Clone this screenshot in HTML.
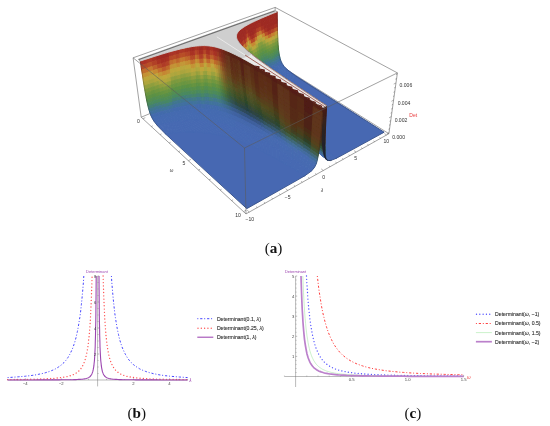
<!DOCTYPE html><html><head><meta charset="utf-8"><title>Figure</title>
<style>html,body{margin:0;padding:0;background:#fff}svg{display:block}text{font-family:"Liberation Sans",sans-serif}.cap{font-family:"Liberation Serif",serif;font-size:15.2px;fill:#111}</style></head><body>
<svg width="550" height="426" viewBox="0 0 550 426">
<rect width="550" height="426" fill="#fff"/>
<defs><linearGradient id="slv" x1="0" y1="107" x2="0" y2="160" gradientUnits="userSpaceOnUse"><stop offset="0" stop-color="#4a1c14"/><stop offset="0.45" stop-color="#2a2422"/><stop offset="1" stop-color="#1c2436"/></linearGradient><filter id="bl" x="-5%" y="-5%" width="110%" height="110%"><feGaussianBlur stdDeviation="0.6"/></filter></defs>
<g stroke="#5a5a5a" stroke-width="0.6" fill="none" stroke-opacity="0.95">
<path d="M274.6 62L141.2 117.2"/>
<path d="M274.6 62L388.9 133.7"/>
<path d="M274.6 62L275.2 7.4"/>
</g>
<g filter="url(#bl)" stroke-width="1" stroke-linejoin="round">
<path d="M296 76.1L295 77.3L294 78.5L293.1 79.7L292.3 80.9L291.6 82.1L290.9 83.3L290.3 84.5L289.7 85.7L289.2 86.9L288.8 88.1L288.5 89.3L288.2 90.5L288 91.8L287.8 93L287.7 94.3L287.7 95.6L287.8 96.9L287.9 98.2L288.1 99.5L288.4 100.9L288.7 102.2L289.1 103.6L289.6 105L290.2 106.5L290.9 108L291.6 109.5L292.4 111L293.3 112.6L294.2 114.2L295.3 115.8L296.5 117.5L297.7 119.3L299 121L300.5 122.9L302 124.8L303.6 126.7L305.4 128.7L307.2 130.7L309.2 132.8L311.2 135L313.4 137.3L315.8 139.6L318.2 142L320.8 144.5L323.5 147.1L326.4 149.7L329.5 152.5L332.6 155.4L336 158.4L384.1 132.2z" fill="#4668b2" stroke="#4668b2"/>
<path d="M277.2 11.7L273.2 13.3L273.3 17.4L277.2 15.9z" fill="#9e2a21" stroke="#9e2a21"/>
<path d="M277.2 15.9L273.3 17.4L273.5 21.5L277.3 19.9z" fill="#9e2a21" stroke="#9e2a21"/>
<path d="M277.3 19.9L273.5 21.5L273.6 25.4L277.3 23.8z" fill="#9e2a21" stroke="#9e2a21"/>
<path d="M277.3 23.8L273.6 25.4L273.7 29.1L277.4 27.6z" fill="#a93224" stroke="#a93224"/>
<path d="M277.4 27.6L273.7 29.1L273.9 32.8L277.5 31.2z" fill="#bb592a" stroke="#bb592a"/>
<path d="M277.5 31.2L273.9 32.8L274.1 36.3L277.6 34.7z" fill="#c39436" stroke="#c39436"/>
<path d="M277.6 34.7L274.1 36.3L274.3 39.6L277.8 38.1z" fill="#b3a63c" stroke="#b3a63c"/>
<path d="M277.8 38.1L274.3 39.6L274.6 42.9L277.9 41.3z" fill="#8a9d3d" stroke="#8a9d3d"/>
<path d="M277.9 41.3L274.6 42.9L274.8 46L278.1 44.4z" fill="#75983f" stroke="#75983f"/>
<path d="M278.1 44.4L274.8 46L275.2 49L278.4 47.4z" fill="#639341" stroke="#639341"/>
<path d="M278.4 47.4L275.2 49L275.6 51.8L278.6 50.3z" fill="#578f4a" stroke="#578f4a"/>
<path d="M278.6 50.3L275.6 51.8L276 54.6L279 53.1z" fill="#4d8b58" stroke="#4d8b58"/>
<path d="M279 53.1L276 54.6L276.6 57.2L279.5 55.8z" fill="#46846b" stroke="#46846b"/>
<path d="M273.2 13.3L269.6 14.8L269.7 18.9L273.3 17.4z" fill="#9e2a21" stroke="#9e2a21"/>
<path d="M273.3 17.4L269.7 18.9L269.9 23L273.5 21.5z" fill="#9e2a21" stroke="#9e2a21"/>
<path d="M273.5 21.5L269.9 23L270.1 26.9L273.6 25.4z" fill="#9e2a21" stroke="#9e2a21"/>
<path d="M279.5 55.8L276.6 57.2L277.4 59.8L280.1 58.3z" fill="#427a88" stroke="#427a88"/>
<path d="M273.6 25.4L270.1 26.9L270.3 30.6L273.7 29.1z" fill="#a22d22" stroke="#a22d22"/>
<path d="M273.7 29.1L270.3 30.6L270.5 34.3L273.9 32.8z" fill="#b34327" stroke="#b34327"/>
<path d="M273.9 32.8L270.5 34.3L270.8 37.8L274.1 36.3z" fill="#c58030" stroke="#c58030"/>
<path d="M274.1 36.3L270.8 37.8L271.1 41.1L274.3 39.6z" fill="#bca63b" stroke="#bca63b"/>
<path d="M274.3 39.6L271.1 41.1L271.4 44.4L274.6 42.9z" fill="#99a03d" stroke="#99a03d"/>
<path d="M274.6 42.9L271.4 44.4L271.8 47.5L274.8 46z" fill="#7b993e" stroke="#7b993e"/>
<path d="M280.1 58.3L277.4 59.8L278.4 62.3L280.9 60.9z" fill="#41729c" stroke="#41729c"/>
<path d="M274.8 46L271.8 47.5L272.2 50.4L275.2 49z" fill="#699440" stroke="#699440"/>
<path d="M275.2 49L272.2 50.4L272.7 53.3L275.6 51.8z" fill="#599046" stroke="#599046"/>
<path d="M275.6 51.8L272.7 53.3L273.3 56L276 54.6z" fill="#4f8c55" stroke="#4f8c55"/>
<path d="M280.9 60.9L278.4 62.3L279.8 64.8L282.1 63.4z" fill="#436cab" stroke="#436cab"/>
<path d="M276 54.6L273.3 56L274 58.6L276.6 57.2z" fill="#478666" stroke="#478666"/>
<path d="M276.6 57.2L274 58.6L274.9 61.2L277.4 59.8z" fill="#437c83" stroke="#437c83"/>
<path d="M269.6 14.8L266.1 16.2L266.4 20.4L269.7 18.9z" fill="#9e2a21" stroke="#9e2a21"/>
<path d="M269.7 18.9L266.4 20.4L266.6 24.4L269.9 23z" fill="#9e2a21" stroke="#9e2a21"/>
<path d="M269.9 23L266.6 24.4L266.8 28.3L270.1 26.9z" fill="#9e2a21" stroke="#9e2a21"/>
<path d="M270.1 26.9L266.8 28.3L267.1 32.1L270.3 30.6z" fill="#9e2a21" stroke="#9e2a21"/>
<path d="M270.3 30.6L267.1 32.1L267.4 35.7L270.5 34.3z" fill="#ac3725" stroke="#ac3725"/>
<path d="M270.5 34.3L267.4 35.7L267.7 39.2L270.8 37.8z" fill="#c06c2d" stroke="#c06c2d"/>
<path d="M270.8 37.8L267.7 39.2L268.1 42.6L271.1 41.1z" fill="#c1a43a" stroke="#c1a43a"/>
<path d="M271.1 41.1L268.1 42.6L268.4 45.8L271.4 44.4z" fill="#a5a33d" stroke="#a5a33d"/>
<path d="M277.4 59.8L274.9 61.2L276 63.6L278.4 62.3z" fill="#41749a" stroke="#41749a"/>
<path d="M271.4 44.4L268.4 45.8L268.9 48.9L271.8 47.5z" fill="#7f9a3d" stroke="#7f9a3d"/>
<path d="M282.1 63.4L279.8 64.8L281.9 67.5L283.9 66.2z" fill="#446ab0" stroke="#446ab0"/>
<path d="M271.8 47.5L268.9 48.9L269.4 51.8L272.2 50.4z" fill="#6c9540" stroke="#6c9540"/>
<path d="M272.2 50.4L269.4 51.8L270 54.7L272.7 53.3z" fill="#5b9143" stroke="#5b9143"/>
<path d="M272.7 53.3L270 54.7L270.6 57.4L273.3 56z" fill="#518c53" stroke="#518c53"/>
<path d="M278.4 62.3L276 63.6L277.6 66.1L279.8 64.8z" fill="#436da9" stroke="#436da9"/>
<path d="M273.3 56L270.6 57.4L271.5 60L274 58.6z" fill="#488861" stroke="#488861"/>
<path d="M274 58.6L271.5 60L272.5 62.5L274.9 61.2z" fill="#437e7f" stroke="#437e7f"/>
<path d="M266.1 16.2L263 17.6L263.2 21.7L266.4 20.4z" fill="#9e2a21" stroke="#9e2a21"/>
<path d="M266.4 20.4L263.2 21.7L263.5 25.8L266.6 24.4z" fill="#9e2a21" stroke="#9e2a21"/>
<path d="M266.6 24.4L263.5 25.8L263.8 29.7L266.8 28.3z" fill="#9e2a21" stroke="#9e2a21"/>
<path d="M266.8 28.3L263.8 29.7L264.1 33.4L267.1 32.1z" fill="#a63024" stroke="#a63024"/>
<path d="M267.1 32.1L264.1 33.4L264.4 37.1L267.4 35.7z" fill="#b84e28" stroke="#b84e28"/>
<path d="M267.4 35.7L264.4 37.1L264.8 40.6L267.7 39.2z" fill="#c48d33" stroke="#c48d33"/>
<path d="M267.7 39.2L264.8 40.6L265.2 43.9L268.1 42.6z" fill="#b6a63c" stroke="#b6a63c"/>
<path d="M274.9 61.2L272.5 62.5L273.8 65L276 63.6z" fill="#417599" stroke="#417599"/>
<path d="M268.1 42.6L265.2 43.9L265.7 47.1L268.4 45.8z" fill="#8f9e3d" stroke="#8f9e3d"/>
<path d="M279.8 64.8L277.6 66.1L280 68.8L281.9 67.5z" fill="#446bb0" stroke="#446bb0"/>
<path d="M268.4 45.8L265.7 47.1L266.2 50.2L268.9 48.9z" fill="#77983e" stroke="#77983e"/>
<path d="M268.9 48.9L266.2 50.2L266.8 53.2L269.4 51.8z" fill="#659441" stroke="#659441"/>
<path d="M269.4 51.8L266.8 53.2L267.4 56L270 54.7z" fill="#588f49" stroke="#588f49"/>
<path d="M283.9 66.2L281.9 67.5L285.8 71L287.4 69.7z" fill="#456ab1" stroke="#456ab1"/>
<path d="M270 54.7L267.4 56L268.2 58.7L270.6 57.4z" fill="#4e8b57" stroke="#4e8b57"/>
<path d="M276 63.6L273.8 65L275.6 67.4L277.6 66.1z" fill="#436ea8" stroke="#436ea8"/>
<path d="M270.6 57.4L268.2 58.7L269.1 61.3L271.5 60z" fill="#468569" stroke="#468569"/>
<path d="M271.5 60L269.1 61.3L270.3 63.8L272.5 62.5z" fill="#427b86" stroke="#427b86"/>
<path d="M263 17.6L260 18.8L260.3 23L263.2 21.7z" fill="#9e2a21" stroke="#9e2a21"/>
<path d="M263.2 21.7L260.3 23L260.6 27.1L263.5 25.8z" fill="#9e2a21" stroke="#9e2a21"/>
<path d="M263.5 25.8L260.6 27.1L261 31L263.8 29.7z" fill="#a63024" stroke="#a63024"/>
<path d="M263.8 29.7L261 31L261.3 34.7L264.1 33.4z" fill="#b74b28" stroke="#b74b28"/>
<path d="M264.1 33.4L261.3 34.7L261.7 38.4L264.4 37.1z" fill="#c58732" stroke="#c58732"/>
<path d="M272.5 62.5L270.3 63.8L271.7 66.3L273.8 65z" fill="#41739b" stroke="#41739b"/>
<path d="M264.4 37.1L261.7 38.4L262.1 41.9L264.8 40.6z" fill="#baa63c" stroke="#baa63c"/>
<path d="M264.8 40.6L262.1 41.9L262.6 45.2L265.2 43.9z" fill="#9aa13d" stroke="#9aa13d"/>
<path d="M277.6 66.1L275.6 67.4L278.2 70.1L280 68.8z" fill="#446bb0" stroke="#446bb0"/>
<path d="M265.2 43.9L262.6 45.2L263.1 48.5L265.7 47.1z" fill="#7c993d" stroke="#7c993d"/>
<path d="M265.7 47.1L263.1 48.5L263.7 51.5L266.2 50.2z" fill="#6b9540" stroke="#6b9540"/>
<path d="M266.2 50.2L263.7 51.5L264.3 54.5L266.8 53.2z" fill="#5c9143" stroke="#5c9143"/>
<path d="M281.9 67.5L280 68.8L284.3 72.2L285.8 71z" fill="#456ab1" stroke="#456ab1"/>
<path d="M266.8 53.2L264.3 54.5L265.1 57.3L267.4 56z" fill="#528d51" stroke="#528d51"/>
<path d="M273.8 65L271.7 66.3L273.7 68.7L275.6 67.4z" fill="#436caa" stroke="#436caa"/>
<path d="M267.4 56L265.1 57.3L265.9 60L268.2 58.7z" fill="#4a895e" stroke="#4a895e"/>
<path d="M268.2 58.7L265.9 60L266.9 62.6L269.1 61.3z" fill="#447f75" stroke="#447f75"/>
<path d="M269.1 61.3L266.9 62.6L268.2 65.1L270.3 63.8z" fill="#40768f" stroke="#40768f"/>
<path d="M260 18.8L257.3 20.1L257.6 24.3L260.3 23z" fill="#9e2a21" stroke="#9e2a21"/>
<path d="M260.3 23L257.6 24.3L258 28.3L260.6 27.1z" fill="#a42f23" stroke="#a42f23"/>
<path d="M260.6 27.1L258 28.3L258.3 32.2L261 31z" fill="#b34427" stroke="#b34427"/>
<path d="M270.3 63.8L268.2 65.1L269.8 67.5L271.7 66.3z" fill="#41709f" stroke="#41709f"/>
<path d="M261 31L258.3 32.2L258.7 36L261.3 34.7z" fill="#c4792f" stroke="#c4792f"/>
<path d="M261.3 34.7L258.7 36L259.2 39.6L261.7 38.4z" fill="#c1a63b" stroke="#c1a63b"/>
<path d="M275.6 67.4L273.7 68.7L276.6 71.3L278.2 70.1z" fill="#446ab0" stroke="#446ab0"/>
<path d="M261.7 38.4L259.2 39.6L259.6 43.1L262.1 41.9z" fill="#a9a43d" stroke="#a9a43d"/>
<path d="M262.1 41.9L259.6 43.1L260.2 46.5L262.6 45.2z" fill="#849b3d" stroke="#849b3d"/>
<path d="M262.6 45.2L260.2 46.5L260.7 49.7L263.1 48.5z" fill="#73973f" stroke="#73973f"/>
<path d="M263.1 48.5L260.7 49.7L261.3 52.8L263.7 51.5z" fill="#639341" stroke="#639341"/>
<path d="M280 68.8L278.2 70.1L282.9 73.4L284.3 72.2z" fill="#456ab1" stroke="#456ab1"/>
<path d="M263.7 51.5L261.3 52.8L262 55.8L264.3 54.5z" fill="#578f4a" stroke="#578f4a"/>
<path d="M264.3 54.5L262 55.8L262.8 58.6L265.1 57.3z" fill="#4f8b56" stroke="#4f8b56"/>
<path d="M271.7 66.3L269.8 67.5L271.9 70L273.7 68.7z" fill="#436aad" stroke="#436aad"/>
<path d="M265.1 57.3L262.8 58.6L263.8 61.3L265.9 60z" fill="#478665" stroke="#478665"/>
<path d="M265.9 60L263.8 61.3L264.9 63.9L266.9 62.6z" fill="#427c7d" stroke="#427c7d"/>
<path d="M266.9 62.6L264.9 63.9L266.2 66.4L268.2 65.1z" fill="#407394" stroke="#407394"/>
<path d="M257.3 20.1L254.7 21.2L255.1 25.4L257.6 24.3z" fill="#9e2a21" stroke="#9e2a21"/>
<path d="M268.2 65.1L266.2 66.4L267.9 68.8L269.8 67.5z" fill="#416ea2" stroke="#416ea2"/>
<path d="M257.6 24.3L255.1 25.4L255.5 29.5L258 28.3z" fill="#a12c22" stroke="#a12c22"/>
<path d="M258 28.3L255.5 29.5L255.9 33.4L258.3 32.2z" fill="#af3c26" stroke="#af3c26"/>
<path d="M273.7 68.7L271.9 70L275 72.5L276.6 71.3z" fill="#446ab0" stroke="#446ab0"/>
<path d="M258.3 32.2L255.9 33.4L256.4 37.2L258.7 36z" fill="#c06c2d" stroke="#c06c2d"/>
<path d="M258.7 36L256.4 37.2L256.8 40.8L259.2 39.6z" fill="#c29e38" stroke="#c29e38"/>
<path d="M259.2 39.6L256.8 40.8L257.3 44.3L259.6 43.1z" fill="#b0a63d" stroke="#b0a63d"/>
<path d="M259.6 43.1L257.3 44.3L257.9 47.7L260.2 46.5z" fill="#889c3d" stroke="#889c3d"/>
<path d="M287.4 69.7L285.8 71L295.8 77.7L296.7 76.6z" fill="#4669b2" stroke="#4669b2"/>
<path d="M260.2 46.5L257.9 47.7L258.5 50.9L260.7 49.7z" fill="#75983e" stroke="#75983e"/>
<path d="M260.7 49.7L258.5 50.9L259.2 54L261.3 52.8z" fill="#659441" stroke="#659441"/>
<path d="M278.2 70.1L276.6 71.3L281.5 74.6L282.9 73.4z" fill="#456ab1" stroke="#456ab1"/>
<path d="M261.3 52.8L259.2 54L259.9 57L262 55.8z" fill="#589048" stroke="#589048"/>
<path d="M262 55.8L259.9 57L260.8 59.8L262.8 58.6z" fill="#508c55" stroke="#508c55"/>
<path d="M269.8 67.5L267.9 68.8L270.2 71.2L271.9 70z" fill="#436aad" stroke="#436aad"/>
<path d="M262.8 58.6L260.8 59.8L261.8 62.5L263.8 61.3z" fill="#478862" stroke="#478862"/>
<path d="M263.8 61.3L261.8 62.5L263 65.1L264.9 63.9z" fill="#437d7b" stroke="#437d7b"/>
<path d="M264.9 63.9L263 65.1L264.4 67.6L266.2 66.4z" fill="#407493" stroke="#407493"/>
<path d="M266.2 66.4L264.4 67.6L266.2 70L267.9 68.8z" fill="#416ea1" stroke="#416ea1"/>
<path d="M254.7 21.2L252.4 22.4L252.8 26.6L255.1 25.4z" fill="#9e2a21" stroke="#9e2a21"/>
<path d="M255.1 25.4L252.8 26.6L253.2 30.6L255.5 29.5z" fill="#9e2a21" stroke="#9e2a21"/>
<path d="M271.9 70L270.2 71.2L273.5 73.8L275 72.5z" fill="#446ab0" stroke="#446ab0"/>
<path d="M255.5 29.5L253.2 30.6L253.7 34.6L255.9 33.4z" fill="#a22d22" stroke="#a22d22"/>
<path d="M255.9 33.4L253.7 34.6L254.1 38.3L256.4 37.2z" fill="#b03f26" stroke="#b03f26"/>
<path d="M256.4 37.2L254.1 38.3L254.7 42L256.8 40.8z" fill="#c2742e" stroke="#c2742e"/>
<path d="M285.8 71L284.3 72.2L294.9 78.8L295.8 77.7z" fill="#4669b2" stroke="#4669b2"/>
<path d="M256.8 40.8L254.7 42L255.2 45.5L257.3 44.3z" fill="#c1a63b" stroke="#c1a63b"/>
<path d="M257.3 44.3L255.2 45.5L255.8 48.9L257.9 47.7z" fill="#a6a43d" stroke="#a6a43d"/>
<path d="M257.9 47.7L255.8 48.9L256.5 52.1L258.5 50.9z" fill="#819b3d" stroke="#819b3d"/>
<path d="M276.6 71.3L275 72.5L280.3 75.8L281.5 74.6z" fill="#456ab1" stroke="#456ab1"/>
<path d="M258.5 50.9L256.5 52.1L257.2 55.2L259.2 54z" fill="#6f963f" stroke="#6f963f"/>
<path d="M259.2 54L257.2 55.2L258 58.2L259.9 57z" fill="#5f9242" stroke="#5f9242"/>
<path d="M259.9 57L258 58.2L258.9 61L260.8 59.8z" fill="#548e4e" stroke="#548e4e"/>
<path d="M267.9 68.8L266.2 70L268.7 72.4L270.2 71.2z" fill="#436aad" stroke="#436aad"/>
<path d="M260.8 59.8L258.9 61L260 63.7L261.8 62.5z" fill="#4b8a5b" stroke="#4b8a5b"/>
<path d="M261.8 62.5L260 63.7L261.2 66.3L263 65.1z" fill="#458171" stroke="#458171"/>
<path d="M263 65.1L261.2 66.3L262.7 68.8L264.4 67.6z" fill="#41788c" stroke="#41788c"/>
<path d="M252.4 22.4L250.2 23.4L250.7 27.7L252.8 26.6z" fill="#9e2a21" stroke="#9e2a21"/>
<path d="M252.8 26.6L250.7 27.7L251.1 31.7L253.2 30.6z" fill="#9e2a21" stroke="#9e2a21"/>
<path d="M264.4 67.6L262.7 68.8L264.7 71.2L266.2 70z" fill="#41719e" stroke="#41719e"/>
<path d="M253.2 30.6L251.1 31.7L251.6 35.7L253.7 34.6z" fill="#9e2a21" stroke="#9e2a21"/>
<path d="M253.7 34.6L251.6 35.7L252.1 39.5L254.1 38.3z" fill="#a52f23" stroke="#a52f23"/>
<path d="M270.2 71.2L268.7 72.4L272.2 75L273.5 73.8z" fill="#446ab0" stroke="#446ab0"/>
<path d="M284.3 72.2L282.9 73.4L294.1 80L294.9 78.8z" fill="#4669b2" stroke="#4669b2"/>
<path d="M254.1 38.3L252.1 39.5L252.7 43.1L254.7 42z" fill="#b64a28" stroke="#b64a28"/>
<path d="M254.7 42L252.7 43.1L253.2 46.6L255.2 45.5z" fill="#c58832" stroke="#c58832"/>
<path d="M255.2 45.5L253.2 46.6L253.9 50L255.8 48.9z" fill="#b8a63c" stroke="#b8a63c"/>
<path d="M255.8 48.9L253.9 50L254.6 53.2L256.5 52.1z" fill="#939f3d" stroke="#939f3d"/>
<path d="M275 72.5L273.5 73.8L279.1 77L280.3 75.8z" fill="#456ab1" stroke="#456ab1"/>
<path d="M256.5 52.1L254.6 53.2L255.3 56.4L257.2 55.2z" fill="#78983e" stroke="#78983e"/>
<path d="M257.2 55.2L255.3 56.4L256.2 59.3L258 58.2z" fill="#669441" stroke="#669441"/>
<path d="M258 58.2L256.2 59.3L257.1 62.2L258.9 61z" fill="#589048" stroke="#589048"/>
<path d="M266.2 70L264.7 71.2L267.2 73.6L268.7 72.4z" fill="#436bac" stroke="#436bac"/>
<path d="M258.9 61L257.1 62.2L258.3 64.9L260 63.7z" fill="#4f8b56" stroke="#4f8b56"/>
<path d="M260 63.7L258.3 64.9L259.6 67.5L261.2 66.3z" fill="#468568" stroke="#468568"/>
<path d="M261.2 66.3L259.6 67.5L261.2 69.9L262.7 68.8z" fill="#427b85" stroke="#427b85"/>
<path d="M250.2 23.4L248.3 24.5L248.7 28.7L250.7 27.7z" fill="#9e2a21" stroke="#9e2a21"/>
<path d="M250.7 27.7L248.7 28.7L249.2 32.8L251.1 31.7z" fill="#9e2a21" stroke="#9e2a21"/>
<path d="M251.1 31.7L249.2 32.8L249.7 36.7L251.6 35.7z" fill="#9e2a21" stroke="#9e2a21"/>
<path d="M251.6 35.7L249.7 36.7L250.2 40.5L252.1 39.5z" fill="#a52f23" stroke="#a52f23"/>
<path d="M262.7 68.8L261.2 69.9L263.2 72.4L264.7 71.2z" fill="#41739b" stroke="#41739b"/>
<path d="M252.1 39.5L250.2 40.5L250.8 44.2L252.7 43.1z" fill="#b64a28" stroke="#b64a28"/>
<path d="M282.9 73.4L281.5 74.6L293.4 81.1L294.1 80z" fill="#4669b2" stroke="#4669b2"/>
<path d="M268.7 72.4L267.2 73.6L270.9 76.1L272.2 75z" fill="#446ab0" stroke="#446ab0"/>
<path d="M252.7 43.1L250.8 44.2L251.4 47.7L253.2 46.6z" fill="#c58832" stroke="#c58832"/>
<path d="M253.2 46.6L251.4 47.7L252.1 51.1L253.9 50z" fill="#b8a63c" stroke="#b8a63c"/>
<path d="M253.9 50L252.1 51.1L252.8 54.4L254.6 53.2z" fill="#939f3d" stroke="#939f3d"/>
<path d="M254.6 53.2L252.8 54.4L253.6 57.5L255.3 56.4z" fill="#78983e" stroke="#78983e"/>
<path d="M273.5 73.8L272.2 75L278 78.2L279.1 77z" fill="#456ab1" stroke="#456ab1"/>
<path d="M255.3 56.4L253.6 57.5L254.5 60.4L256.2 59.3z" fill="#669441" stroke="#669441"/>
<path d="M256.2 59.3L254.5 60.4L255.5 63.3L257.1 62.2z" fill="#589048" stroke="#589048"/>
<path d="M257.1 62.2L255.5 63.3L256.7 66L258.3 64.9z" fill="#4f8b56" stroke="#4f8b56"/>
<path d="M264.7 71.2L263.2 72.4L265.9 74.8L267.2 73.6z" fill="#436caa" stroke="#436caa"/>
<path d="M258.3 64.9L256.7 66L258.1 68.6L259.6 67.5z" fill="#478568" stroke="#478568"/>
<path d="M259.6 67.5L258.1 68.6L259.8 71.1L261.2 69.9z" fill="#427b85" stroke="#427b85"/>
<path d="M248.3 24.5L246.5 25.5L247 29.7L248.7 28.7z" fill="#9e2a21" stroke="#9e2a21"/>
<path d="M248.7 28.7L247 29.7L247.5 33.8L249.2 32.8z" fill="#9e2a21" stroke="#9e2a21"/>
<path d="M249.2 32.8L247.5 33.8L248 37.8L249.7 36.7z" fill="#a63024" stroke="#a63024"/>
<path d="M249.7 36.7L248 37.8L248.5 41.6L250.2 40.5z" fill="#b64b28" stroke="#b64b28"/>
<path d="M250.2 40.5L248.5 41.6L249.1 45.2L250.8 44.2z" fill="#c58631" stroke="#c58631"/>
<path d="M250.8 44.2L249.1 45.2L249.8 48.8L251.4 47.7z" fill="#bba63c" stroke="#bba63c"/>
<path d="M281.5 74.6L280.3 75.8L292.7 82.2L293.4 81.1z" fill="#4669b2" stroke="#4669b2"/>
<path d="M261.2 69.9L259.8 71.1L261.9 73.5L263.2 72.4z" fill="#41739b" stroke="#41739b"/>
<path d="M251.4 47.7L249.8 48.8L250.5 52.2L252.1 51.1z" fill="#9ba13d" stroke="#9ba13d"/>
<path d="M267.2 73.6L265.9 74.8L269.7 77.3L270.9 76.1z" fill="#446ab0" stroke="#446ab0"/>
<path d="M252.1 51.1L250.5 52.2L251.2 55.4L252.8 54.4z" fill="#7c993d" stroke="#7c993d"/>
<path d="M252.8 54.4L251.2 55.4L252.1 58.6L253.6 57.5z" fill="#6c9540" stroke="#6c9540"/>
<path d="M253.6 57.5L252.1 58.6L253 61.5L254.5 60.4z" fill="#5c9143" stroke="#5c9143"/>
<path d="M272.2 75L270.9 76.1L277 79.4L278 78.2z" fill="#456ab1" stroke="#456ab1"/>
<path d="M254.5 60.4L253 61.5L254.1 64.4L255.5 63.3z" fill="#528d51" stroke="#528d51"/>
<path d="M255.5 63.3L254.1 64.4L255.3 67.1L256.7 66z" fill="#4a895e" stroke="#4a895e"/>
<path d="M263.2 72.4L261.9 73.5L264.7 75.9L265.9 74.8z" fill="#436caa" stroke="#436caa"/>
<path d="M256.7 66L255.3 67.1L256.7 69.7L258.1 68.6z" fill="#447f74" stroke="#447f74"/>
<path d="M258.1 68.6L256.7 69.7L258.5 72.2L259.8 71.1z" fill="#40768f" stroke="#40768f"/>
<path d="M246.5 25.5L244.8 26.4L245.3 30.7L247 29.7z" fill="#9e2a21" stroke="#9e2a21"/>
<path d="M247 29.7L245.3 30.7L245.9 34.8L247.5 33.8z" fill="#a63024" stroke="#a63024"/>
<path d="M247.5 33.8L245.9 34.8L246.4 38.7L248 37.8z" fill="#b54928" stroke="#b54928"/>
<path d="M248 37.8L246.4 38.7L247 42.6L248.5 41.6z" fill="#c68130" stroke="#c68130"/>
<path d="M248.5 41.6L247 42.6L247.6 46.3L249.1 45.2z" fill="#bea63b" stroke="#bea63b"/>
<path d="M249.1 45.2L247.6 46.3L248.3 49.8L249.8 48.8z" fill="#a4a33d" stroke="#a4a33d"/>
<path d="M249.8 48.8L248.3 49.8L249 53.2L250.5 52.2z" fill="#819b3d" stroke="#819b3d"/>
<path d="M280.3 75.8L279.1 77L292 83.3L292.7 82.2z" fill="#4669b2" stroke="#4669b2"/>
<path d="M259.8 71.1L258.5 72.2L260.7 74.7L261.9 73.5z" fill="#41709f" stroke="#41709f"/>
<path d="M250.5 52.2L249 53.2L249.8 56.5L251.2 55.4z" fill="#71973f" stroke="#71973f"/>
<path d="M265.9 74.8L264.7 75.9L268.7 78.5L269.7 77.3z" fill="#446ab0" stroke="#446ab0"/>
<path d="M251.2 55.4L249.8 56.5L250.7 59.6L252.1 58.6z" fill="#619341" stroke="#619341"/>
<path d="M252.1 58.6L250.7 59.6L251.6 62.6L253 61.5z" fill="#568f4b" stroke="#568f4b"/>
<path d="M270.9 76.1L269.7 77.3L276.1 80.5L277 79.4z" fill="#456ab1" stroke="#456ab1"/>
<path d="M253 61.5L251.6 62.6L252.7 65.5L254.1 64.4z" fill="#4e8b57" stroke="#4e8b57"/>
<path d="M254.1 64.4L252.7 65.5L254 68.2L255.3 67.1z" fill="#478566" stroke="#478566"/>
<path d="M261.9 73.5L260.7 74.7L263.6 77.1L264.7 75.9z" fill="#436aad" stroke="#436aad"/>
<path d="M255.3 67.1L254 68.2L255.5 70.8L256.7 69.7z" fill="#427b7e" stroke="#427b7e"/>
<path d="M256.7 69.7L255.5 70.8L257.3 73.4L258.5 72.2z" fill="#407394" stroke="#407394"/>
<path d="M244.8 26.4L243.4 27.4L243.9 31.6L245.3 30.7z" fill="#9e2a21" stroke="#9e2a21"/>
<path d="M245.3 30.7L243.9 31.6L244.4 35.7L245.9 34.8z" fill="#9e2a21" stroke="#9e2a21"/>
<path d="M245.9 34.8L244.4 35.7L245 39.7L246.4 38.7z" fill="#a73024" stroke="#a73024"/>
<path d="M246.4 38.7L245 39.7L245.6 43.6L247 42.6z" fill="#b84e28" stroke="#b84e28"/>
<path d="M247 42.6L245.6 43.6L246.2 47.2L247.6 46.3z" fill="#c58932" stroke="#c58932"/>
<path d="M247.6 46.3L246.2 47.2L246.9 50.8L248.3 49.8z" fill="#b9a63c" stroke="#b9a63c"/>
<path d="M248.3 49.8L246.9 50.8L247.7 54.2L249 53.2z" fill="#98a03d" stroke="#98a03d"/>
<path d="M249 53.2L247.7 54.2L248.5 57.5L249.8 56.5z" fill="#7b993e" stroke="#7b993e"/>
<path d="M258.5 72.2L257.3 73.4L259.6 75.8L260.7 74.7z" fill="#416da2" stroke="#416da2"/>
<path d="M279.1 77L278 78.2L291.5 84.4L292 83.3z" fill="#4669b2" stroke="#4669b2"/>
<path d="M249.8 56.5L248.5 57.5L249.4 60.7L250.7 59.6z" fill="#6b9540" stroke="#6b9540"/>
<path d="M264.7 75.9L263.6 77.1L267.7 79.7L268.7 78.5z" fill="#446ab0" stroke="#446ab0"/>
<path d="M250.7 59.6L249.4 60.7L250.4 63.7L251.6 62.6z" fill="#5b9143" stroke="#5b9143"/>
<path d="M251.6 62.6L250.4 63.7L251.5 66.5L252.7 65.5z" fill="#528d51" stroke="#528d51"/>
<path d="M269.7 77.3L268.7 78.5L275.3 81.7L276.1 80.5z" fill="#456ab1" stroke="#456ab1"/>
<path d="M252.7 65.5L251.5 66.5L252.8 69.3L254 68.2z" fill="#49895e" stroke="#49895e"/>
<path d="M260.7 74.7L259.6 75.8L262.5 78.2L263.6 77.1z" fill="#436aad" stroke="#436aad"/>
<path d="M254 68.2L252.8 69.3L254.4 71.9L255.5 70.8z" fill="#447f75" stroke="#447f75"/>
<path d="M243.4 27.4L242.1 28.3L242.6 32.6L243.9 31.6z" fill="#9e2a21" stroke="#9e2a21"/>
<path d="M243.9 31.6L242.6 32.6L243.1 36.7L244.4 35.7z" fill="#9e2a21" stroke="#9e2a21"/>
<path d="M244.4 35.7L243.1 36.7L243.7 40.7L245 39.7z" fill="#9e2a21" stroke="#9e2a21"/>
<path d="M245 39.7L243.7 40.7L244.4 44.5L245.6 43.6z" fill="#aa3225" stroke="#aa3225"/>
<path d="M255.5 70.8L254.4 71.9L256.2 74.5L257.3 73.4z" fill="#407690" stroke="#407690"/>
<path d="M245.6 43.6L244.4 44.5L245 48.2L246.2 47.2z" fill="#bc5c2b" stroke="#bc5c2b"/>
<path d="M246.2 47.2L245 48.2L245.7 51.8L246.9 50.8z" fill="#c39636" stroke="#c39636"/>
<path d="M246.9 50.8L245.7 51.8L246.5 55.2L247.7 54.2z" fill="#b2a63c" stroke="#b2a63c"/>
<path d="M247.7 54.2L246.5 55.2L247.3 58.5L248.5 57.5z" fill="#889c3d" stroke="#889c3d"/>
<path d="M248.5 57.5L247.3 58.5L248.3 61.7L249.4 60.7z" fill="#74973f" stroke="#74973f"/>
<path d="M257.3 73.4L256.2 74.5L258.6 76.9L259.6 75.8z" fill="#41709f" stroke="#41709f"/>
<path d="M278 78.2L277 79.4L290.9 85.5L291.5 84.4z" fill="#4669b2" stroke="#4669b2"/>
<path d="M249.4 60.7L248.3 61.7L249.3 64.7L250.4 63.7z" fill="#639341" stroke="#639341"/>
<path d="M263.6 77.1L262.5 78.2L266.8 80.8L267.7 79.7z" fill="#446ab0" stroke="#446ab0"/>
<path d="M250.4 63.7L249.3 64.7L250.4 67.6L251.5 66.5z" fill="#568f4b" stroke="#568f4b"/>
<path d="M251.5 66.5L250.4 67.6L251.8 70.4L252.8 69.3z" fill="#4d8b59" stroke="#4d8b59"/>
<path d="M268.7 78.5L267.7 79.7L274.5 82.9L275.3 81.7z" fill="#456ab1" stroke="#456ab1"/>
<path d="M259.6 75.8L258.6 76.9L261.6 79.4L262.5 78.2z" fill="#436aad" stroke="#436aad"/>
<path d="M252.8 69.3L251.8 70.4L253.4 73L254.4 71.9z" fill="#46836c" stroke="#46836c"/>
<path d="M242.1 28.3L240.9 29.2L241.4 33.5L242.6 32.6z" fill="#9e2a21" stroke="#9e2a21"/>
<path d="M242.6 32.6L241.4 33.5L242 37.6L243.1 36.7z" fill="#9e2a21" stroke="#9e2a21"/>
<path d="M243.1 36.7L242 37.6L242.6 41.6L243.7 40.7z" fill="#a42e23" stroke="#a42e23"/>
<path d="M243.7 40.7L242.6 41.6L243.2 45.5L244.4 44.5z" fill="#b34527" stroke="#b34527"/>
<path d="M244.4 44.5L243.2 45.5L243.9 49.2L245 48.2z" fill="#c57e2f" stroke="#c57e2f"/>
<path d="M245 48.2L243.9 49.2L244.7 52.8L245.7 51.8z" fill="#bea63b" stroke="#bea63b"/>
<path d="M254.4 71.9L253.4 73L255.3 75.6L256.2 74.5z" fill="#427a88" stroke="#427a88"/>
<path d="M245.7 51.8L244.7 52.8L245.4 56.2L246.5 55.2z" fill="#a1a23d" stroke="#a1a23d"/>
<path d="M246.5 55.2L245.4 56.2L246.3 59.5L247.3 58.5z" fill="#7f9a3d" stroke="#7f9a3d"/>
<path d="M247.3 58.5L246.3 59.5L247.2 62.7L248.3 61.7z" fill="#6d9640" stroke="#6d9640"/>
<path d="M248.3 61.7L247.2 62.7L248.3 65.7L249.3 64.7z" fill="#5d9242" stroke="#5d9242"/>
<path d="M256.2 74.5L255.3 75.6L257.7 78L258.6 76.9z" fill="#41729c" stroke="#41729c"/>
<path d="M277 79.4L276.1 80.5L290.5 86.7L290.9 85.5z" fill="#4669b2" stroke="#4669b2"/>
<path d="M249.3 64.7L248.3 65.7L249.5 68.6L250.4 67.6z" fill="#538d4f" stroke="#538d4f"/>
<path d="M262.5 78.2L261.6 79.4L266.1 82L266.8 80.8z" fill="#446ab0" stroke="#446ab0"/>
<path d="M250.4 67.6L249.5 68.6L250.9 71.4L251.8 70.4z" fill="#4a895d" stroke="#4a895d"/>
<path d="M267.7 79.7L266.8 80.8L273.9 84.1L274.5 82.9z" fill="#4569b1" stroke="#4569b1"/>
<path d="M240.9 29.2L239.9 30.1L240.4 34.4L241.4 33.5z" fill="#9e2a21" stroke="#9e2a21"/>
<path d="M241.4 33.5L240.4 34.4L241 38.5L242 37.6z" fill="#9e2a21" stroke="#9e2a21"/>
<path d="M242 37.6L241 38.5L241.6 42.5L242.6 41.6z" fill="#a02c22" stroke="#a02c22"/>
<path d="M251.8 70.4L250.9 71.4L252.5 74.1L253.4 73z" fill="#448073" stroke="#448073"/>
<path d="M258.6 76.9L257.7 78L260.9 80.5L261.6 79.4z" fill="#436cab" stroke="#436cab"/>
<path d="M242.6 41.6L241.6 42.5L242.3 46.4L243.2 45.5z" fill="#ae3b26" stroke="#ae3b26"/>
<path d="M243.2 45.5L242.3 46.4L243 50.1L243.9 49.2z" fill="#c16d2d" stroke="#c16d2d"/>
<path d="M243.9 49.2L243 50.1L243.7 53.7L244.7 52.8z" fill="#c2a23a" stroke="#c2a23a"/>
<path d="M244.7 52.8L243.7 53.7L244.5 57.2L245.4 56.2z" fill="#aaa53d" stroke="#aaa53d"/>
<path d="M253.4 73L252.5 74.1L254.5 76.7L255.3 75.6z" fill="#41778e" stroke="#41778e"/>
<path d="M245.4 56.2L244.5 57.2L245.4 60.5L246.3 59.5z" fill="#839b3d" stroke="#839b3d"/>
<path d="M246.3 59.5L245.4 60.5L246.4 63.7L247.2 62.7z" fill="#71973f" stroke="#71973f"/>
<path d="M247.2 62.7L246.4 63.7L247.4 66.8L248.3 65.7z" fill="#609242" stroke="#609242"/>
<path d="M255.3 75.6L254.5 76.7L256.9 79.2L257.7 78z" fill="#41709e" stroke="#41709e"/>
<path d="M248.3 65.7L247.4 66.8L248.7 69.7L249.5 68.6z" fill="#558e4d" stroke="#558e4d"/>
<path d="M276.1 80.5L275.3 81.7L290.1 87.8L290.5 86.7z" fill="#4669b2" stroke="#4669b2"/>
<path d="M261.6 79.4L260.9 80.5L265.4 83.2L266.1 82z" fill="#446ab0" stroke="#446ab0"/>
<path d="M249.5 68.6L248.7 69.7L250.1 72.5L250.9 71.4z" fill="#4c8a5b" stroke="#4c8a5b"/>
<path d="M239.9 30.1L239 30.9L239.6 35.2L240.4 34.4z" fill="#9e2a21" stroke="#9e2a21"/>
<path d="M240.4 34.4L239.6 35.2L240.1 39.4L241 38.5z" fill="#9e2a21" stroke="#9e2a21"/>
<path d="M241 38.5L240.1 39.4L240.8 43.4L241.6 42.5z" fill="#9e2a21" stroke="#9e2a21"/>
<path d="M241.6 42.5L240.8 43.4L241.4 47.3L242.3 46.4z" fill="#a93225" stroke="#a93225"/>
<path d="M266.8 80.8L266.1 82L273.3 85.2L273.9 84.1z" fill="#456ab1" stroke="#456ab1"/>
<path d="M250.9 71.4L250.1 72.5L251.7 75.2L252.5 74.1z" fill="#45826f" stroke="#45826f"/>
<path d="M242.3 46.4L241.4 47.3L242.2 51.1L243 50.1z" fill="#bc5b2a" stroke="#bc5b2a"/>
<path d="M243 50.1L242.2 51.1L242.9 54.7L243.7 53.7z" fill="#c39636" stroke="#c39636"/>
<path d="M257.7 78L256.9 79.2L260.2 81.7L260.9 80.5z" fill="#436aac" stroke="#436aac"/>
<path d="M243.7 53.7L242.9 54.7L243.7 58.1L244.5 57.2z" fill="#b2a63c" stroke="#b2a63c"/>
<path d="M244.5 57.2L243.7 58.1L244.6 61.5L245.4 60.5z" fill="#899c3d" stroke="#899c3d"/>
<path d="M252.5 74.1L251.7 75.2L253.7 77.8L254.5 76.7z" fill="#41788b" stroke="#41788b"/>
<path d="M245.4 60.5L244.6 61.5L245.6 64.7L246.4 63.7z" fill="#74973f" stroke="#74973f"/>
<path d="M246.4 63.7L245.6 64.7L246.7 67.8L247.4 66.8z" fill="#639341" stroke="#639341"/>
<path d="M247.4 66.8L246.7 67.8L248 70.7L248.7 69.7z" fill="#568f4b" stroke="#568f4b"/>
<path d="M254.5 76.7L253.7 77.8L256.2 80.3L256.9 79.2z" fill="#41719d" stroke="#41719d"/>
<path d="M239 30.9L238.2 31.8L238.8 36.1L239.6 35.2z" fill="#9e2a21" stroke="#9e2a21"/>
<path d="M239.6 35.2L238.8 36.1L239.4 40.3L240.1 39.4z" fill="#9e2a21" stroke="#9e2a21"/>
<path d="M275.3 81.7L274.5 82.9L289.7 88.9L290.1 87.8z" fill="#4669b2" stroke="#4669b2"/>
<path d="M248.7 69.7L248 70.7L249.4 73.5L250.1 72.5z" fill="#4d8b59" stroke="#4d8b59"/>
<path d="M240.1 39.4L239.4 40.3L240.1 44.3L240.8 43.4z" fill="#a73024" stroke="#a73024"/>
<path d="M240.8 43.4L240.1 44.3L240.7 48.2L241.4 47.3z" fill="#b74c28" stroke="#b74c28"/>
<path d="M260.9 80.5L260.2 81.7L264.8 84.3L265.4 83.2z" fill="#446ab0" stroke="#446ab0"/>
<path d="M241.4 47.3L240.7 48.2L241.5 52L242.2 51.1z" fill="#c58832" stroke="#c58832"/>
<path d="M242.2 51.1L241.5 52L242.2 55.6L242.9 54.7z" fill="#baa63c" stroke="#baa63c"/>
<path d="M250.1 72.5L249.4 73.5L251.1 76.2L251.7 75.2z" fill="#46836c" stroke="#46836c"/>
<path d="M242.9 54.7L242.2 55.6L243.1 59.1L243.7 58.1z" fill="#99a03d" stroke="#99a03d"/>
<path d="M266.1 82L265.4 83.2L272.8 86.4L273.3 85.2z" fill="#456ab1" stroke="#456ab1"/>
<path d="M256.9 79.2L256.2 80.3L259.6 82.8L260.2 81.7z" fill="#436bac" stroke="#436bac"/>
<path d="M243.7 58.1L243.1 59.1L244 62.5L244.6 61.5z" fill="#7c993d" stroke="#7c993d"/>
<path d="M244.6 61.5L244 62.5L245 65.7L245.6 64.7z" fill="#6b9540" stroke="#6b9540"/>
<path d="M251.7 75.2L251.1 76.2L253.1 78.9L253.7 77.8z" fill="#427a88" stroke="#427a88"/>
<path d="M245.6 64.7L245 65.7L246.1 68.8L246.7 67.8z" fill="#5b9143" stroke="#5b9143"/>
<path d="M238.2 31.8L237.6 32.6L238.2 37L238.8 36.1z" fill="#9e2a21" stroke="#9e2a21"/>
<path d="M246.7 67.8L246.1 68.8L247.4 71.7L248 70.7z" fill="#528d51" stroke="#528d51"/>
<path d="M238.8 36.1L238.2 37L238.8 41.2L239.4 40.3z" fill="#9e2a21" stroke="#9e2a21"/>
<path d="M253.7 77.8L253.1 78.9L255.7 81.4L256.2 80.3z" fill="#41729c" stroke="#41729c"/>
<path d="M239.4 40.3L238.8 41.2L239.5 45.2L240.1 44.3z" fill="#9e2a21" stroke="#9e2a21"/>
<path d="M240.1 44.3L239.5 45.2L240.2 49.1L240.7 48.2z" fill="#ac3625" stroke="#ac3625"/>
<path d="M248 70.7L247.4 71.7L248.8 74.6L249.4 73.5z" fill="#4a895e" stroke="#4a895e"/>
<path d="M240.7 48.2L240.2 49.1L240.9 52.9L241.5 52z" fill="#be652c" stroke="#be652c"/>
<path d="M274.5 82.9L273.9 84.1L289.4 90.1L289.7 88.9z" fill="#4669b2" stroke="#4669b2"/>
<path d="M241.5 52L240.9 52.9L241.7 56.6L242.2 55.6z" fill="#c29c38" stroke="#c29c38"/>
<path d="M260.2 81.7L259.6 82.8L264.3 85.5L264.8 84.3z" fill="#446ab0" stroke="#446ab0"/>
<path d="M242.2 55.6L241.7 56.6L242.5 60.1L243.1 59.1z" fill="#afa63d" stroke="#afa63d"/>
<path d="M249.4 73.5L248.8 74.6L250.6 77.3L251.1 76.2z" fill="#447f75" stroke="#447f75"/>
<path d="M243.1 59.1L242.5 60.1L243.5 63.4L244 62.5z" fill="#859c3d" stroke="#859c3d"/>
<path d="M265.4 83.2L264.8 84.3L272.4 87.6L272.8 86.4z" fill="#456ab1" stroke="#456ab1"/>
<path d="M256.2 80.3L255.7 81.4L259.1 84L259.6 82.8z" fill="#436cab" stroke="#436cab"/>
<path d="M244 62.5L243.5 63.4L244.5 66.7L245 65.7z" fill="#72973f" stroke="#72973f"/>
<path d="M251.1 76.2L250.6 77.3L252.6 80L253.1 78.9z" fill="#407690" stroke="#407690"/>
<path d="M245 65.7L244.5 66.7L245.6 69.8L246.1 68.8z" fill="#619341" stroke="#619341"/>
<path d="M237.6 32.6L237.1 33.5L237.7 37.9L238.2 37z" fill="#9e2a21" stroke="#9e2a21"/>
<path d="M238.2 37L237.7 37.9L238.4 42.1L238.8 41.2z" fill="#9e2a21" stroke="#9e2a21"/>
<path d="M246.1 68.8L245.6 69.8L246.9 72.8L247.4 71.7z" fill="#558e4c" stroke="#558e4c"/>
<path d="M238.8 41.2L238.4 42.1L239 46.1L239.5 45.2z" fill="#9e2a21" stroke="#9e2a21"/>
<path d="M239.5 45.2L239 46.1L239.7 50.1L240.2 49.1z" fill="#a42e23" stroke="#a42e23"/>
<path d="M253.1 78.9L252.6 80L255.2 82.5L255.7 81.4z" fill="#41709f" stroke="#41709f"/>
<path d="M240.2 49.1L239.7 50.1L240.5 53.9L240.9 52.9z" fill="#b54828" stroke="#b54828"/>
<path d="M247.4 71.7L246.9 72.8L248.4 75.7L248.8 74.6z" fill="#4c8a5a" stroke="#4c8a5a"/>
<path d="M240.9 52.9L240.5 53.9L241.3 57.5L241.7 56.6z" fill="#c58531" stroke="#c58531"/>
<path d="M241.7 56.6L241.3 57.5L242.1 61L242.5 60.1z" fill="#b9a63c" stroke="#b9a63c"/>
<path d="M273.9 84.1L273.3 85.2L289.2 91.3L289.4 90.1z" fill="#4669b2" stroke="#4669b2"/>
<path d="M259.6 82.8L259.1 84L263.9 86.7L264.3 85.5z" fill="#446ab0" stroke="#446ab0"/>
<path d="M248.8 74.6L248.4 75.7L250.1 78.4L250.6 77.3z" fill="#45826e" stroke="#45826e"/>
<path d="M242.5 60.1L242.1 61L243.1 64.4L243.5 63.4z" fill="#959f3d" stroke="#959f3d"/>
<path d="M243.5 63.4L243.1 64.4L244.1 67.7L244.5 66.7z" fill="#79993e" stroke="#79993e"/>
<path d="M264.8 84.3L264.3 85.5L272 88.8L272.4 87.6z" fill="#456ab1" stroke="#456ab1"/>
<path d="M255.7 81.4L255.2 82.5L258.7 85.1L259.1 84z" fill="#436aad" stroke="#436aad"/>
<path d="M237.1 33.5L236.8 34.4L237.4 38.7L237.7 37.9z" fill="#9e2a21" stroke="#9e2a21"/>
<path d="M250.6 77.3L250.1 78.4L252.3 81.1L252.6 80z" fill="#41798a" stroke="#41798a"/>
<path d="M244.5 66.7L244.1 67.7L245.2 70.8L245.6 69.8z" fill="#679441" stroke="#679441"/>
<path d="M237.7 37.9L237.4 38.7L238 43L238.4 42.1z" fill="#9e2a21" stroke="#9e2a21"/>
<path d="M238.4 42.1L238 43L238.7 47L239 46.1z" fill="#a12c22" stroke="#a12c22"/>
<path d="M245.6 69.8L245.2 70.8L246.6 73.8L246.9 72.8z" fill="#589047" stroke="#589047"/>
<path d="M239 46.1L238.7 47L239.4 51L239.7 50.1z" fill="#b03e26" stroke="#b03e26"/>
<path d="M239.7 50.1L239.4 51L240.1 54.8L240.5 53.9z" fill="#c2732e" stroke="#c2732e"/>
<path d="M240.5 53.9L240.1 54.8L241 58.5L241.3 57.5z" fill="#c1a53b" stroke="#c1a53b"/>
<path d="M246.9 72.8L246.6 73.8L248.1 76.7L248.4 75.7z" fill="#4f8b56" stroke="#4f8b56"/>
<path d="M252.6 80L252.3 81.1L254.9 83.7L255.2 82.5z" fill="#41729d" stroke="#41729d"/>
<path d="M241.3 57.5L241 58.5L241.8 62L242.1 61z" fill="#a7a43d" stroke="#a7a43d"/>
<path d="M242.1 61L241.8 62L242.8 65.4L243.1 64.4z" fill="#819b3d" stroke="#819b3d"/>
<path d="M248.4 75.7L248.1 76.7L249.8 79.5L250.1 78.4z" fill="#478667" stroke="#478667"/>
<path d="M273.3 85.2L272.8 86.4L289 92.4L289.2 91.3z" fill="#4669b2" stroke="#4669b2"/>
<path d="M259.1 84L258.7 85.1L263.6 87.9L263.9 86.7z" fill="#446ab0" stroke="#446ab0"/>
<path d="M243.1 64.4L242.8 65.4L243.8 68.7L244.1 67.7z" fill="#70963f" stroke="#70963f"/>
<path d="M236.8 34.4L236.6 35.2L237.2 39.6L237.4 38.7z" fill="#9e2a21" stroke="#9e2a21"/>
<path d="M237.4 38.7L237.2 39.6L237.8 43.9L238 43z" fill="#9e2a21" stroke="#9e2a21"/>
<path d="M244.1 67.7L243.8 68.7L245 71.9L245.2 70.8z" fill="#5f9242" stroke="#5f9242"/>
<path d="M255.2 82.5L254.9 83.7L258.4 86.3L258.7 85.1z" fill="#436bab" stroke="#436bab"/>
<path d="M238 43L237.8 43.9L238.5 48L238.7 47z" fill="#9e2a21" stroke="#9e2a21"/>
<path d="M250.1 78.4L249.8 79.5L252 82.2L252.3 81.1z" fill="#427b84" stroke="#427b84"/>
<path d="M264.3 85.5L263.9 86.7L271.8 90L272 88.8z" fill="#456ab1" stroke="#456ab1"/>
<path d="M238.7 47L238.5 48L239.2 51.9L239.4 51z" fill="#ab3425" stroke="#ab3425"/>
<path d="M245.2 70.8L245 71.9L246.3 74.9L246.6 73.8z" fill="#548e4e" stroke="#548e4e"/>
<path d="M239.4 51L239.2 51.9L240 55.8L240.1 54.8z" fill="#bd622b" stroke="#bd622b"/>
<path d="M240.1 54.8L240 55.8L240.8 59.5L241 58.5z" fill="#c39a37" stroke="#c39a37"/>
<path d="M246.6 73.8L246.3 74.9L247.8 77.8L248.1 76.7z" fill="#4b8a5b" stroke="#4b8a5b"/>
<path d="M241 58.5L240.8 59.5L241.7 63L241.8 62z" fill="#b0a63d" stroke="#b0a63d"/>
<path d="M252.3 81.1L252 82.2L254.7 84.8L254.9 83.7z" fill="#41739b" stroke="#41739b"/>
<path d="M241.8 62L241.7 63L242.6 66.4L242.8 65.4z" fill="#879c3d" stroke="#879c3d"/>
<path d="M248.1 76.7L247.8 77.8L249.6 80.6L249.8 79.5z" fill="#458171" stroke="#458171"/>
<path d="M236.6 35.2L236.5 36.1L237.1 40.5L237.2 39.6z" fill="#9e2a21" stroke="#9e2a21"/>
<path d="M242.8 65.4L242.6 66.4L243.7 69.7L243.8 68.7z" fill="#73973f" stroke="#73973f"/>
<path d="M272.8 86.4L272.4 87.6L288.9 93.6L289 92.4z" fill="#4669b2" stroke="#4669b2"/>
<path d="M237.2 39.6L237.1 40.5L237.7 44.8L237.8 43.9z" fill="#9e2a21" stroke="#9e2a21"/>
<path d="M258.7 85.1L258.4 86.3L263.4 89.1L263.6 87.9z" fill="#446ab0" stroke="#446ab0"/>
<path d="M237.8 43.9L237.7 44.8L238.4 48.9L238.5 48z" fill="#9e2a21" stroke="#9e2a21"/>
<path d="M243.8 68.7L243.7 69.7L244.9 72.9L245 71.9z" fill="#629341" stroke="#629341"/>
<path d="M238.5 48L238.4 48.9L239.1 52.9L239.2 51.9z" fill="#a73124" stroke="#a73124"/>
<path d="M249.8 79.5L249.6 80.6L251.8 83.3L252 82.2z" fill="#41788c" stroke="#41788c"/>
<path d="M254.9 83.7L254.7 84.8L258.2 87.5L258.4 86.3z" fill="#436caa" stroke="#436caa"/>
<path d="M239.2 51.9L239.1 52.9L239.9 56.7L240 55.8z" fill="#b95129" stroke="#b95129"/>
<path d="M263.9 86.7L263.6 87.9L271.6 91.2L271.8 90z" fill="#456ab1" stroke="#456ab1"/>
<path d="M245 71.9L244.9 72.9L246.2 76L246.3 74.9z" fill="#568f4c" stroke="#568f4c"/>
<path d="M240 55.8L239.9 56.7L240.7 60.4L240.8 59.5z" fill="#c48f34" stroke="#c48f34"/>
<path d="M240.8 59.5L240.7 60.4L241.6 64L241.7 63z" fill="#b5a63c" stroke="#b5a63c"/>
<path d="M246.3 74.9L246.2 76L247.8 78.9L247.8 77.8z" fill="#4d8a59" stroke="#4d8a59"/>
<path d="M252 82.2L251.8 83.3L254.6 86L254.7 84.8z" fill="#41719e" stroke="#41719e"/>
<path d="M241.7 63L241.6 64L242.6 67.5L242.6 66.4z" fill="#8d9e3d" stroke="#8d9e3d"/>
<path d="M236.5 36.1L236.5 37L237.1 41.5L237.1 40.5z" fill="#9e2a21" stroke="#9e2a21"/>
<path d="M247.8 77.8L247.8 78.9L249.6 81.7L249.6 80.6z" fill="#45836d" stroke="#45836d"/>
<path d="M242.6 66.4L242.6 67.5L243.7 70.8L243.7 69.7z" fill="#76983e" stroke="#76983e"/>
<path d="M237.1 40.5L237.1 41.5L237.8 45.7L237.7 44.8z" fill="#9e2a21" stroke="#9e2a21"/>
<path d="M237.7 44.8L237.8 45.7L238.5 49.9L238.4 48.9z" fill="#a52f23" stroke="#a52f23"/>
<path d="M272.4 87.6L272 88.8L288.9 94.8L288.9 93.6z" fill="#4669b2" stroke="#4669b2"/>
<path d="M243.7 69.7L243.7 70.8L244.9 74L244.9 72.9z" fill="#659441" stroke="#659441"/>
<path d="M258.4 86.3L258.2 87.5L263.3 90.3L263.4 89.1z" fill="#446ab0" stroke="#446ab0"/>
<path d="M238.4 48.9L238.5 49.9L239.2 53.9L239.1 52.9z" fill="#b54828" stroke="#b54828"/>
<path d="M239.1 52.9L239.2 53.9L240 57.7L239.9 56.7z" fill="#c68330" stroke="#c68330"/>
<path d="M249.6 80.6L249.6 81.7L251.8 84.5L251.8 83.3z" fill="#417989" stroke="#417989"/>
<path d="M254.7 84.8L254.6 86L258.2 88.7L258.2 87.5z" fill="#436bac" stroke="#436bac"/>
<path d="M244.9 72.9L244.9 74L246.2 77.1L246.2 76z" fill="#578f49" stroke="#578f49"/>
<path d="M239.9 56.7L240 57.7L240.8 61.5L240.7 60.4z" fill="#bca63b" stroke="#bca63b"/>
<path d="M263.6 87.9L263.4 89.1L271.5 92.5L271.6 91.2z" fill="#456ab1" stroke="#456ab1"/>
<path d="M240.7 60.4L240.8 61.5L241.7 65.1L241.6 64z" fill="#9da13d" stroke="#9da13d"/>
<path d="M246.2 76L246.2 77.1L247.8 80L247.8 78.9z" fill="#4e8b58" stroke="#4e8b58"/>
<path d="M241.6 64L241.7 65.1L242.7 68.5L242.6 67.5z" fill="#7d9a3d" stroke="#7d9a3d"/>
<path d="M236.5 37L236.7 38L237.3 42.4L237.1 41.5z" fill="#9e2a21" stroke="#9e2a21"/>
<path d="M251.8 83.3L251.8 84.5L254.5 87.2L254.6 86z" fill="#41729d" stroke="#41729d"/>
<path d="M237.1 41.5L237.3 42.4L238 46.7L237.8 45.7z" fill="#9e2a21" stroke="#9e2a21"/>
<path d="M242.6 67.5L242.7 68.5L243.8 71.9L243.7 70.8z" fill="#6c9540" stroke="#6c9540"/>
<path d="M247.8 78.9L247.8 80L249.6 82.9L249.6 81.7z" fill="#46846a" stroke="#46846a"/>
<path d="M237.8 45.7L238 46.7L238.6 50.9L238.5 49.9z" fill="#a22d22" stroke="#a22d22"/>
<path d="M238.5 49.9L238.6 50.9L239.4 54.9L239.2 53.9z" fill="#b13f26" stroke="#b13f26"/>
<path d="M243.7 70.8L243.8 71.9L245 75.1L244.9 74z" fill="#5c9142" stroke="#5c9142"/>
<path d="M272 88.8L271.8 90L288.9 96L288.9 94.8z" fill="#4669b2" stroke="#4669b2"/>
<path d="M239.2 53.9L239.4 54.9L240.2 58.7L240 57.7z" fill="#c3752e" stroke="#c3752e"/>
<path d="M258.2 87.5L258.2 88.7L263.3 91.5L263.3 90.3z" fill="#446ab0" stroke="#446ab0"/>
<path d="M249.6 81.7L249.6 82.9L251.8 85.7L251.8 84.5z" fill="#427a87" stroke="#427a87"/>
<path d="M240 57.7L240.2 58.7L241 62.5L240.8 61.5z" fill="#c1a63b" stroke="#c1a63b"/>
<path d="M244.9 74L245 75.1L246.3 78.2L246.2 77.1z" fill="#538d50" stroke="#538d50"/>
<path d="M254.6 86L254.5 87.2L258.2 89.9L258.2 88.7z" fill="#436bab" stroke="#436bab"/>
<path d="M240.8 61.5L241 62.5L241.9 66.1L241.7 65.1z" fill="#a6a33d" stroke="#a6a33d"/>
<path d="M263.4 89.1L263.3 90.3L271.5 93.7L271.5 92.5z" fill="#456ab1" stroke="#456ab1"/>
<path d="M246.2 77.1L246.3 78.2L247.9 81.2L247.8 80z" fill="#4a895d" stroke="#4a895d"/>
<path d="M236.7 38L237 39L237.6 43.4L237.3 42.4z" fill="#9e2a21" stroke="#9e2a21"/>
<path d="M241.7 65.1L241.9 66.1L242.9 69.6L242.7 68.5z" fill="#819a3d" stroke="#819a3d"/>
<path d="M237.3 42.4L237.6 43.4L238.3 47.7L238 46.7z" fill="#9e2a21" stroke="#9e2a21"/>
<path d="M251.8 84.5L251.8 85.7L254.6 88.4L254.5 87.2z" fill="#41739c" stroke="#41739c"/>
<path d="M242.7 68.5L242.9 69.6L244 73L243.8 71.9z" fill="#6f963f" stroke="#6f963f"/>
<path d="M238 46.7L238.3 47.7L239 51.9L238.6 50.9z" fill="#9e2a21" stroke="#9e2a21"/>
<path d="M247.8 80L247.9 81.2L249.8 84L249.6 82.9z" fill="#448074" stroke="#448074"/>
<path d="M238.6 50.9L239 51.9L239.7 55.9L239.4 54.9z" fill="#a42f23" stroke="#a42f23"/>
<path d="M243.8 71.9L244 73L245.2 76.2L245 75.1z" fill="#5f9242" stroke="#5f9242"/>
<path d="M239.4 54.9L239.7 55.9L240.5 59.8L240.2 58.7z" fill="#b54928" stroke="#b54928"/>
<path d="M271.8 90L271.6 91.2L289 97.2L288.9 96z" fill="#4669b2" stroke="#4669b2"/>
<path d="M258.2 88.7L258.2 89.9L263.4 92.8L263.3 91.5z" fill="#446ab0" stroke="#446ab0"/>
<path d="M240.2 58.7L240.5 59.8L241.3 63.6L241 62.5z" fill="#c48631" stroke="#c48631"/>
<path d="M245 75.1L245.2 76.2L246.6 79.3L246.3 78.2z" fill="#548e4e" stroke="#548e4e"/>
<path d="M249.6 82.9L249.8 84L252 86.9L251.8 85.7z" fill="#40778e" stroke="#40778e"/>
<path d="M254.5 87.2L254.6 88.4L258.3 91.1L258.2 89.9z" fill="#436caa" stroke="#436caa"/>
<path d="M241 62.5L241.3 63.6L242.2 67.2L241.9 66.1z" fill="#b8a43b" stroke="#b8a43b"/>
<path d="M237 39L237.4 40L238 44.4L237.6 43.4z" fill="#982a20" stroke="#982a20"/>
<path d="M263.3 90.3L263.3 91.5L271.6 95L271.5 93.7z" fill="#456ab1" stroke="#456ab1"/>
<path d="M246.3 78.2L246.6 79.3L248.2 82.3L247.9 81.2z" fill="#4b8a5c" stroke="#4b8a5c"/>
<path d="M241.9 66.1L242.2 67.2L243.2 70.7L242.9 69.6z" fill="#939e3c" stroke="#939e3c"/>
<path d="M237.6 43.4L238 44.4L238.7 48.7L238.3 47.7z" fill="#982a20" stroke="#982a20"/>
<path d="M238.3 47.7L238.7 48.7L239.4 52.9L239 51.9z" fill="#982a20" stroke="#982a20"/>
<path d="M242.9 69.6L243.2 70.7L244.3 74.1L244 73z" fill="#78983e" stroke="#78983e"/>
<path d="M251.8 85.7L252 86.9L254.8 89.6L254.6 88.4z" fill="#41709f" stroke="#41709f"/>
<path d="M239 51.9L239.4 52.9L240.1 57L239.7 55.9z" fill="#a02f23" stroke="#a02f23"/>
<path d="M247.9 81.2L248.2 82.3L250 85.2L249.8 84z" fill="#458171" stroke="#458171"/>
<path d="M244 73L244.3 74.1L245.6 77.4L245.2 76.2z" fill="#679340" stroke="#679340"/>
<path d="M239.7 55.9L240.1 57L240.9 60.9L240.5 59.8z" fill="#af4a27" stroke="#af4a27"/>
<path d="M240.5 59.8L240.9 60.9L241.8 64.7L241.3 63.6z" fill="#ba8231" stroke="#ba8231"/>
<path d="M271.6 91.2L271.5 92.5L289.1 98.4L289 97.2z" fill="#4669b2" stroke="#4669b2"/>
<path d="M245.2 76.2L245.6 77.4L246.9 80.5L246.6 79.3z" fill="#588f47" stroke="#588f47"/>
<path d="M258.2 89.9L258.3 91.1L263.5 94.1L263.4 92.8z" fill="#446ab0" stroke="#446ab0"/>
<path d="M249.8 84L250 85.2L252.3 88.1L252 86.9z" fill="#41788c" stroke="#41788c"/>
<path d="M241.3 63.6L241.8 64.7L242.7 68.3L242.2 67.2z" fill="#ae9938" stroke="#ae9938"/>
<path d="M254.6 88.4L254.8 89.6L258.5 92.4L258.3 91.1z" fill="#436aad" stroke="#436aad"/>
<path d="M237.4 40L238 41L238.6 45.5L238 44.4z" fill="#8f281f" stroke="#8f281f"/>
<path d="M242.2 67.2L242.7 68.3L243.7 71.9L243.2 70.7z" fill="#8b9439" stroke="#8b9439"/>
<path d="M246.6 79.3L246.9 80.5L248.5 83.5L248.2 82.3z" fill="#4e8b56" stroke="#4e8b56"/>
<path d="M238 44.4L238.6 45.5L239.3 49.8L238.7 48.7z" fill="#8f281f" stroke="#8f281f"/>
<path d="M263.3 91.5L263.4 92.8L271.8 96.3L271.6 95z" fill="#456ab1" stroke="#456ab1"/>
<path d="M238.7 48.7L239.3 49.8L240 54L239.4 52.9z" fill="#932b20" stroke="#932b20"/>
<path d="M243.2 70.7L243.7 71.9L244.8 75.3L244.3 74.1z" fill="#74913b" stroke="#74913b"/>
<path d="M252 86.9L252.3 88.1L255.1 90.9L254.8 89.6z" fill="#41719e" stroke="#41719e"/>
<path d="M239.4 52.9L240 54L240.7 58.1L240.1 57z" fill="#9e3c23" stroke="#9e3c23"/>
<path d="M248.2 82.3L248.5 83.5L250.4 86.5L250 85.2z" fill="#468567" stroke="#468567"/>
<path d="M240.1 57L240.7 58.1L241.5 62L240.9 60.9z" fill="#ab6529" stroke="#ab6529"/>
<path d="M244.3 74.1L244.8 75.3L246 78.6L245.6 77.4z" fill="#638e3e" stroke="#638e3e"/>
<path d="M240.9 60.9L241.5 62L242.4 65.8L241.8 64.7z" fill="#a78432" stroke="#a78432"/>
<path d="M271.5 92.5L271.5 93.7L289.3 99.7L289.1 98.4z" fill="#4669b2" stroke="#4669b2"/>
<path d="M245.6 77.4L246 78.6L247.4 81.7L246.9 80.5z" fill="#558a46" stroke="#558a46"/>
<path d="M258.3 91.1L258.5 92.4L263.8 95.4L263.5 94.1z" fill="#446ab0" stroke="#446ab0"/>
<path d="M250 85.2L250.4 86.5L252.7 89.3L252.3 88.1z" fill="#427b84" stroke="#427b84"/>
<path d="M241.8 64.7L242.4 65.8L243.3 69.5L242.7 68.3z" fill="#928633" stroke="#928633"/>
<path d="M238 41L238.7 42.1L239.3 46.6L238.6 45.5z" fill="#83261d" stroke="#83261d"/>
<path d="M254.8 89.6L255.1 90.9L258.9 93.7L258.5 92.4z" fill="#436bac" stroke="#436bac"/>
<path d="M238.6 45.5L239.3 46.6L240 50.9L239.3 49.8z" fill="#83271d" stroke="#83271d"/>
<path d="M242.7 68.3L243.3 69.5L244.3 73.1L243.7 71.9z" fill="#778535" stroke="#778535"/>
<path d="M246.9 80.5L247.4 81.7L249 84.8L248.5 83.5z" fill="#4b8654" stroke="#4b8654"/>
<path d="M263.4 92.8L263.5 94.1L272 97.6L271.8 96.3z" fill="#456ab1" stroke="#456ab1"/>
<path d="M239.3 49.8L240 50.9L240.7 55.2L240 54z" fill="#892c1f" stroke="#892c1f"/>
<path d="M243.7 71.9L244.3 73.1L245.4 76.5L244.8 75.3z" fill="#688638" stroke="#688638"/>
<path d="M240 54L240.7 55.2L241.4 59.3L240.7 58.1z" fill="#934122" stroke="#934122"/>
<path d="M252.3 88.1L252.7 89.3L255.6 92.2L255.1 90.9z" fill="#41739b" stroke="#41739b"/>
<path d="M248.5 83.5L249 84.8L250.9 87.8L250.4 86.5z" fill="#448066" stroke="#448066"/>
<path d="M240.7 58.1L241.4 59.3L242.2 63.2L241.5 62z" fill="#986028" stroke="#986028"/>
<path d="M244.8 75.3L245.4 76.5L246.6 79.8L246 78.6z" fill="#58833c" stroke="#58833c"/>
<path d="M241.5 62L242.2 63.2L243.1 67L242.4 65.8z" fill="#91702c" stroke="#91702c"/>
<path d="M271.5 93.7L271.6 95L289.5 101L289.3 99.7z" fill="#4669b2" stroke="#4669b2"/>
<path d="M246 78.6L246.6 79.8L248.1 83L247.4 81.7z" fill="#4d8047" stroke="#4d8047"/>
<path d="M242.4 65.8L243.1 67L244 70.7L243.3 69.5z" fill="#7c742e" stroke="#7c742e"/>
<path d="M250.4 86.5L250.9 87.8L253.2 90.6L252.7 89.3z" fill="#407783" stroke="#407783"/>
<path d="M258.5 92.4L258.9 93.7L264.2 96.7L263.8 95.4z" fill="#446ab0" stroke="#446ab0"/>
<path d="M238.7 42.1L239.5 43.2L240.2 47.7L239.3 46.6z" fill="#77241b" stroke="#77241b"/>
<path d="M239.3 46.6L240.2 47.7L240.9 52.1L240 50.9z" fill="#77241b" stroke="#77241b"/>
<path d="M255.1 90.9L255.6 92.2L259.3 95L258.9 93.7z" fill="#436caa" stroke="#436caa"/>
<path d="M243.3 69.5L244 70.7L245 74.3L244.3 73.1z" fill="#6c7831" stroke="#6c7831"/>
<path d="M247.4 81.7L248.1 83L249.7 86.1L249 84.8z" fill="#447c54" stroke="#447c54"/>
<path d="M240 50.9L240.9 52.1L241.6 56.4L240.7 55.2z" fill="#7b281c" stroke="#7b281c"/>
<path d="M263.5 94.1L263.8 95.4L272.4 98.9L272 97.6z" fill="#456ab1" stroke="#456ab1"/>
<path d="M244.3 73.1L245 74.3L246.2 77.7L245.4 76.5z" fill="#5e7934" stroke="#5e7934"/>
<path d="M240.7 55.2L241.6 56.4L242.3 60.5L241.4 59.3z" fill="#81331e" stroke="#81331e"/>
<path d="M252.7 89.3L253.2 90.6L256.1 93.5L255.6 92.2z" fill="#417199" stroke="#417199"/>
<path d="M249 84.8L249.7 86.1L251.6 89.1L250.9 87.8z" fill="#3f756a" stroke="#3f756a"/>
<path d="M241.4 59.3L242.3 60.5L243.1 64.4L242.2 63.2z" fill="#864b22" stroke="#864b22"/>
<path d="M245.4 76.5L246.2 77.7L247.4 81.1L246.6 79.8z" fill="#507839" stroke="#507839"/>
<path d="M242.2 63.2L243.1 64.4L244 68.3L243.1 67z" fill="#835b26" stroke="#835b26"/>
<path d="M271.6 95L271.8 96.3L289.8 102.2L289.5 101z" fill="#4669b2" stroke="#4669b2"/>
<path d="M246.6 79.8L247.4 81.1L248.8 84.3L248.1 83z" fill="#457643" stroke="#457643"/>
<path d="M243.1 67L244 68.3L244.9 72L244 70.7z" fill="#766227" stroke="#766227"/>
<path d="M239.5 43.2L240.6 44.4L241.2 49L240.2 47.7z" fill="#6b2218" stroke="#6b2218"/>
<path d="M250.9 87.8L251.6 89.1L253.9 92L253.2 90.6z" fill="#3d6f85" stroke="#3d6f85"/>
<path d="M258.9 93.7L259.3 95L264.7 98.1L264.2 96.7z" fill="#446ab0" stroke="#446ab0"/>
<path d="M240.2 47.7L241.2 49L241.9 53.4L240.9 52.1z" fill="#6c2219" stroke="#6c2219"/>
<path d="M244 70.7L244.9 72L245.9 75.6L245 74.3z" fill="#67692b" stroke="#67692b"/>
<path d="M255.6 92.2L256.1 93.5L259.9 96.4L259.3 95z" fill="#426ba9" stroke="#426ba9"/>
<path d="M248.1 83L248.8 84.3L250.4 87.4L249.7 86.1z" fill="#3e7252" stroke="#3e7252"/>
<path d="M240.9 52.1L241.9 53.4L242.6 57.6L241.6 56.4z" fill="#6e2419" stroke="#6e2419"/>
<path d="M263.8 95.4L264.2 96.7L272.8 100.3L272.4 98.9z" fill="#456ab1" stroke="#456ab1"/>
<path d="M245 74.3L245.9 75.6L247 79.1L246.2 77.7z" fill="#5b6e2e" stroke="#5b6e2e"/>
<path d="M241.6 56.4L242.6 57.6L243.3 61.7L242.3 60.5z" fill="#722b1b" stroke="#722b1b"/>
<path d="M253.2 90.6L253.9 92L256.8 94.9L256.1 93.5z" fill="#3f6c99" stroke="#3f6c99"/>
<path d="M242.3 60.5L243.3 61.7L244.1 65.7L243.1 64.4z" fill="#773b1d" stroke="#773b1d"/>
<path d="M249.7 86.1L250.4 87.4L252.3 90.4L251.6 89.1z" fill="#3a6b68" stroke="#3a6b68"/>
<path d="M246.2 77.7L247 79.1L248.3 82.4L247.4 81.1z" fill="#4c6d33" stroke="#4c6d33"/>
<path d="M243.1 64.4L244.1 65.7L245 69.6L244 68.3z" fill="#764820" stroke="#764820"/>
<path d="M271.8 96.3L272 97.6L290.2 103.5L289.8 102.2z" fill="#4669b2" stroke="#4669b2"/>
<path d="M247.4 81.1L248.3 82.4L249.7 85.7L248.8 84.3z" fill="#416c3c" stroke="#416c3c"/>
<path d="M244 68.3L245 69.6L245.9 73.3L244.9 72z" fill="#6f5121" stroke="#6f5121"/>
<path d="M240.6 44.4L241.7 45.7L242.4 50.3L241.2 49z" fill="#622017" stroke="#622017"/>
<path d="M251.6 89.1L252.3 90.4L254.7 93.4L253.9 92z" fill="#3a6882" stroke="#3a6882"/>
<path d="M259.3 95L259.9 96.4L265.3 99.5L264.7 98.1z" fill="#446aaf" stroke="#446aaf"/>
<path d="M241.2 49L242.4 50.3L243.1 54.7L241.9 53.4z" fill="#632017" stroke="#632017"/>
<path d="M244.9 72L245.9 73.3L246.9 77L245.9 75.6z" fill="#615c25" stroke="#615c25"/>
<path d="M256.1 93.5L256.8 94.9L260.6 97.8L259.9 96.4z" fill="#4268aa" stroke="#4268aa"/>
<path d="M248.8 84.3L249.7 85.7L251.3 88.8L250.4 87.4z" fill="#3a694a" stroke="#3a694a"/>
<path d="M241.9 53.4L243.1 54.7L243.8 58.9L242.6 57.6z" fill="#642217" stroke="#642217"/>
<path d="M264.2 96.7L264.7 98.1L273.3 101.7L272.8 100.3z" fill="#456ab1" stroke="#456ab1"/>
<path d="M245.9 75.6L246.9 77L248.1 80.4L247 79.1z" fill="#576329" stroke="#576329"/>
<path d="M242.6 57.6L243.8 58.9L244.5 63.1L243.3 61.7z" fill="#672718" stroke="#672718"/>
<path d="M253.9 92L254.7 93.4L257.6 96.3L256.8 94.9z" fill="#3e6797" stroke="#3e6797"/>
<path d="M243.3 61.7L244.5 63.1L245.3 67.1L244.1 65.7z" fill="#6a311a" stroke="#6a311a"/>
<path d="M250.4 87.4L251.3 88.8L253.2 91.8L252.3 90.4z" fill="#36645f" stroke="#36645f"/>
<path d="M247 79.1L248.1 80.4L249.3 83.8L248.3 82.4z" fill="#49632e" stroke="#49632e"/>
<path d="M244.1 65.7L245.3 67.1L246.2 71L245 69.6z" fill="#693b1c" stroke="#693b1c"/>
<path d="M272 97.6L272.4 98.9L290.7 104.9L290.2 103.5z" fill="#4669b2" stroke="#4669b2"/>
<path d="M248.3 82.4L249.3 83.8L250.7 87.1L249.7 85.7z" fill="#3d6335" stroke="#3d6335"/>
<path d="M245 69.6L246.2 71L247.1 74.7L245.9 73.3z" fill="#65451d" stroke="#65451d"/>
<path d="M241.7 45.7L243.1 47.1L243.7 51.6L242.4 50.3z" fill="#5b1e15" stroke="#5b1e15"/>
<path d="M252.3 90.4L253.2 91.8L255.6 94.8L254.7 93.4z" fill="#37637a" stroke="#37637a"/>
<path d="M259.9 96.4L260.6 97.8L266 100.9L265.3 99.5z" fill="#446aaf" stroke="#446aaf"/>
<path d="M242.4 50.3L243.7 51.6L244.4 56.1L243.1 54.7z" fill="#5b1e15" stroke="#5b1e15"/>
<path d="M245.9 73.3L247.1 74.7L248.1 78.4L246.9 77z" fill="#5a5121" stroke="#5a5121"/>
<path d="M256.8 94.9L257.6 96.3L261.4 99.3L260.6 97.8z" fill="#4167a8" stroke="#4167a8"/>
<path d="M249.7 85.7L250.7 87.1L252.4 90.2L251.3 88.8z" fill="#366043" stroke="#366043"/>
<path d="M243.1 54.7L244.4 56.1L245.1 60.4L243.8 58.9z" fill="#5c1f16" stroke="#5c1f16"/>
<path d="M264.7 98.1L265.3 99.5L273.9 103.1L273.3 101.7z" fill="#456ab1" stroke="#456ab1"/>
<path d="M246.9 77L248.1 78.4L249.2 81.9L248.1 80.4z" fill="#525a25" stroke="#525a25"/>
<path d="M243.8 58.9L245.1 60.4L245.9 64.5L244.5 63.1z" fill="#5d2216" stroke="#5d2216"/>
<path d="M254.7 93.4L255.6 94.8L258.5 97.8L257.6 96.3z" fill="#3c6492" stroke="#3c6492"/>
<path d="M251.3 88.8L252.4 90.2L254.3 93.3L253.2 91.8z" fill="#335c56" stroke="#335c56"/>
<path d="M244.5 63.1L245.9 64.5L246.6 68.5L245.3 67.1z" fill="#5f2717" stroke="#5f2717"/>
<path d="M248.1 80.4L249.2 81.9L250.5 85.3L249.3 83.8z" fill="#445a2a" stroke="#445a2a"/>
<path d="M272.4 98.9L272.8 100.3L291.2 106.2L290.7 104.9z" fill="#4669b2" stroke="#4669b2"/>
<path d="M245.3 67.1L246.6 68.5L247.5 72.4L246.2 71z" fill="#602e19" stroke="#602e19"/>
<path d="M249.3 83.8L250.5 85.3L251.9 88.6L250.7 87.1z" fill="#385a30" stroke="#385a30"/>
<path d="M246.2 71L247.5 72.4L248.4 76.2L247.1 74.7z" fill="#603919" stroke="#603919"/>
<path d="M253.2 91.8L254.3 93.3L256.6 96.3L255.6 94.8z" fill="#355e72" stroke="#355e72"/>
<path d="M260.6 97.8L261.4 99.3L266.8 102.4L266 100.9z" fill="#4469af" stroke="#4469af"/>
<path d="M243.1 47.1L244.6 48.5L245.3 53.1L243.7 51.6z" fill="#561d14" stroke="#561d14"/>
<path d="M243.7 51.6L245.3 53.1L245.9 57.5L244.4 56.1z" fill="#571d14" stroke="#571d14"/>
<path d="M257.6 96.3L258.5 97.8L262.3 100.8L261.4 99.3z" fill="#4166a6" stroke="#4166a6"/>
<path d="M247.1 74.7L248.4 76.2L249.4 79.9L248.1 78.4z" fill="#57461d" stroke="#57461d"/>
<path d="M250.7 87.1L251.9 88.6L253.5 91.8L252.4 90.2z" fill="#32573e" stroke="#32573e"/>
<path d="M265.3 99.5L266 100.9L274.6 104.6L273.9 103.1z" fill="#456ab1" stroke="#456ab1"/>
<path d="M244.4 56.1L245.9 57.5L246.6 61.8L245.1 60.4z" fill="#571d14" stroke="#571d14"/>
<path d="M248.1 78.4L249.4 79.9L250.6 83.4L249.2 81.9z" fill="#505121" stroke="#505121"/>
<path d="M245.1 60.4L246.6 61.8L247.4 66L245.9 64.5z" fill="#581e15" stroke="#581e15"/>
<path d="M255.6 94.8L256.6 96.3L259.5 99.3L258.5 97.8z" fill="#3b618e" stroke="#3b618e"/>
<path d="M252.4 90.2L253.5 91.8L255.5 94.8L254.3 93.3z" fill="#2f5450" stroke="#2f5450"/>
<path d="M245.9 64.5L247.4 66L248.2 70.1L246.6 68.5z" fill="#582115" stroke="#582115"/>
<path d="M272.8 100.3L273.3 101.7L291.7 107.6L291.2 106.2z" fill="#4669b2" stroke="#4669b2"/>
<path d="M249.2 81.9L250.6 83.4L251.8 86.8L250.5 85.3z" fill="#435325" stroke="#435325"/>
<path d="M246.6 68.5L248.2 70.1L249 74L247.5 72.4z" fill="#592516" stroke="#592516"/>
<path d="M250.5 85.3L251.8 86.8L253.2 90.1L251.9 88.6z" fill="#37532b" stroke="#37532b"/>
<path d="M247.5 72.4L249 74L249.9 77.8L248.4 76.2z" fill="#5a2c17" stroke="#5a2c17"/>
<path d="M261.4 99.3L262.3 100.8L267.7 103.9L266.8 102.4z" fill="#4469ae" stroke="#4469ae"/>
<path d="M254.3 93.3L255.5 94.8L257.8 97.9L256.6 96.3z" fill="#32586c" stroke="#32586c"/>
<path d="M244.6 48.5L246.3 50L247 54.6L245.3 53.1z" fill="#541c14" stroke="#541c14"/>
<path d="M258.5 97.8L259.5 99.3L263.3 102.3L262.3 100.8z" fill="#4064a4" stroke="#4064a4"/>
<path d="M248.4 76.2L249.9 77.8L251 81.5L249.4 79.9z" fill="#583918" stroke="#583918"/>
<path d="M245.3 53.1L247 54.6L247.6 59.1L245.9 57.5z" fill="#541c14" stroke="#541c14"/>
<path d="M266 100.9L266.8 102.4L275.4 106.1L274.6 104.6z" fill="#456ab1" stroke="#456ab1"/>
<path d="M251.9 88.6L253.2 90.1L254.9 93.3L253.5 91.8z" fill="#2f5137" stroke="#2f5137"/>
<path d="M245.9 57.5L247.6 59.1L248.3 63.4L246.6 61.8z" fill="#541c14" stroke="#541c14"/>
<path d="M249.4 79.9L251 81.5L252.1 85L250.6 83.4z" fill="#4f461d" stroke="#4f461d"/>
<path d="M246.6 61.8L248.3 63.4L249.1 67.6L247.4 66z" fill="#551d14" stroke="#551d14"/>
<path d="M256.6 96.3L257.8 97.9L260.7 100.9L259.5 99.3z" fill="#395e8a" stroke="#395e8a"/>
<path d="M273.3 101.7L273.9 103.1L292.4 109L291.7 107.6z" fill="#4669b2" stroke="#4669b2"/>
<path d="M253.5 91.8L254.9 93.3L256.8 96.5L255.5 94.8z" fill="#2c4f48" stroke="#2c4f48"/>
<path d="M247.4 66L249.1 67.6L249.9 71.7L248.2 70.1z" fill="#552015" stroke="#552015"/>
<path d="M250.6 83.4L252.1 85L253.3 88.4L251.8 86.8z" fill="#464d21" stroke="#464d21"/>
<path d="M248.2 70.1L249.9 71.7L250.7 75.6L249 74z" fill="#552215" stroke="#552215"/>
<path d="M251.8 86.8L253.3 88.4L254.7 91.8L253.2 90.1z" fill="#394e26" stroke="#394e26"/>
<path d="M262.3 100.8L263.3 102.3L268.7 105.5L267.7 103.9z" fill="#4469ae" stroke="#4469ae"/>
<path d="M255.5 94.8L256.8 96.5L259.1 99.5L257.8 97.9z" fill="#305564" stroke="#305564"/>
<path d="M249 74L250.7 75.6L251.6 79.4L249.9 77.8z" fill="#562a16" stroke="#562a16"/>
<path d="M259.5 99.3L260.7 100.9L264.5 103.9L263.3 102.3z" fill="#4063a2" stroke="#4063a2"/>
<path d="M246.3 50L248.3 51.6L248.9 56.3L247 54.6z" fill="#541c14" stroke="#541c14"/>
<path d="M266.8 102.4L267.7 103.9L276.4 107.7L275.4 106.1z" fill="#456ab1" stroke="#456ab1"/>
<path d="M249.9 77.8L251.6 79.4L252.6 83.1L251 81.5z" fill="#533618" stroke="#533618"/>
<path d="M253.2 90.1L254.7 91.8L256.3 95L254.9 93.3z" fill="#2e4e2d" stroke="#2e4e2d"/>
<path d="M247 54.6L248.9 56.3L249.5 60.7L247.6 59.1z" fill="#541c14" stroke="#541c14"/>
<path d="M247.6 59.1L249.5 60.7L250.2 65.1L248.3 63.4z" fill="#541d14" stroke="#541d14"/>
<path d="M273.9 103.1L274.6 104.6L293.1 110.4L292.4 109z" fill="#4669b2" stroke="#4669b2"/>
<path d="M251 81.5L252.6 83.1L253.7 86.7L252.1 85z" fill="#4c431b" stroke="#4c431b"/>
<path d="M257.8 97.9L259.1 99.5L262 102.5L260.7 100.9z" fill="#385c85" stroke="#385c85"/>
<path d="M248.3 63.4L250.2 65.1L251 69.3L249.1 67.6z" fill="#541f14" stroke="#541f14"/>
<path d="M254.9 93.3L256.3 95L258.3 98.1L256.8 96.5z" fill="#2b4c3f" stroke="#2b4c3f"/>
<path d="M252.1 85L253.7 86.7L255 90.2L253.3 88.4z" fill="#43491f" stroke="#43491f"/>
<path d="M249.1 67.6L251 69.3L251.7 73.4L249.9 71.7z" fill="#542014" stroke="#542014"/>
<path d="M249.9 71.7L251.7 73.4L252.6 77.4L250.7 75.6z" fill="#542415" stroke="#542415"/>
<path d="M263.3 102.3L264.5 103.9L269.9 107.1L268.7 105.5z" fill="#4468ad" stroke="#4468ad"/>
<path d="M253.3 88.4L255 90.2L256.4 93.5L254.7 91.8z" fill="#364a24" stroke="#364a24"/>
<path d="M256.8 96.5L258.3 98.1L260.6 101.2L259.1 99.5z" fill="#2e535c" stroke="#2e535c"/>
<path d="M250.7 75.6L252.6 77.4L253.5 81.2L251.6 79.4z" fill="#552e15" stroke="#552e15"/>
<path d="M267.7 103.9L268.7 105.5L277.4 109.2L276.4 107.7z" fill="#456ab1" stroke="#456ab1"/>
<path d="M260.7 100.9L262 102.5L265.8 105.6L264.5 103.9z" fill="#3f62a0" stroke="#3f62a0"/>
<path d="M248.3 51.6L250.4 53.4L251 58L248.9 56.3z" fill="#541c14" stroke="#541c14"/>
<path d="M254.7 91.8L256.4 93.5L258 96.7L256.3 95z" fill="#2b492c" stroke="#2b492c"/>
<path d="M251.6 79.4L253.5 81.2L254.5 84.9L252.6 83.1z" fill="#4d3c19" stroke="#4d3c19"/>
<path d="M274.6 104.6L275.4 106.1L293.9 111.9L293.1 110.4z" fill="#4669b2" stroke="#4669b2"/>
<path d="M248.9 56.3L251 58L251.7 62.5L249.5 60.7z" fill="#541c14" stroke="#541c14"/>
<path d="M249.5 60.7L251.7 62.5L252.3 66.9L250.2 65.1z" fill="#541d14" stroke="#541d14"/>
<path d="M259.1 99.5L260.6 101.2L263.4 104.3L262 102.5z" fill="#375b7f" stroke="#375b7f"/>
<path d="M252.6 83.1L254.5 84.9L255.6 88.5L253.7 86.7z" fill="#47461c" stroke="#47461c"/>
<path d="M256.3 95L258 96.7L259.9 99.9L258.3 98.1z" fill="#29473c" stroke="#29473c"/>
<path d="M250.2 65.1L252.3 66.9L253.1 71.1L251 69.3z" fill="#541f14" stroke="#541f14"/>
<path d="M253.7 86.7L255.6 88.5L256.8 92L255 90.2z" fill="#3b4720" stroke="#3b4720"/>
<path d="M251 69.3L253.1 71.1L253.8 75.2L251.7 73.4z" fill="#542115" stroke="#542115"/>
<path d="M264.5 103.9L265.8 105.6L271.1 108.8L269.9 107.1z" fill="#4468ad" stroke="#4468ad"/>
<path d="M251.7 73.4L253.8 75.2L254.7 79.2L252.6 77.4z" fill="#542615" stroke="#542615"/>
<path d="M255 90.2L256.8 92L258.2 95.3L256.4 93.5z" fill="#2f4725" stroke="#2f4725"/>
<path d="M258.3 98.1L259.9 99.9L262.2 103L260.6 101.2z" fill="#2d5059" stroke="#2d5059"/>
<path d="M268.7 105.5L269.9 107.1L278.5 110.9L277.4 109.2z" fill="#4669b1" stroke="#4669b1"/>
<path d="M262 102.5L263.4 104.3L267.2 107.3L265.8 105.6z" fill="#3f619e" stroke="#3f619e"/>
<path d="M252.6 77.4L254.7 79.2L255.6 83.1L253.5 81.2z" fill="#543015" stroke="#543015"/>
<path d="M275.4 106.1L276.4 107.7L294.7 113.4L293.9 111.9z" fill="#4669b2" stroke="#4669b2"/>
<path d="M256.4 93.5L258.2 95.3L259.8 98.6L258 96.7z" fill="#28452f" stroke="#28452f"/>
<path d="M250.4 53.4L252.8 55.2L253.4 59.9L251 58z" fill="#541c14" stroke="#541c14"/>
<path d="M253.5 81.2L255.6 83.1L256.6 86.8L254.5 84.9z" fill="#4c3d19" stroke="#4c3d19"/>
<path d="M251 58L253.4 59.9L254 64.4L251.7 62.5z" fill="#541c14" stroke="#541c14"/>
<path d="M260.6 101.2L262.2 103L265 106.1L263.4 104.3z" fill="#36597d" stroke="#36597d"/>
<path d="M254.5 84.9L256.6 86.8L257.6 90.4L255.6 88.5z" fill="#45461d" stroke="#45461d"/>
<path d="M251.7 62.5L254 64.4L254.7 68.8L252.3 66.9z" fill="#541d14" stroke="#541d14"/>
<path d="M258 96.7L259.8 98.6L261.7 101.8L259.9 99.9z" fill="#26433f" stroke="#26433f"/>
<path d="M252.3 66.9L254.7 68.8L255.4 73.1L253.1 71.1z" fill="#541f14" stroke="#541f14"/>
<path d="M255.6 88.5L257.6 90.4L258.9 93.9L256.8 92z" fill="#394621" stroke="#394621"/>
<path d="M265.8 105.6L267.2 107.3L272.5 110.6L271.1 108.8z" fill="#4468ac" stroke="#4468ac"/>
<path d="M253.1 71.1L255.4 73.1L256.2 77.2L253.8 75.2z" fill="#542115" stroke="#542115"/>
<path d="M269.9 107.1L271.1 108.8L279.7 112.6L278.5 110.9z" fill="#4669b1" stroke="#4669b1"/>
<path d="M276.4 107.7L277.4 109.2L295.7 114.9L294.7 113.4z" fill="#4669b2" stroke="#4669b2"/>
<path d="M259.9 99.9L261.7 101.8L264 104.9L262.2 103z" fill="#2b4c5b" stroke="#2b4c5b"/>
<path d="M263.4 104.3L265 106.1L268.8 109.1L267.2 107.3z" fill="#3e609d" stroke="#3e609d"/>
<path d="M256.8 92L258.9 93.9L260.2 97.3L258.2 95.3z" fill="#2d4725" stroke="#2d4725"/>
<path d="M253.8 75.2L256.2 77.2L257 81.2L254.7 79.2z" fill="#542715" stroke="#542715"/>
<path d="M254.7 79.2L257 81.2L257.9 85.1L255.6 83.1z" fill="#533216" stroke="#533216"/>
<path d="M258.2 95.3L260.2 97.3L261.8 100.5L259.8 98.6z" fill="#274330" stroke="#274330"/>
<path d="M255.6 83.1L257.9 85.1L258.8 88.8L256.6 86.8z" fill="#4b3f1a" stroke="#4b3f1a"/>
<path d="M252.8 55.2L255.4 57.3L256 61.9L253.4 59.9z" fill="#541c14" stroke="#541c14"/>
<path d="M262.2 103L264 104.9L266.8 107.9L265 106.1z" fill="#35567e" stroke="#35567e"/>
<path d="M253.4 59.9L256 61.9L256.6 66.5L254 64.4z" fill="#541c14" stroke="#541c14"/>
<path d="M256.6 86.8L258.8 88.8L259.9 92.4L257.6 90.4z" fill="#44461d" stroke="#44461d"/>
<path d="M259.8 98.6L261.8 100.5L263.7 103.7L261.7 101.8z" fill="#25413f" stroke="#25413f"/>
<path d="M254 64.4L256.6 66.5L257.3 70.9L254.7 68.8z" fill="#541e14" stroke="#541e14"/>
<path d="M267.2 107.3L268.8 109.1L274.1 112.4L272.5 110.6z" fill="#4468ac" stroke="#4468ac"/>
<path d="M277.4 109.2L278.5 110.9L296.7 116.4L295.7 114.9z" fill="#4669b2" stroke="#4669b2"/>
<path d="M271.1 108.8L272.5 110.6L281 114.3L279.7 112.6z" fill="#466ab1" stroke="#466ab1"/>
<path d="M254.7 68.8L257.3 70.9L258 75.2L255.4 73.1z" fill="#541f14" stroke="#541f14"/>
<path d="M257.6 90.4L259.9 92.4L261.1 95.9L258.9 93.9z" fill="#384621" stroke="#384621"/>
<path d="M255.4 73.1L258 75.2L258.7 79.3L256.2 77.2z" fill="#542115" stroke="#542115"/>
<path d="M265 106.1L266.8 107.9L270.5 111L268.8 109.1z" fill="#3e5f9c" stroke="#3e5f9c"/>
<path d="M261.7 101.8L263.7 103.7L265.9 106.8L264 104.9z" fill="#2b4a5a" stroke="#2b4a5a"/>
<path d="M258.9 93.9L261.1 95.9L262.5 99.3L260.2 97.3z" fill="#2c4625" stroke="#2c4625"/>
<path d="M256.2 77.2L258.7 79.3L259.5 83.3L257 81.2z" fill="#542815" stroke="#542815"/>
<path d="M257 81.2L259.5 83.3L260.4 87.2L257.9 85.1z" fill="#523316" stroke="#523316"/>
<path d="M260.2 97.3L262.5 99.3L264 102.6L261.8 100.5z" fill="#274331" stroke="#274331"/>
<path d="M264 104.9L265.9 106.8L268.7 109.9L266.8 107.9z" fill="#35547e" stroke="#35547e"/>
<path d="M257.9 85.1L260.4 87.2L261.3 90.9L258.8 88.8z" fill="#4b3f1a" stroke="#4b3f1a"/>
<path d="M255.4 57.3L258.3 59.4L258.9 64.1L256 61.9z" fill="#541c14" stroke="#541c14"/>
<path d="M278.5 110.9L279.7 112.6L297.8 118L296.7 116.4z" fill="#4669b2" stroke="#4669b2"/>
<path d="M261.8 100.5L264 102.6L265.9 105.8L263.7 103.7z" fill="#244040" stroke="#244040"/>
<path d="M268.8 109.1L270.5 111L275.7 114.3L274.1 112.4z" fill="#4467ac" stroke="#4467ac"/>
<path d="M258.8 88.8L261.3 90.9L262.4 94.6L259.9 92.4z" fill="#43461d" stroke="#43461d"/>
<path d="M256 61.9L258.9 64.1L259.5 68.7L256.6 66.5z" fill="#541c14" stroke="#541c14"/>
<path d="M272.5 110.6L274.1 112.4L282.5 116.1L281 114.3z" fill="#466ab1" stroke="#466ab1"/>
<path d="M256.6 66.5L259.5 68.7L260.1 73.1L257.3 70.9z" fill="#541d14" stroke="#541d14"/>
<path d="M259.9 92.4L262.4 94.6L263.6 98.1L261.1 95.9z" fill="#374621" stroke="#374621"/>
<path d="M257.3 70.9L260.1 73.1L260.8 77.4L258 75.2z" fill="#541f14" stroke="#541f14"/>
<path d="M266.8 107.9L268.7 109.9L272.4 113L270.5 111z" fill="#3e5f9b" stroke="#3e5f9b"/>
<path d="M263.7 103.7L265.9 105.8L268.1 108.9L265.9 106.8z" fill="#2a495a" stroke="#2a495a"/>
<path d="M258 75.2L260.8 77.4L261.5 81.5L258.7 79.3z" fill="#542114" stroke="#542114"/>
<path d="M261.1 95.9L263.6 98.1L264.9 101.5L262.5 99.3z" fill="#2c4625" stroke="#2c4625"/>
<path d="M258.7 79.3L261.5 81.5L262.3 85.6L259.5 83.3z" fill="#542515" stroke="#542515"/>
<path d="M262.5 99.3L264.9 101.5L266.4 104.8L264 102.6z" fill="#274331" stroke="#274331"/>
<path d="M259.5 83.3L262.3 85.6L263.1 89.4L260.4 87.2z" fill="#552f15" stroke="#552f15"/>
<path d="M265.9 106.8L268.1 108.9L270.8 112L268.7 109.9z" fill="#34537e" stroke="#34537e"/>
<path d="M279.7 112.6L281 114.3L298.9 119.6L297.8 118z" fill="#4669b2" stroke="#4669b2"/>
<path d="M260.4 87.2L263.1 89.4L264.1 93.2L261.3 90.9z" fill="#4c3d19" stroke="#4c3d19"/>
<path d="M274.1 112.4L275.7 114.3L284.1 118L282.5 116.1z" fill="#4669b1" stroke="#4669b1"/>
<path d="M270.5 111L272.4 113L277.5 116.3L275.7 114.3z" fill="#4467ac" stroke="#4467ac"/>
<path d="M264 102.6L266.4 104.8L268.2 108L265.9 105.8z" fill="#244040" stroke="#244040"/>
<path d="M258.3 59.4L261.5 61.7L262 66.5L258.9 64.1z" fill="#541c14" stroke="#541c14"/>
<path d="M261.3 90.9L264.1 93.2L265.1 96.9L262.4 94.6z" fill="#46461c" stroke="#46461c"/>
<path d="M258.9 64.1L262 66.5L262.6 71L259.5 68.7z" fill="#541c14" stroke="#541c14"/>
<path d="M268.7 109.9L270.8 112L274.4 115.1L272.4 113z" fill="#3e5f9c" stroke="#3e5f9c"/>
<path d="M259.5 68.7L262.6 71L263.2 75.5L260.1 73.1z" fill="#541c14" stroke="#541c14"/>
<path d="M262.4 94.6L265.1 96.9L266.3 100.4L263.6 98.1z" fill="#3a4621" stroke="#3a4621"/>
<path d="M265.9 105.8L268.2 108L270.4 111.1L268.1 108.9z" fill="#2a495b" stroke="#2a495b"/>
<path d="M260.1 73.1L263.2 75.5L263.9 79.8L260.8 77.4z" fill="#541e14" stroke="#541e14"/>
<path d="M263.6 98.1L266.3 100.4L267.6 103.8L264.9 101.5z" fill="#2e4625" stroke="#2e4625"/>
<path d="M281 114.3L282.5 116.1L300.2 121.3L298.9 119.6z" fill="#4669b2" stroke="#4669b2"/>
<path d="M260.8 77.4L263.9 79.8L264.6 83.9L261.5 81.5z" fill="#542014" stroke="#542014"/>
<path d="M261.5 81.5L264.6 83.9L265.3 88L262.3 85.6z" fill="#542315" stroke="#542315"/>
<path d="M268.1 108.9L270.4 111.1L273.1 114.2L270.8 112z" fill="#35547f" stroke="#35547f"/>
<path d="M264.9 101.5L267.6 103.8L269.1 107.1L266.4 104.8z" fill="#27432f" stroke="#27432f"/>
<path d="M275.7 114.3L277.5 116.3L285.7 119.9L284.1 118z" fill="#4669b1" stroke="#4669b1"/>
<path d="M262.3 85.6L265.3 88L266.2 91.9L263.1 89.4z" fill="#542d15" stroke="#542d15"/>
<path d="M272.4 113L274.4 115.1L279.5 118.3L277.5 116.3z" fill="#4467ac" stroke="#4467ac"/>
<path d="M263.1 89.4L266.2 91.9L267.1 95.7L264.1 93.2z" fill="#4d3b19" stroke="#4d3b19"/>
<path d="M266.4 104.8L269.1 107.1L270.8 110.3L268.2 108z" fill="#25413f" stroke="#25413f"/>
<path d="M264.1 93.2L267.1 95.7L268.1 99.3L265.1 96.9z" fill="#47451c" stroke="#47451c"/>
<path d="M270.8 112L273.1 114.2L276.7 117.3L274.4 115.1z" fill="#3e5f9d" stroke="#3e5f9d"/>
<path d="M261.5 61.7L265 64.3L265.5 69L262 66.5z" fill="#541c14" stroke="#541c14"/>
<path d="M282.5 116.1L284.1 118L301.5 123L300.2 121.3z" fill="#4669b2" stroke="#4669b2"/>
<path d="M262 66.5L265.5 69L266.1 73.6L262.6 71z" fill="#541c14" stroke="#541c14"/>
<path d="M268.2 108L270.8 110.3L272.9 113.4L270.4 111.1z" fill="#2b4b5b" stroke="#2b4b5b"/>
<path d="M265.1 96.9L268.1 99.3L269.2 102.8L266.3 100.4z" fill="#3b4620" stroke="#3b4620"/>
<path d="M262.6 71L266.1 73.6L266.7 78L263.2 75.5z" fill="#541d14" stroke="#541d14"/>
<path d="M263.2 75.5L266.7 78L267.3 82.4L263.9 79.8z" fill="#541f14" stroke="#541f14"/>
<path d="M266.3 100.4L269.2 102.8L270.5 106.2L267.6 103.8z" fill="#2f4624" stroke="#2f4624"/>
<path d="M277.5 116.3L279.5 118.3L287.6 121.9L285.7 119.9z" fill="#4669b1" stroke="#4669b1"/>
<path d="M263.9 79.8L267.3 82.4L268 86.5L264.6 83.9z" fill="#542114" stroke="#542114"/>
<path d="M270.4 111.1L272.9 113.4L275.6 116.5L273.1 114.2z" fill="#355680" stroke="#355680"/>
<path d="M274.4 115.1L276.7 117.3L281.6 120.5L279.5 118.3z" fill="#4468ad" stroke="#4468ad"/>
<path d="M267.6 103.8L270.5 106.2L271.9 109.5L269.1 107.1z" fill="#28442e" stroke="#28442e"/>
<path d="M264.6 83.9L268 86.5L268.7 90.6L265.3 88z" fill="#542515" stroke="#542515"/>
<path d="M265.3 88L268.7 90.6L269.5 94.5L266.2 91.9z" fill="#542e15" stroke="#542e15"/>
<path d="M269.1 107.1L271.9 109.5L273.6 112.7L270.8 110.3z" fill="#26423e" stroke="#26423e"/>
<path d="M284.1 118L285.7 119.9L302.9 124.8L301.5 123z" fill="#4669b2" stroke="#4669b2"/>
<path d="M266.2 91.9L269.5 94.5L270.3 98.3L267.1 95.7z" fill="#4c3b19" stroke="#4c3b19"/>
<path d="M273.1 114.2L275.6 116.5L279.1 119.6L276.7 117.3z" fill="#3f609e" stroke="#3f609e"/>
<path d="M267.1 95.7L270.3 98.3L271.3 101.9L268.1 99.3z" fill="#46451c" stroke="#46451c"/>
<path d="M270.8 110.3L273.6 112.7L275.7 115.9L272.9 113.4z" fill="#2c4d5c" stroke="#2c4d5c"/>
<path d="M265 64.3L268.9 67L269.3 71.7L265.5 69z" fill="#531c14" stroke="#531c14"/>
<path d="M268.1 99.3L271.3 101.9L272.4 105.5L269.2 102.8z" fill="#3a4520" stroke="#3a4520"/>
<path d="M279.5 118.3L281.6 120.5L289.5 124L287.6 121.9z" fill="#4669b1" stroke="#4669b1"/>
<path d="M265.5 69L269.3 71.7L269.9 76.4L266.1 73.6z" fill="#531c14" stroke="#531c14"/>
<path d="M266.1 73.6L269.9 76.4L270.4 80.8L266.7 78z" fill="#531c14" stroke="#531c14"/>
<path d="M269.2 102.8L272.4 105.5L273.6 108.9L270.5 106.2z" fill="#2e4624" stroke="#2e4624"/>
<path d="M276.7 117.3L279.1 119.6L283.9 122.7L281.6 120.5z" fill="#4568ae" stroke="#4568ae"/>
<path d="M272.9 113.4L275.7 115.9L278.3 118.9L275.6 116.5z" fill="#375881" stroke="#375881"/>
<path d="M266.7 78L270.4 80.8L271 85.1L267.3 82.4z" fill="#531e14" stroke="#531e14"/>
<path d="M267.3 82.4L271 85.1L271.6 89.3L268 86.5z" fill="#532014" stroke="#532014"/>
<path d="M285.7 119.9L287.6 121.9L304.4 126.5L302.9 124.8z" fill="#4669b2" stroke="#4669b2"/>
<path d="M270.5 106.2L273.6 108.9L275 112.2L271.9 109.5z" fill="#27432f" stroke="#27432f"/>
<path d="M268 86.5L271.6 89.3L272.3 93.4L268.7 90.6z" fill="#532315" stroke="#532315"/>
<path d="M275.6 116.5L278.3 118.9L281.6 122L279.1 119.6z" fill="#4062a0" stroke="#4062a0"/>
<path d="M268.7 90.6L272.3 93.4L273.1 97.3L269.5 94.5z" fill="#542c15" stroke="#542c15"/>
<path d="M271.9 109.5L275 112.2L276.7 115.4L273.6 112.7z" fill="#264341" stroke="#264341"/>
<path d="M269.5 94.5L273.1 97.3L273.9 101.1L270.3 98.3z" fill="#4d3918" stroke="#4d3918"/>
<path d="M281.6 120.5L283.9 122.7L291.6 126.1L289.5 124z" fill="#4669b1" stroke="#4669b1"/>
<path d="M273.6 112.7L276.7 115.4L278.7 118.5L275.7 115.9z" fill="#2d4e60" stroke="#2d4e60"/>
<path d="M270.3 98.3L273.9 101.1L274.8 104.7L271.3 101.9z" fill="#47421b" stroke="#47421b"/>
<path d="M271.3 101.9L274.8 104.7L275.9 108.3L272.4 105.5z" fill="#3c441f" stroke="#3c441f"/>
<path d="M279.1 119.6L281.6 122L286.4 125L283.9 122.7z" fill="#4569ae" stroke="#4569ae"/>
<path d="M287.6 121.9L289.5 124L306 128.4L304.4 126.5z" fill="#4669b2" stroke="#4669b2"/>
<path d="M268.9 67L273.1 70L273.6 74.7L269.3 71.7z" fill="#531c14" stroke="#531c14"/>
<path d="M275.7 115.9L278.7 118.5L281.2 121.5L278.3 118.9z" fill="#385a85" stroke="#385a85"/>
<path d="M269.3 71.7L273.6 74.7L274 79.3L269.9 76.4z" fill="#531c14" stroke="#531c14"/>
<path d="M272.4 105.5L275.9 108.3L277.1 111.7L273.6 108.9z" fill="#2f4524" stroke="#2f4524"/>
<path d="M269.9 76.4L274 79.3L274.5 83.8L270.4 80.8z" fill="#531c14" stroke="#531c14"/>
<path d="M270.4 80.8L274.5 83.8L275.1 88.1L271 85.1z" fill="#531e14" stroke="#531e14"/>
<path d="M273.6 108.9L277.1 111.7L278.4 114.9L275 112.2z" fill="#27432e" stroke="#27432e"/>
<path d="M271 85.1L275.1 88.1L275.7 92.3L271.6 89.3z" fill="#531f14" stroke="#531f14"/>
<path d="M278.3 118.9L281.2 121.5L284.4 124.5L281.6 122z" fill="#4163a2" stroke="#4163a2"/>
<path d="M271.6 89.3L275.7 92.3L276.3 96.4L272.3 93.4z" fill="#532114" stroke="#532114"/>
<path d="M275 112.2L278.4 114.9L280 118.1L276.7 115.4z" fill="#284642" stroke="#284642"/>
<path d="M283.9 122.7L286.4 125L293.8 128.4L291.6 126.1z" fill="#4669b1" stroke="#4669b1"/>
<path d="M272.3 93.4L276.3 96.4L277 100.3L273.1 97.3z" fill="#532915" stroke="#532915"/>
<path d="M289.5 124L291.6 126.1L307.7 130.3L306 128.4z" fill="#4669b2" stroke="#4669b2"/>
<path d="M273.1 97.3L277 100.3L277.8 104.1L273.9 101.1z" fill="#4e3417" stroke="#4e3417"/>
<path d="M276.7 115.4L280 118.1L281.9 121.2L278.7 118.5z" fill="#2f5264" stroke="#2f5264"/>
<path d="M281.6 122L284.4 124.5L289 127.5L286.4 125z" fill="#456aaf" stroke="#456aaf"/>
<path d="M273.9 101.1L277.8 104.1L278.7 107.7L274.8 104.7z" fill="#483e1a" stroke="#483e1a"/>
<path d="M274.8 104.7L278.7 107.7L279.7 111.3L275.9 108.3z" fill="#3f421d" stroke="#3f421d"/>
<path d="M278.7 118.5L281.9 121.2L284.3 124.2L281.2 121.5z" fill="#3a5d88" stroke="#3a5d88"/>
<path d="M275.9 108.3L279.7 111.3L280.8 114.7L277.1 111.7z" fill="#324423" stroke="#324423"/>
<path d="M273.1 70L277.8 73.2L278.2 78L273.6 74.7z" fill="#531c14" stroke="#531c14"/>
<path d="M273.6 74.7L278.2 78L278.6 82.6L274 79.3z" fill="#531c14" stroke="#531c14"/>
<path d="M277.1 111.7L280.8 114.7L282.1 117.9L278.4 114.9z" fill="#28442c" stroke="#28442c"/>
<path d="M281.2 121.5L284.3 124.2L287.4 127.1L284.4 124.5z" fill="#4265a5" stroke="#4265a5"/>
<path d="M274 79.3L278.6 82.6L279.1 87.1L274.5 83.8z" fill="#531c14" stroke="#531c14"/>
<path d="M286.4 125L289 127.5L296.2 130.7L293.8 128.4z" fill="#4669b1" stroke="#4669b1"/>
<path d="M274.5 83.8L279.1 87.1L279.6 91.4L275.1 88.1z" fill="#531d14" stroke="#531d14"/>
<path d="M291.6 126.1L293.8 128.4L309.5 132.2L307.7 130.3z" fill="#4669b2" stroke="#4669b2"/>
<path d="M278.4 114.9L282.1 117.9L283.6 121.1L280 118.1z" fill="#2a4942" stroke="#2a4942"/>
<path d="M275.1 88.1L279.6 91.4L280.1 95.6L275.7 92.3z" fill="#521f14" stroke="#521f14"/>
<path d="M275.7 92.3L280.1 95.6L280.7 99.7L276.3 96.4z" fill="#522114" stroke="#522114"/>
<path d="M284.4 124.5L287.4 127.1L291.8 130.1L289 127.5z" fill="#466ab0" stroke="#466ab0"/>
<path d="M276.3 96.4L280.7 99.7L281.4 103.6L277 100.3z" fill="#522715" stroke="#522715"/>
<path d="M280 118.1L283.6 121.1L285.4 124.1L281.9 121.2z" fill="#315667" stroke="#315667"/>
<path d="M277 100.3L281.4 103.6L282.1 107.3L277.8 104.1z" fill="#4f3116" stroke="#4f3116"/>
<path d="M277.8 104.1L282.1 107.3L282.9 111L278.7 107.7z" fill="#493a19" stroke="#493a19"/>
<path d="M281.9 121.2L285.4 124.1L287.7 127.1L284.3 124.2z" fill="#3b608b" stroke="#3b608b"/>
<path d="M278.7 107.7L282.9 111L283.8 114.5L279.7 111.3z" fill="#40401c" stroke="#40401c"/>
<path d="M293.8 128.4L296.2 130.7L311.3 134.2L309.5 132.2z" fill="#4669b2" stroke="#4669b2"/>
<path d="M289 127.5L291.8 130.1L298.8 133.1L296.2 130.7z" fill="#466ab1" stroke="#466ab1"/>
<path d="M279.7 111.3L283.8 114.5L284.8 117.9L280.8 114.7z" fill="#334222" stroke="#334222"/>
<path d="M284.3 124.2L287.7 127.1L290.7 129.9L287.4 127.1z" fill="#4367a7" stroke="#4367a7"/>
<path d="M280.8 114.7L284.8 117.9L286.1 121.1L282.1 117.9z" fill="#28442b" stroke="#28442b"/>
<path d="M277.8 73.2L282.9 76.7L283.2 81.5L278.2 78z" fill="#521c13" stroke="#521c13"/>
<path d="M278.2 78L283.2 81.5L283.6 86.1L278.6 82.6z" fill="#521c13" stroke="#521c13"/>
<path d="M278.6 82.6L283.6 86.1L284 90.6L279.1 87.1z" fill="#521c13" stroke="#521c13"/>
<path d="M282.1 117.9L286.1 121.1L287.5 124.2L283.6 121.1z" fill="#2c4c45" stroke="#2c4c45"/>
<path d="M287.4 127.1L290.7 129.9L294.8 132.8L291.8 130.1z" fill="#466bb0" stroke="#466bb0"/>
<path d="M279.1 87.1L284 90.6L284.5 94.9L279.6 91.4z" fill="#521d14" stroke="#521d14"/>
<path d="M279.6 91.4L284.5 94.9L285 99.1L280.1 95.6z" fill="#521f14" stroke="#521f14"/>
<path d="M283.6 121.1L287.5 124.2L289.2 127.2L285.4 124.1z" fill="#345a6b" stroke="#345a6b"/>
<path d="M280.1 95.6L285 99.1L285.5 103.2L280.7 99.7z" fill="#522114" stroke="#522114"/>
<path d="M280.7 99.7L285.5 103.2L286.1 107.1L281.4 103.6z" fill="#522614" stroke="#522614"/>
<path d="M296.2 130.7L298.8 133.1L313.3 136.3L311.3 134.2z" fill="#4669b2" stroke="#4669b2"/>
<path d="M285.4 124.1L289.2 127.2L291.3 130.1L287.7 127.1z" fill="#3d648f" stroke="#3d648f"/>
<path d="M281.4 103.6L286.1 107.1L286.7 110.8L282.1 107.3z" fill="#4f2e16" stroke="#4f2e16"/>
<path d="M291.8 130.1L294.8 132.8L301.5 135.6L298.8 133.1z" fill="#466ab1" stroke="#466ab1"/>
<path d="M282.1 107.3L286.7 110.8L287.5 114.5L282.9 111z" fill="#483819" stroke="#483819"/>
<path d="M282.9 111L287.5 114.5L288.3 118L283.8 114.5z" fill="#403d1b" stroke="#403d1b"/>
<path d="M287.7 127.1L291.3 130.1L294.1 132.9L290.7 129.9z" fill="#4469a9" stroke="#4469a9"/>
<path d="M283.8 114.5L288.3 118L289.3 121.3L284.8 117.9z" fill="#334122" stroke="#334122"/>
<path d="M284.8 117.9L289.3 121.3L290.4 124.5L286.1 121.1z" fill="#29462c" stroke="#29462c"/>
<path d="M290.7 129.9L294.1 132.9L298.1 135.6L294.8 132.8z" fill="#466bb1" stroke="#466bb1"/>
<path d="M286.1 121.1L290.4 124.5L291.7 127.6L287.5 124.2z" fill="#2e5049" stroke="#2e5049"/>
<path d="M298.8 133.1L301.5 135.6L315.4 138.4L313.3 136.3z" fill="#4669b2" stroke="#4669b2"/>
<path d="M282.9 76.7L288.5 80.5L288.8 85.3L283.2 81.5z" fill="#521c13" stroke="#521c13"/>
<path d="M283.2 81.5L288.8 85.3L289.1 89.9L283.6 86.1z" fill="#521c13" stroke="#521c13"/>
<path d="M287.5 124.2L291.7 127.6L293.3 130.5L289.2 127.2z" fill="#365d71" stroke="#365d71"/>
<path d="M283.6 86.1L289.1 89.9L289.5 94.4L284 90.6z" fill="#521c13" stroke="#521c13"/>
<path d="M284 90.6L289.5 94.4L289.8 98.8L284.5 94.9z" fill="#511e14" stroke="#511e14"/>
<path d="M294.8 132.8L298.1 135.6L304.4 138.3L301.5 135.6z" fill="#466ab1" stroke="#466ab1"/>
<path d="M284.5 94.9L289.8 98.8L290.3 102.9L285 99.1z" fill="#511f14" stroke="#511f14"/>
<path d="M289.2 127.2L293.3 130.5L295.3 133.3L291.3 130.1z" fill="#3f6693" stroke="#3f6693"/>
<path d="M285 99.1L290.3 102.9L290.7 107L285.5 103.2z" fill="#512114" stroke="#512114"/>
<path d="M285.5 103.2L290.7 107L291.2 110.9L286.1 107.1z" fill="#512614" stroke="#512614"/>
<path d="M286.1 107.1L291.2 110.9L291.8 114.6L286.7 110.8z" fill="#4c2e16" stroke="#4c2e16"/>
<path d="M291.3 130.1L295.3 133.3L297.9 136L294.1 132.9z" fill="#446aab" stroke="#446aab"/>
<path d="M286.7 110.8L291.8 114.6L292.5 118.2L287.5 114.5z" fill="#473718" stroke="#473718"/>
<path d="M287.5 114.5L292.5 118.2L293.2 121.7L288.3 118z" fill="#3e3c1c" stroke="#3e3c1c"/>
<path d="M301.5 135.6L304.4 138.3L317.6 140.6L315.4 138.4z" fill="#4669b2" stroke="#4669b2"/>
<path d="M294.1 132.9L297.9 136L301.6 138.6L298.1 135.6z" fill="#466bb1" stroke="#466bb1"/>
<path d="M288.3 118L293.2 121.7L294.1 125L289.3 121.3z" fill="#304023" stroke="#304023"/>
<path d="M289.3 121.3L294.1 125L295 128.2L290.4 124.5z" fill="#2a4731" stroke="#2a4731"/>
<path d="M290.4 124.5L295 128.2L296.2 131.2L291.7 127.6z" fill="#305351" stroke="#305351"/>
<path d="M298.1 135.6L301.6 138.6L307.4 141L304.4 138.3z" fill="#466ab1" stroke="#466ab1"/>
<path d="M291.7 127.6L296.2 131.2L297.7 134.1L293.3 130.5z" fill="#38607a" stroke="#38607a"/>
<path d="M288.5 80.5L294.7 84.7L294.9 89.5L288.8 85.3z" fill="#511c13" stroke="#511c13"/>
<path d="M293.3 130.5L297.7 134.1L299.5 136.8L295.3 133.3z" fill="#406898" stroke="#406898"/>
<path d="M288.8 85.3L294.9 89.5L295.2 94.1L289.1 89.9z" fill="#511c13" stroke="#511c13"/>
<path d="M289.1 89.9L295.2 94.1L295.4 98.6L289.5 94.4z" fill="#511c13" stroke="#511c13"/>
<path d="M304.4 138.3L307.4 141L319.9 142.9L317.6 140.6z" fill="#4669b2" stroke="#4669b2"/>
<path d="M289.5 94.4L295.4 98.6L295.7 102.9L289.8 98.8z" fill="#511d13" stroke="#511d13"/>
<path d="M295.3 133.3L299.5 136.8L301.9 139.4L297.9 136z" fill="#456aac" stroke="#456aac"/>
<path d="M289.8 98.8L295.7 102.9L296.1 107.1L290.3 102.9z" fill="#501f14" stroke="#501f14"/>
<path d="M290.3 102.9L296.1 107.1L296.4 111.1L290.7 107z" fill="#502014" stroke="#502014"/>
<path d="M290.7 107L296.4 111.1L296.9 115L291.2 110.9z" fill="#502414" stroke="#502414"/>
<path d="M291.2 110.9L296.9 115L297.3 118.7L291.8 114.6z" fill="#4d2a15" stroke="#4d2a15"/>
<path d="M297.9 136L301.9 139.4L305.3 141.8L301.6 138.6z" fill="#466bb1" stroke="#466bb1"/>
<path d="M291.8 114.6L297.3 118.7L297.9 122.3L292.5 118.2z" fill="#473317" stroke="#473317"/>
<path d="M292.5 118.2L297.9 122.3L298.5 125.7L293.2 121.7z" fill="#3f391a" stroke="#3f391a"/>
<path d="M301.6 138.6L305.3 141.8L310.7 143.9L307.4 141z" fill="#466ab1" stroke="#466ab1"/>
<path d="M293.2 121.7L298.5 125.7L299.3 129L294.1 125z" fill="#313e23" stroke="#313e23"/>
<path d="M294.1 125L299.3 129L300.1 132.1L295 128.2z" fill="#2c4a33" stroke="#2c4a33"/>
<path d="M295 128.2L300.1 132.1L301.2 135L296.2 131.2z" fill="#335754" stroke="#335754"/>
<path d="M307.4 141L310.7 143.9L322.4 145.2L319.9 142.9z" fill="#4669b2" stroke="#4669b2"/>
<path d="M296.2 131.2L301.2 135L302.4 137.8L297.7 134.1z" fill="#3a637e" stroke="#3a637e"/>
<path d="M297.7 134.1L302.4 137.8L304 140.4L299.5 136.8z" fill="#416a9b" stroke="#416a9b"/>
<path d="M299.5 136.8L304 140.4L306.2 142.9L301.9 139.4z" fill="#456bad" stroke="#456bad"/>
<path d="M294.7 84.7L301.5 89.2L301.7 94L294.9 89.5z" fill="#511b13" stroke="#511b13"/>
<path d="M301.9 139.4L306.2 142.9L309.2 145.1L305.3 141.8z" fill="#466bb1" stroke="#466bb1"/>
<path d="M294.9 89.5L301.7 94L301.8 98.7L295.2 94.1z" fill="#511b13" stroke="#511b13"/>
<path d="M295.2 94.1L301.8 98.7L302 103.1L295.4 98.6z" fill="#501c13" stroke="#501c13"/>
<path d="M295.4 98.6L302 103.1L302.2 107.5L295.7 102.9z" fill="#501d13" stroke="#501d13"/>
<path d="M295.7 102.9L302.2 107.5L302.4 111.6L296.1 107.1z" fill="#501f13" stroke="#501f13"/>
<path d="M305.3 141.8L309.2 145.1L314.2 146.9L310.7 143.9z" fill="#466ab1" stroke="#466ab1"/>
<path d="M296.1 107.1L302.4 111.6L302.7 115.6L296.4 111.1z" fill="#4f2014" stroke="#4f2014"/>
<path d="M296.4 111.1L302.7 115.6L303 119.5L296.9 115z" fill="#4f2314" stroke="#4f2314"/>
<path d="M310.7 143.9L314.2 146.9L324.9 147.7L322.4 145.2z" fill="#4669b2" stroke="#4669b2"/>
<path d="M296.9 115L303 119.5L303.4 123.2L297.3 118.7z" fill="#4c2715" stroke="#4c2715"/>
<path d="M297.3 118.7L303.4 123.2L303.8 126.7L297.9 122.3z" fill="#463017" stroke="#463017"/>
<path d="M297.9 122.3L303.8 126.7L304.3 130.1L298.5 125.7z" fill="#3f371a" stroke="#3f371a"/>
<path d="M298.5 125.7L304.3 130.1L304.9 133.3L299.3 129z" fill="#313e23" stroke="#313e23"/>
<path d="M299.3 129L304.9 133.3L305.6 136.3L300.1 132.1z" fill="#2d4d36" stroke="#2d4d36"/>
<path d="M300.1 132.1L305.6 136.3L306.5 139.2L301.2 135z" fill="#355a59" stroke="#355a59"/>
<path d="M301.2 135L306.5 139.2L307.6 141.9L302.4 137.8z" fill="#3b6583" stroke="#3b6583"/>
<path d="M302.4 137.8L307.6 141.9L308.9 144.3L304 140.4z" fill="#426b9d" stroke="#426b9d"/>
<path d="M304 140.4L308.9 144.3L310.8 146.6L306.2 142.9z" fill="#466cae" stroke="#466cae"/>
<path d="M306.2 142.9L310.8 146.6L313.5 148.6L309.2 145.1z" fill="#466bb1" stroke="#466bb1"/>
<path d="M314.2 146.9L317.8 150.1L327.6 150.1L324.9 147.7z" fill="#4669b2" stroke="#4669b2"/>
<path d="M309.2 145.1L313.5 148.6L317.8 150.1L314.2 146.9z" fill="#466ab1" stroke="#466ab1"/>
<path d="M301.5 89.2L309.1 94.3L309.1 99L301.7 94z" fill="#501b13" stroke="#501b13"/>
<path d="M301.7 94L309.1 99L309.1 103.7L301.8 98.7z" fill="#501b13" stroke="#501b13"/>
<path d="M301.8 98.7L309.1 103.7L309.2 108.1L302 103.1z" fill="#501c13" stroke="#501c13"/>
<path d="M302 103.1L309.2 108.1L309.3 112.4L302.2 107.5z" fill="#4f1d13" stroke="#4f1d13"/>
<path d="M302.2 107.5L309.3 112.4L309.4 116.6L302.4 111.6z" fill="#4f1f13" stroke="#4f1f13"/>
<path d="M302.4 111.6L309.4 116.6L309.6 120.5L302.7 115.6z" fill="#4e2013" stroke="#4e2013"/>
<path d="M302.7 115.6L309.6 120.5L309.7 124.3L303 119.5z" fill="#4e2214" stroke="#4e2214"/>
<path d="M303 119.5L309.7 124.3L310 128L303.4 123.2z" fill="#4b2615" stroke="#4b2615"/>
<path d="M303.4 123.2L310 128L310.3 131.5L303.8 126.7z" fill="#462e16" stroke="#462e16"/>
<path d="M303.8 126.7L310.3 131.5L310.6 134.8L304.3 130.1z" fill="#3e361a" stroke="#3e361a"/>
<path d="M304.3 130.1L310.6 134.8L311.1 137.9L304.9 133.3z" fill="#313e24" stroke="#313e24"/>
<path d="M304.9 133.3L311.1 137.9L311.6 140.8L305.6 136.3z" fill="#2e4f38" stroke="#2e4f38"/>
<path d="M317.8 150.1L321.8 153.4L330.4 152.7L327.6 150.1z" fill="#4669b2" stroke="#4669b2"/>
<path d="M305.6 136.3L311.6 140.8L312.3 143.6L306.5 139.2z" fill="#365b5c" stroke="#365b5c"/>
<path d="M306.5 139.2L312.3 143.6L313.1 146.2L307.6 141.9z" fill="#3c6686" stroke="#3c6686"/>
<path d="M307.6 141.9L313.1 146.2L314.2 148.5L308.9 144.3z" fill="#436c9e" stroke="#436c9e"/>
<path d="M308.9 144.3L314.2 148.5L315.7 150.6L310.8 146.6z" fill="#466caf" stroke="#466caf"/>
<path d="M313.5 148.6L318 152.3L321.8 153.4L317.8 150.1z" fill="#466ab1" stroke="#466ab1"/>
<path d="M310.8 146.6L315.7 150.6L318 152.3L313.5 148.6z" fill="#466bb1" stroke="#466bb1"/>
<path d="M321.8 153.4L325.9 156.8L333.4 155.4L330.4 152.7z" fill="#4669b2" stroke="#4669b2"/>
<path d="M309.1 94.3L317.4 99.8L317.3 104.5L309.1 99z" fill="#501b13" stroke="#501b13"/>
<path d="M309.1 99L317.3 104.5L317.2 109.1L309.1 103.7z" fill="#501b13" stroke="#501b13"/>
<path d="M309.1 103.7L317.2 109.1L317.1 113.6L309.2 108.1z" fill="#501b13" stroke="#501b13"/>
<path d="M309.2 108.1L317.1 113.6L317.1 117.8L309.3 112.4z" fill="#4f1d13" stroke="#4f1d13"/>
<path d="M318 152.3L322.8 156.2L325.9 156.8L321.8 153.4z" fill="#466ab1" stroke="#466ab1"/>
<path d="M309.3 112.4L317.1 117.8L317.1 121.9L309.4 116.6z" fill="#4f1e13" stroke="#4f1e13"/>
<path d="M309.4 116.6L317.1 121.9L317.1 125.9L309.6 120.5z" fill="#4e1f13" stroke="#4e1f13"/>
<path d="M309.6 120.5L317.1 125.9L317.1 129.6L309.7 124.3z" fill="#4e2114" stroke="#4e2114"/>
<path d="M309.7 124.3L317.1 129.6L317.2 133.2L310 128z" fill="#4d2314" stroke="#4d2314"/>
<path d="M310 128L317.2 133.2L317.3 136.6L310.3 131.5z" fill="#472c16" stroke="#472c16"/>
<path d="M310.3 131.5L317.3 136.6L317.5 139.9L310.6 134.8z" fill="#413418" stroke="#413418"/>
<path d="M315.7 150.6L321.1 154.8L322.8 156.2L318 152.3z" fill="#466bb1" stroke="#466bb1"/>
<path d="M310.6 134.8L317.5 139.9L317.8 142.9L311.1 137.9z" fill="#343d23" stroke="#343d23"/>
<path d="M311.1 137.9L317.8 142.9L318.1 145.7L311.6 140.8z" fill="#2f5035" stroke="#2f5035"/>
<path d="M311.6 140.8L318.1 145.7L318.5 148.4L312.3 143.6z" fill="#365d59" stroke="#365d59"/>
<path d="M314.2 148.5L319.9 152.9L321.1 154.8L315.7 150.6z" fill="#466cae" stroke="#466cae"/>
<path d="M312.3 143.6L318.5 148.4L319.1 150.8L313.1 146.2z" fill="#3d6784" stroke="#3d6784"/>
<path d="M313.1 146.2L319.1 150.8L319.9 152.9L314.2 148.5z" fill="#436d9e" stroke="#436d9e"/>
<path d="M325.9 156.8L330.3 160.5L336.5 158.2L333.4 155.4z" fill="#4669b2" stroke="#4669b2"/>
<path d="M322.8 156.2L328 160.3L330.3 160.5L325.9 156.8z" fill="#466ab1" stroke="#466ab1"/>
<path d="M321.1 154.8L326.8 159.3L328 160.3L322.8 156.2z" fill="#466bb1" stroke="#466bb1"/>
<path d="M319.9 152.9L326 157.7L326.8 159.3L321.1 154.8z" fill="#466cae" stroke="#466cae"/>
<path d="M319.1 150.8L325.6 155.8L326 157.7L319.9 152.9z" fill="#436d9e" stroke="#436d9e"/>
<path d="M318.5 148.4L325.3 153.5L325.6 155.8L319.1 150.8z" fill="#3d6785" stroke="#3d6785"/>
<path d="M318.1 145.7L325.2 151L325.3 153.5L318.5 148.4z" fill="#365c5b" stroke="#365c5b"/>
<path d="M317.8 142.9L325.1 148.3L325.2 151L318.1 145.7z" fill="#2f5037" stroke="#2f5037"/>
<path d="M317.5 139.9L325 145.4L325.1 148.3L317.8 142.9z" fill="#333d23" stroke="#333d23"/>
<path d="M317.3 136.6L325.1 142.3L325 145.4L317.5 139.9z" fill="#403419" stroke="#403419"/>
<path d="M317.2 133.2L325.1 138.9L325.1 142.3L317.3 136.6z" fill="#472c16" stroke="#472c16"/>
<path d="M317.1 129.6L325.2 135.4L325.1 138.9L317.2 133.2z" fill="#4c2414" stroke="#4c2414"/>
<path d="M317.1 125.9L325.3 131.7L325.2 135.4L317.1 129.6z" fill="#4e2114" stroke="#4e2114"/>
<path d="M317.1 121.9L325.5 127.9L325.3 131.7L317.1 125.9z" fill="#4e2013" stroke="#4e2013"/>
<path d="M317.1 117.8L325.7 123.8L325.5 127.9L317.1 121.9z" fill="#4f1e13" stroke="#4f1e13"/>
<path d="M317.1 113.6L325.9 119.6L325.7 123.8L317.1 117.8z" fill="#4f1d13" stroke="#4f1d13"/>
<path d="M317.2 109.1L326.1 115.2L325.9 119.6L317.1 113.6z" fill="#501b13" stroke="#501b13"/>
<path d="M317.3 104.5L326.3 110.6L326.1 115.2L317.2 109.1z" fill="#501b13" stroke="#501b13"/>
<path d="M317.4 99.8L326.6 105.8L326.3 110.6L317.3 104.5z" fill="#501b13" stroke="#501b13"/>
<path d="M326.6 105.8L326.1 115.4L325.7 123.4L325.4 130L325.2 135.6L325.1 140.2L325 144.1L325 147.3L325.1 150L325.2 152.2L325.4 154.1L325.6 155.6L325.8 156.9L326.1 157.9L326.5 158.7L326.8 159.4L327.3 159.8L327.7 160.2L328.3 160.4L328.8 160.5L329.5 160.6L330.1 160.5L330.9 160.3L331.7 160.1L331.7 160.4L330.9 160.6L330 160.8L329.3 160.9L328.5 160.8L327.8 160.7L327.1 160.5L326.5 160.1L325.9 159.7L325.3 159L324.8 158.2L324.3 157.2L323.8 155.9L323.4 154.4L323 152.5L322.6 150.3L322.2 147.6L322 144.4L321.7 140.5L321.7 135.9L321.9 130.3L322.2 123.7L322.6 115.7L323.1 106.1z" fill="url(#slv)" stroke="none"/>
<path d="M165.2 133.6L168.1 133.2L170.9 132.8L173.6 132.5L176.4 132.3L179 132L181.7 131.9L184.3 131.7L186.9 131.6L189.4 131.6L191.9 131.6L194.4 131.6L196.9 131.7L199.4 131.9L201.8 132.1L204.3 132.3L206.7 132.6L209.1 132.9L211.6 133.3L214 133.7L216.4 134.2L218.9 134.7L221.3 135.3L223.8 135.9L226.3 136.5L228.8 137.3L231.3 138.1L233.9 138.9L236.4 139.8L239.1 140.7L241.7 141.7L244.4 142.8L247.2 143.9L250 145.1L252.8 146.4L255.7 147.7L258.7 149.2L261.7 150.6L264.8 152.2L268 153.8L271.2 155.6L274.6 157.4L278 159.3L281.5 161.3L285.2 163.4L288.9 165.6L292.8 167.9L296.8 170.3L300.9 172.8L305.2 175.5L246.8 208.6z" fill="#4668b2" stroke="#4668b2"/>
<path d="M202.2 45.6L204.2 45.6L204.4 50.3L202.5 50.3z" fill="#a73124" stroke="#a73124"/>
<path d="M200.2 45.7L202.2 45.6L202.5 50.3L200.5 50.3z" fill="#9e2a21" stroke="#9e2a21"/>
<path d="M204.2 45.6L206.1 45.7L206.3 50.3L204.4 50.3z" fill="#a93224" stroke="#a93224"/>
<path d="M198.2 45.8L200.2 45.7L200.5 50.3L198.4 50.5z" fill="#9e2a21" stroke="#9e2a21"/>
<path d="M206.1 45.7L207.9 45.8L208.2 50.5L206.3 50.3z" fill="#9e2a21" stroke="#9e2a21"/>
<path d="M202.5 50.3L204.4 50.3L204.7 54.8L202.7 54.8z" fill="#b24227" stroke="#b24227"/>
<path d="M200.5 50.3L202.5 50.3L202.7 54.8L200.7 54.8z" fill="#a62f23" stroke="#a62f23"/>
<path d="M196.1 46L198.2 45.8L198.4 50.5L196.3 50.7z" fill="#a62f23" stroke="#a62f23"/>
<path d="M204.4 50.3L206.3 50.3L206.6 54.8L204.7 54.8z" fill="#b44727" stroke="#b44727"/>
<path d="M207.9 45.8L209.8 46L210.1 50.7L208.2 50.5z" fill="#9e2a21" stroke="#9e2a21"/>
<path d="M198.4 50.5L200.5 50.3L200.7 54.8L198.7 55z" fill="#a52f23" stroke="#a52f23"/>
<path d="M206.3 50.3L208.2 50.5L208.5 55L206.6 54.8z" fill="#a73024" stroke="#a73024"/>
<path d="M193.9 46.3L196.1 46L196.3 50.7L194.1 50.9z" fill="#a93224" stroke="#a93224"/>
<path d="M209.8 46L211.6 46.3L211.9 50.9L210.1 50.7z" fill="#a73024" stroke="#a73024"/>
<path d="M196.3 50.7L198.4 50.5L198.7 55L196.6 55.2z" fill="#b03e26" stroke="#b03e26"/>
<path d="M202.7 54.8L204.7 54.8L204.9 59.2L202.9 59.1z" fill="#be632c" stroke="#be632c"/>
<path d="M200.7 54.8L202.7 54.8L202.9 59.1L200.9 59.2z" fill="#b03f26" stroke="#b03f26"/>
<path d="M208.2 50.5L210.1 50.7L210.3 55.2L208.5 55z" fill="#a63024" stroke="#a63024"/>
<path d="M204.7 54.8L206.6 54.8L206.8 59.2L204.9 59.2z" fill="#c06b2d" stroke="#c06b2d"/>
<path d="M198.7 55L200.7 54.8L200.9 59.2L198.9 59.3z" fill="#b03d26" stroke="#b03d26"/>
<path d="M206.6 54.8L208.5 55L208.7 59.4L206.8 59.2z" fill="#b24327" stroke="#b24327"/>
<path d="M194.1 50.9L196.3 50.7L196.6 55.2L194.4 55.4z" fill="#b54728" stroke="#b54728"/>
<path d="M196.6 55.2L198.7 55L198.9 59.3L196.8 59.5z" fill="#bc5c2a" stroke="#bc5c2a"/>
<path d="M210.1 50.7L211.9 50.9L212.2 55.5L210.3 55.2z" fill="#b14127" stroke="#b14127"/>
<path d="M191.6 46.7L193.9 46.3L194.1 50.9L191.9 51.3z" fill="#a02c22" stroke="#a02c22"/>
<path d="M211.6 46.3L213.5 46.6L213.8 51.3L211.9 50.9z" fill="#a63024" stroke="#a63024"/>
<path d="M202.9 59.1L204.9 59.2L205.1 63.4L203.2 63.4z" fill="#c58a33" stroke="#c58a33"/>
<path d="M200.9 59.2L202.9 59.1L203.2 63.4L201.2 63.5z" fill="#bd612b" stroke="#bd612b"/>
<path d="M208.5 55L210.3 55.2L210.6 59.6L208.7 59.4z" fill="#b24227" stroke="#b24227"/>
<path d="M204.9 59.2L206.8 59.2L207.1 63.5L205.1 63.4z" fill="#c48f34" stroke="#c48f34"/>
<path d="M198.9 59.3L200.9 59.2L201.2 63.5L199.1 63.6z" fill="#bc5e2b" stroke="#bc5e2b"/>
<path d="M206.8 59.2L208.7 59.4L209 63.7L207.1 63.5z" fill="#bf672c" stroke="#bf672c"/>
<path d="M194.4 55.4L196.6 55.2L196.8 59.5L194.6 59.8z" fill="#c06c2d" stroke="#c06c2d"/>
<path d="M191.9 51.3L194.1 50.9L194.4 55.4L192.1 55.8z" fill="#a93225" stroke="#a93225"/>
<path d="M196.8 59.5L198.9 59.3L199.1 63.6L197 63.8z" fill="#c58531" stroke="#c58531"/>
<path d="M210.3 55.2L212.2 55.5L212.5 59.9L210.6 59.6z" fill="#bd612b" stroke="#bd612b"/>
<path d="M211.9 50.9L213.8 51.3L214.1 55.8L212.2 55.5z" fill="#b14027" stroke="#b14027"/>
<path d="M203.2 63.4L205.1 63.4L205.4 67.6L203.4 67.5z" fill="#c0a63b" stroke="#c0a63b"/>
<path d="M208.7 59.4L210.6 59.6L210.9 63.9L209 63.7z" fill="#be652c" stroke="#be652c"/>
<path d="M201.2 63.5L203.2 63.4L203.4 67.5L201.4 67.6z" fill="#c58a33" stroke="#c58a33"/>
<path d="M189.2 47.1L191.6 46.7L191.9 51.3L189.5 51.7z" fill="#a02b22" stroke="#a02b22"/>
<path d="M213.5 46.6L215.4 47L215.7 51.7L213.8 51.3z" fill="#9e2b21" stroke="#9e2b21"/>
<path d="M205.1 63.4L207.1 63.5L207.3 67.7L205.4 67.6z" fill="#bea63b" stroke="#bea63b"/>
<path d="M199.1 63.6L201.2 63.5L201.4 67.6L199.3 67.7z" fill="#c58832" stroke="#c58832"/>
<path d="M194.6 59.8L196.8 59.5L197 63.8L194.8 64z" fill="#c49034" stroke="#c49034"/>
<path d="M192.1 55.8L194.4 55.4L194.6 59.8L192.3 60.1z" fill="#b54928" stroke="#b54928"/>
<path d="M207.1 63.5L209 63.7L209.2 67.8L207.3 67.7z" fill="#c48e34" stroke="#c48e34"/>
<path d="M197 63.8L199.1 63.6L199.3 67.7L197.2 67.9z" fill="#c2a33a" stroke="#c2a33a"/>
<path d="M212.2 55.5L214.1 55.8L214.4 60.2L212.5 59.9z" fill="#bd5f2b" stroke="#bd5f2b"/>
<path d="M189.5 51.7L191.9 51.3L192.1 55.8L189.7 56.2z" fill="#a93224" stroke="#a93224"/>
<path d="M210.6 59.6L212.5 59.9L212.8 64.2L210.9 63.9z" fill="#c58932" stroke="#c58932"/>
<path d="M213.8 51.3L215.7 51.7L216 56.2L214.1 55.8z" fill="#a73124" stroke="#a73124"/>
<path d="M209 63.7L210.9 63.9L211.2 68L209.2 67.8z" fill="#c48d33" stroke="#c48d33"/>
<path d="M203.4 67.5L205.4 67.6L205.6 71.6L203.6 71.6z" fill="#b2a63c" stroke="#b2a63c"/>
<path d="M201.4 67.6L203.4 67.5L203.6 71.6L201.6 71.6z" fill="#bfa63b" stroke="#bfa63b"/>
<path d="M192.3 60.1L194.6 59.8L194.8 64L192.5 64.3z" fill="#c2712e" stroke="#c2712e"/>
<path d="M205.4 67.6L207.3 67.7L207.5 71.7L205.6 71.6z" fill="#b0a63d" stroke="#b0a63d"/>
<path d="M194.8 64L197 63.8L197.2 67.9L195 68.1z" fill="#bea63b" stroke="#bea63b"/>
<path d="M199.3 67.7L201.4 67.6L201.6 71.6L199.5 71.7z" fill="#c0a63b" stroke="#c0a63b"/>
<path d="M186.7 47.6L189.2 47.1L189.5 51.7L187 52.2z" fill="#a73124" stroke="#a73124"/>
<path d="M215.4 47L217.3 47.5L217.6 52.2L215.7 51.7z" fill="#9a2b21" stroke="#9a2b21"/>
<path d="M189.7 56.2L192.1 55.8L192.3 60.1L189.9 60.5z" fill="#b54828" stroke="#b54828"/>
<path d="M207.3 67.7L209.2 67.8L209.5 71.9L207.5 71.7z" fill="#bda63b" stroke="#bda63b"/>
<path d="M197.2 67.9L199.3 67.7L199.5 71.7L197.3 71.9z" fill="#b4a63c" stroke="#b4a63c"/>
<path d="M212.5 59.9L214.4 60.2L214.7 64.5L212.8 64.2z" fill="#c58732" stroke="#c58732"/>
<path d="M210.9 63.9L212.8 64.2L213.1 68.3L211.2 68z" fill="#c1a63b" stroke="#c1a63b"/>
<path d="M214.1 55.8L216 56.2L216.3 60.7L214.4 60.2z" fill="#b34527" stroke="#b34527"/>
<path d="M187 52.2L189.5 51.7L189.7 56.2L187.2 56.7z" fill="#b24227" stroke="#b24227"/>
<path d="M192.5 64.3L194.8 64L195 68.1L192.7 68.5z" fill="#c39536" stroke="#c39536"/>
<path d="M209.2 67.8L211.2 68L211.4 72.1L209.5 71.9z" fill="#bea63b" stroke="#bea63b"/>
<path d="M215.7 51.7L217.6 52.2L217.9 56.7L216 56.2z" fill="#a23123" stroke="#a23123"/>
<path d="M189.9 60.5L192.3 60.1L192.5 64.3L190.1 64.7z" fill="#c16f2d" stroke="#c16f2d"/>
<path d="M201.6 71.6L203.6 71.6L203.8 75.5L201.7 75.5z" fill="#b0a63d" stroke="#b0a63d"/>
<path d="M203.6 71.6L205.6 71.6L205.8 75.5L203.8 75.5z" fill="#99a03d" stroke="#99a03d"/>
<path d="M195 68.1L197.2 67.9L197.3 71.9L195.1 72.1z" fill="#afa63d" stroke="#afa63d"/>
<path d="M199.5 71.7L201.6 71.6L201.7 75.5L199.7 75.6z" fill="#b1a63d" stroke="#b1a63d"/>
<path d="M205.6 71.6L207.5 71.7L207.8 75.6L205.8 75.5z" fill="#959f3d" stroke="#959f3d"/>
<path d="M187.2 56.7L189.7 56.2L189.9 60.5L187.4 61z" fill="#be632c" stroke="#be632c"/>
<path d="M212.8 64.2L214.7 64.5L215 68.7L213.1 68.3z" fill="#c1a53b" stroke="#c1a53b"/>
<path d="M197.3 71.9L199.5 71.7L199.7 75.6L197.5 75.8z" fill="#9da13d" stroke="#9da13d"/>
<path d="M214.4 60.2L216.3 60.7L216.6 65L214.7 64.5z" fill="#bf6a2c" stroke="#bf6a2c"/>
<path d="M207.5 71.7L209.5 71.9L209.7 75.8L207.8 75.6z" fill="#aea53d" stroke="#aea53d"/>
<path d="M184.1 48.1L186.7 47.6L187 52.2L184.3 52.7z" fill="#a83124" stroke="#a83124"/>
<path d="M217.3 47.5L219.2 48L219.5 52.7L217.6 52.2z" fill="#942d21" stroke="#942d21"/>
<path d="M211.2 68L213.1 68.3L213.3 72.4L211.4 72.1z" fill="#b2a63c" stroke="#b2a63c"/>
<path d="M192.7 68.5L195 68.1L195.1 72.1L192.8 72.4z" fill="#baa63c" stroke="#baa63c"/>
<path d="M190.1 64.7L192.5 64.3L192.7 68.5L190.3 68.8z" fill="#c39435" stroke="#c39435"/>
<path d="M216 56.2L217.9 56.7L218.2 61.2L216.3 60.7z" fill="#ac4426" stroke="#ac4426"/>
<path d="M195.1 72.1L197.3 71.9L197.5 75.8L195.3 76z" fill="#959f3d" stroke="#959f3d"/>
<path d="M209.5 71.9L211.4 72.1L211.7 76L209.7 75.8z" fill="#afa63d" stroke="#afa63d"/>
<path d="M187.4 61L189.9 60.5L190.1 64.7L187.6 65.2z" fill="#c58a33" stroke="#c58a33"/>
<path d="M184.3 52.7L187 52.2L187.2 56.7L184.5 57.2z" fill="#b44527" stroke="#b44527"/>
<path d="M201.7 75.5L203.8 75.5L204 79.3L201.9 79.3z" fill="#949f3d" stroke="#949f3d"/>
<path d="M203.8 75.5L205.8 75.5L206 79.3L204 79.3z" fill="#7f9a3d" stroke="#7f9a3d"/>
<path d="M199.7 75.6L201.7 75.5L201.9 79.3L199.8 79.4z" fill="#959f3d" stroke="#959f3d"/>
<path d="M217.6 52.2L219.5 52.7L219.9 57.3L217.9 56.7z" fill="#9b3923" stroke="#9b3923"/>
<path d="M205.8 75.5L207.8 75.6L208 79.5L206 79.3z" fill="#7d9a3d" stroke="#7d9a3d"/>
<path d="M214.7 64.5L216.6 65L216.9 69.1L215 68.7z" fill="#c38f34" stroke="#c38f34"/>
<path d="M213.1 68.3L215 68.7L215.3 72.8L213.3 72.4z" fill="#b3a63c" stroke="#b3a63c"/>
<path d="M197.5 75.8L199.7 75.6L199.8 79.4L197.7 79.6z" fill="#829b3d" stroke="#829b3d"/>
<path d="M190.3 68.8L192.7 68.5L192.8 72.4L190.4 72.8z" fill="#bba63c" stroke="#bba63c"/>
<path d="M192.8 72.4L195.1 72.1L195.3 76L193 76.3z" fill="#a8a43d" stroke="#a8a43d"/>
<path d="M216.3 60.7L218.2 61.2L218.6 65.5L216.6 65z" fill="#b7672b" stroke="#b7672b"/>
<path d="M184.5 57.2L187.2 56.7L187.4 61L184.8 61.6z" fill="#bf692c" stroke="#bf692c"/>
<path d="M207.8 75.6L209.7 75.8L210 79.6L208 79.5z" fill="#919e3d" stroke="#919e3d"/>
<path d="M211.4 72.1L213.3 72.4L213.6 76.4L211.7 76z" fill="#9aa13d" stroke="#9aa13d"/>
<path d="M187.6 65.2L190.1 64.7L190.3 68.8L187.8 69.3z" fill="#c0a63b" stroke="#c0a63b"/>
<path d="M195.3 76L197.5 75.8L197.7 79.6L195.4 79.8z" fill="#7d993d" stroke="#7d993d"/>
<path d="M181.2 48.8L184.1 48.1L184.3 52.7L181.5 53.4z" fill="#ac3725" stroke="#ac3725"/>
<path d="M219.2 48L221.2 48.7L221.5 53.4L219.5 52.7z" fill="#85291d" stroke="#85291d"/>
<path d="M217.9 56.7L219.9 57.3L220.2 61.7L218.2 61.2z" fill="#a34f26" stroke="#a34f26"/>
<path d="M209.7 75.8L211.7 76L211.9 79.9L210 79.6z" fill="#929f3d" stroke="#929f3d"/>
<path d="M184.8 61.6L187.4 61L187.6 65.2L185 65.8z" fill="#c48e34" stroke="#c48e34"/>
<path d="M201.9 79.3L204 79.3L204.2 83L202.1 83z" fill="#7b993e" stroke="#7b993e"/>
<path d="M204 79.3L206 79.3L206.2 83.1L204.2 83z" fill="#6e9640" stroke="#6e9640"/>
<path d="M215 68.7L216.9 69.1L217.2 73.2L215.3 72.8z" fill="#bba43b" stroke="#bba43b"/>
<path d="M190.4 72.8L192.8 72.4L193 76.3L190.6 76.7z" fill="#a9a43d" stroke="#a9a43d"/>
<path d="M199.8 79.4L201.9 79.3L202.1 83L200 83.1z" fill="#7b993e" stroke="#7b993e"/>
<path d="M213.3 72.4L215.3 72.8L215.6 76.7L213.6 76.4z" fill="#9ba13d" stroke="#9ba13d"/>
<path d="M181.5 53.4L184.3 52.7L184.5 57.2L181.8 57.9z" fill="#b84e28" stroke="#b84e28"/>
<path d="M187.8 69.3L190.3 68.8L190.4 72.8L187.9 73.3z" fill="#b2a63c" stroke="#b2a63c"/>
<path d="M216.6 65L218.6 65.5L218.9 69.7L216.9 69.1z" fill="#b98832" stroke="#b98832"/>
<path d="M206 79.3L208 79.5L208.2 83.2L206.2 83.1z" fill="#6c9540" stroke="#6c9540"/>
<path d="M193 76.3L195.3 76L195.4 79.8L193.1 80.1z" fill="#8c9d3d" stroke="#8c9d3d"/>
<path d="M197.7 79.6L199.8 79.4L200 83.1L197.8 83.3z" fill="#70963f" stroke="#70963f"/>
<path d="M219.5 52.7L221.5 53.4L221.9 58L219.9 57.3z" fill="#892e1f" stroke="#892e1f"/>
<path d="M211.7 76L213.6 76.4L213.9 80.2L211.9 79.9z" fill="#809a3d" stroke="#809a3d"/>
<path d="M208 79.5L210 79.6L210.2 83.4L208.2 83.2z" fill="#79993e" stroke="#79993e"/>
<path d="M218.2 61.2L220.2 61.7L220.5 66.1L218.6 65.5z" fill="#aa6b2b" stroke="#aa6b2b"/>
<path d="M185 65.8L187.6 65.2L187.8 69.3L185.2 69.9z" fill="#bea63b" stroke="#bea63b"/>
<path d="M181.8 57.9L184.5 57.2L184.8 61.6L182 62.2z" fill="#c3772e" stroke="#c3772e"/>
<path d="M195.4 79.8L197.7 79.6L197.8 83.3L195.6 83.5z" fill="#6c9540" stroke="#6c9540"/>
<path d="M190.6 76.7L193 76.3L193.1 80.1L190.7 80.5z" fill="#8d9d3d" stroke="#8d9d3d"/>
<path d="M187.9 73.3L190.4 72.8L190.6 76.7L188.1 77.2z" fill="#99a03d" stroke="#99a03d"/>
<path d="M210 79.6L211.9 79.9L212.2 83.7L210.2 83.4z" fill="#79993e" stroke="#79993e"/>
<path d="M215.3 72.8L217.2 73.2L217.5 77.2L215.6 76.7z" fill="#aba43c" stroke="#aba43c"/>
<path d="M216.9 69.1L218.9 69.7L219.2 73.8L217.2 73.2z" fill="#b29838" stroke="#b29838"/>
<path d="M219.9 57.3L221.9 58L222.2 62.4L220.2 61.7z" fill="#903c21" stroke="#903c21"/>
<path d="M178.3 49.5L181.2 48.8L181.5 53.4L178.6 54.1z" fill="#ac3725" stroke="#ac3725"/>
<path d="M213.6 76.4L215.6 76.7L215.9 80.6L213.9 80.2z" fill="#809a3d" stroke="#809a3d"/>
<path d="M202.1 83L204.2 83L204.4 86.7L202.3 86.7z" fill="#699540" stroke="#699540"/>
<path d="M182 62.2L184.8 61.6L185 65.8L182.2 66.4z" fill="#c39737" stroke="#c39737"/>
<path d="M193.1 80.1L195.4 79.8L195.6 83.5L193.3 83.8z" fill="#76983e" stroke="#76983e"/>
<path d="M185.2 69.9L187.8 69.3L187.9 73.3L185.3 73.8z" fill="#b0a63d" stroke="#b0a63d"/>
<path d="M221.2 48.7L223.2 49.4L223.6 54.1L221.5 53.4z" fill="#77261b" stroke="#77261b"/>
<path d="M204.2 83L206.2 83.1L206.4 86.8L204.4 86.7z" fill="#5e9242" stroke="#5e9242"/>
<path d="M200 83.1L202.1 83L202.3 86.7L200.1 86.8z" fill="#699540" stroke="#699540"/>
<path d="M218.6 65.5L220.5 66.1L220.9 70.3L218.9 69.7z" fill="#a78131" stroke="#a78131"/>
<path d="M206.2 83.1L208.2 83.2L208.5 86.9L206.4 86.8z" fill="#5c9142" stroke="#5c9142"/>
<path d="M197.8 83.3L200 83.1L200.1 86.8L198 86.9z" fill="#5f9242" stroke="#5f9242"/>
<path d="M211.9 79.9L213.9 80.2L214.2 84L212.2 83.7z" fill="#6e963f" stroke="#6e963f"/>
<path d="M178.6 54.1L181.5 53.4L181.8 57.9L178.8 58.6z" fill="#b84e28" stroke="#b84e28"/>
<path d="M188.1 77.2L190.6 76.7L190.7 80.5L188.2 80.9z" fill="#7f9a3d" stroke="#7f9a3d"/>
<path d="M182.2 66.4L185 65.8L185.2 69.9L182.4 70.5z" fill="#baa63c" stroke="#baa63c"/>
<path d="M208.2 83.2L210.2 83.4L210.5 87.1L208.5 86.9z" fill="#679441" stroke="#679441"/>
<path d="M195.6 83.5L197.8 83.3L198 86.9L195.7 87.1z" fill="#5c9143" stroke="#5c9143"/>
<path d="M220.2 61.7L222.2 62.4L222.6 66.7L220.5 66.1z" fill="#975325" stroke="#975325"/>
<path d="M221.5 53.4L223.6 54.1L223.9 58.7L221.9 58z" fill="#7a2c1d" stroke="#7a2c1d"/>
<path d="M190.7 80.5L193.1 80.1L193.3 83.8L190.9 84.1z" fill="#77983e" stroke="#77983e"/>
<path d="M185.3 73.8L187.9 73.3L188.1 77.2L185.5 77.7z" fill="#96a03d" stroke="#96a03d"/>
<path d="M217.2 73.2L219.2 73.8L219.5 77.7L217.5 77.2z" fill="#a29839" stroke="#a29839"/>
<path d="M215.6 76.7L217.5 77.2L217.9 81.1L215.9 80.6z" fill="#8f9d3c" stroke="#8f9d3c"/>
<path d="M178.8 58.6L181.8 57.9L182 62.2L179.1 62.9z" fill="#c3782e" stroke="#c3782e"/>
<path d="M218.9 69.7L220.9 70.3L221.2 74.4L219.2 73.8z" fill="#9e8533" stroke="#9e8533"/>
<path d="M210.2 83.4L212.2 83.7L212.5 87.4L210.5 87.1z" fill="#689441" stroke="#689441"/>
<path d="M193.3 83.8L195.6 83.5L195.7 87.1L193.4 87.4z" fill="#659341" stroke="#659341"/>
<path d="M213.9 80.2L215.9 80.6L216.2 84.4L214.2 84z" fill="#6f963f" stroke="#6f963f"/>
<path d="M182.4 70.5L185.2 69.9L185.3 73.8L182.6 74.5z" fill="#aaa43d" stroke="#aaa43d"/>
<path d="M202.3 86.7L204.4 86.7L204.6 90.3L202.4 90.3z" fill="#599046" stroke="#599046"/>
<path d="M221.9 58L223.9 58.7L224.3 63.2L222.2 62.4z" fill="#7f331e" stroke="#7f331e"/>
<path d="M179.1 62.9L182 62.2L182.2 66.4L179.3 67.1z" fill="#c39737" stroke="#c39737"/>
<path d="M200.1 86.8L202.3 86.7L202.4 90.3L200.3 90.3z" fill="#5a9046" stroke="#5a9046"/>
<path d="M204.4 86.7L206.4 86.8L206.6 90.4L204.6 90.3z" fill="#548e4f" stroke="#548e4f"/>
<path d="M220.5 66.1L222.6 66.7L222.9 71L220.9 70.3z" fill="#976529" stroke="#976529"/>
<path d="M188.2 80.9L190.7 80.5L190.9 84.1L188.4 84.6z" fill="#6e9640" stroke="#6e9640"/>
<path d="M185.5 77.7L188.1 77.2L188.2 80.9L185.6 81.4z" fill="#7d9a3d" stroke="#7d9a3d"/>
<path d="M198 86.9L200.1 86.8L200.3 90.3L198.1 90.4z" fill="#548e4e" stroke="#548e4e"/>
<path d="M175.1 50.3L178.3 49.5L178.6 54.1L175.4 54.9z" fill="#a73124" stroke="#a73124"/>
<path d="M223.2 49.4L225.4 50.2L225.7 54.9L223.6 54.1z" fill="#6d2519" stroke="#6d2519"/>
<path d="M206.4 86.8L208.5 86.9L208.7 90.5L206.6 90.4z" fill="#538d50" stroke="#538d50"/>
<path d="M212.2 83.7L214.2 84L214.5 87.7L212.5 87.4z" fill="#5e9242" stroke="#5e9242"/>
<path d="M190.9 84.1L193.3 83.8L193.4 87.4L191 87.7z" fill="#659441" stroke="#659441"/>
<path d="M217.5 77.2L219.5 77.7L219.9 81.6L217.9 81.1z" fill="#889439" stroke="#889439"/>
<path d="M182.6 74.5L185.3 73.8L185.5 77.7L182.8 78.3z" fill="#8f9e3d" stroke="#8f9e3d"/>
<path d="M195.7 87.1L198 86.9L198.1 90.4L195.8 90.6z" fill="#538d50" stroke="#538d50"/>
<path d="M179.3 67.1L182.2 66.4L182.4 70.5L179.5 71.2z" fill="#baa63c" stroke="#baa63c"/>
<path d="M219.2 73.8L221.2 74.4L221.6 78.4L219.5 77.7z" fill="#8e8533" stroke="#8e8533"/>
<path d="M175.4 54.9L178.6 54.1L178.8 58.6L175.7 59.4z" fill="#b24227" stroke="#b24227"/>
<path d="M208.5 86.9L210.5 87.1L210.7 90.7L208.7 90.5z" fill="#589048" stroke="#589048"/>
<path d="M215.9 80.6L217.9 81.1L218.2 84.9L216.2 84.4z" fill="#78973e" stroke="#78973e"/>
<path d="M222.2 62.4L224.3 63.2L224.7 67.5L222.6 66.7z" fill="#834020" stroke="#834020"/>
<path d="M223.6 54.1L225.7 54.9L226.1 59.5L223.9 58.7z" fill="#702b1b" stroke="#702b1b"/>
<path d="M220.9 70.3L222.9 71L223.3 75.1L221.2 74.4z" fill="#926f2c" stroke="#926f2c"/>
<path d="M193.4 87.4L195.7 87.1L195.8 90.6L193.5 90.9z" fill="#578f4a" stroke="#578f4a"/>
<path d="M185.6 81.4L188.2 80.9L188.4 84.6L185.8 85.1z" fill="#6d9540" stroke="#6d9540"/>
<path d="M214.2 84L216.2 84.4L216.5 88.1L214.5 87.7z" fill="#5e9242" stroke="#5e9242"/>
<path d="M175.7 59.4L178.8 58.6L179.1 62.9L175.9 63.7z" fill="#be642c" stroke="#be642c"/>
<path d="M188.4 84.6L190.9 84.1L191 87.7L188.5 88.1z" fill="#5e9242" stroke="#5e9242"/>
<path d="M210.5 87.1L212.5 87.4L212.8 91L210.7 90.7z" fill="#599047" stroke="#599047"/>
<path d="M179.5 71.2L182.4 70.5L182.6 74.5L179.7 75.2z" fill="#aaa43d" stroke="#aaa43d"/>
<path d="M182.8 78.3L185.5 77.7L185.6 81.4L182.9 82z" fill="#79993e" stroke="#79993e"/>
<path d="M202.4 90.3L204.6 90.3L204.8 93.8L202.6 93.8z" fill="#4f8c55" stroke="#4f8c55"/>
<path d="M222.6 66.7L224.7 67.5L225 71.7L222.9 71z" fill="#864e23" stroke="#864e23"/>
<path d="M175.9 63.7L179.1 62.9L179.3 67.1L176.2 67.9z" fill="#c58a33" stroke="#c58a33"/>
<path d="M200.3 90.3L202.4 90.3L202.6 93.8L200.4 93.8z" fill="#508c55" stroke="#508c55"/>
<path d="M191 87.7L193.4 87.4L193.5 90.9L191.1 91.2z" fill="#578f49" stroke="#578f49"/>
<path d="M223.9 58.7L226.1 59.5L226.5 64L224.3 63.2z" fill="#73321c" stroke="#73321c"/>
<path d="M204.6 90.3L206.6 90.4L206.9 93.9L204.8 93.8z" fill="#4b895c" stroke="#4b895c"/>
<path d="M217.9 81.1L219.9 81.6L220.2 85.5L218.2 84.9z" fill="#74903b" stroke="#74903b"/>
<path d="M219.5 77.7L221.6 78.4L221.9 82.3L219.9 81.6z" fill="#788435" stroke="#788435"/>
<path d="M198.1 90.4L200.3 90.3L200.4 93.8L198.2 94z" fill="#4b8a5b" stroke="#4b8a5b"/>
<path d="M212.5 87.4L214.5 87.7L214.8 91.4L212.8 91z" fill="#548e4f" stroke="#548e4f"/>
<path d="M179.7 75.2L182.6 74.5L182.8 78.3L179.9 79z" fill="#8f9e3d" stroke="#8f9e3d"/>
<path d="M206.6 90.4L208.7 90.5L209 94.1L206.9 93.9z" fill="#4a895d" stroke="#4a895d"/>
<path d="M221.2 74.4L223.3 75.1L223.7 79.1L221.6 78.4z" fill="#88722d" stroke="#88722d"/>
<path d="M216.2 84.4L218.2 84.9L218.6 88.6L216.5 88.1z" fill="#669340" stroke="#669340"/>
<path d="M195.8 90.6L198.1 90.4L198.2 94L195.9 94.1z" fill="#4a895e" stroke="#4a895e"/>
<path d="M171.7 51.3L175.1 50.3L175.4 54.9L172.1 55.9z" fill="#ab3425" stroke="#ab3425"/>
<path d="M185.8 85.1L188.4 84.6L188.5 88.1L185.9 88.6z" fill="#5c9142" stroke="#5c9142"/>
<path d="M225.4 50.2L227.6 51.1L227.9 55.9L225.7 54.9z" fill="#652718" stroke="#652718"/>
<path d="M176.2 67.9L179.3 67.1L179.5 71.2L176.4 72z" fill="#c0a63b" stroke="#c0a63b"/>
<path d="M182.9 82L185.6 81.4L185.8 85.1L183 85.7z" fill="#699540" stroke="#699540"/>
<path d="M208.7 90.5L210.7 90.7L211 94.3L209 94.1z" fill="#4f8b56" stroke="#4f8b56"/>
<path d="M188.5 88.1L191 87.7L191.1 91.2L188.6 91.6z" fill="#548e4f" stroke="#548e4f"/>
<path d="M224.3 63.2L226.5 64L226.8 68.3L224.7 67.5z" fill="#763c1e" stroke="#763c1e"/>
<path d="M172.1 55.9L175.4 54.9L175.7 59.4L172.4 60.3z" fill="#b74c28" stroke="#b74c28"/>
<path d="M193.5 90.9L195.8 90.6L195.9 94.1L193.6 94.4z" fill="#4e8b58" stroke="#4e8b58"/>
<path d="M222.9 71L225 71.7L225.4 75.8L223.3 75.1z" fill="#845a26" stroke="#845a26"/>
<path d="M214.5 87.7L216.5 88.1L216.9 91.8L214.8 91.4z" fill="#548e4e" stroke="#548e4e"/>
<path d="M179.9 79L182.8 78.3L182.9 82L180 82.7z" fill="#79993e" stroke="#79993e"/>
<path d="M176.4 72L179.5 71.2L179.7 75.2L176.6 76z" fill="#b2a63c" stroke="#b2a63c"/>
<path d="M225.7 54.9L227.9 55.9L228.3 60.5L226.1 59.5z" fill="#69301b" stroke="#69301b"/>
<path d="M210.7 90.7L212.8 91L213.1 94.6L211 94.3z" fill="#4f8b56" stroke="#4f8b56"/>
<path d="M172.4 60.3L175.7 59.4L175.9 63.7L172.6 64.6z" fill="#c2742e" stroke="#c2742e"/>
<path d="M219.9 81.6L221.9 82.3L222.3 86.1L220.2 85.5z" fill="#6a8538" stroke="#6a8538"/>
<path d="M191.1 91.2L193.5 90.9L193.6 94.4L191.2 94.7z" fill="#4e8b57" stroke="#4e8b57"/>
<path d="M218.2 84.9L220.2 85.5L220.6 89.2L218.6 88.6z" fill="#638d3e" stroke="#638d3e"/>
<path d="M221.6 78.4L223.7 79.1L224 83L221.9 82.3z" fill="#77752f" stroke="#77752f"/>
<path d="M183 85.7L185.8 85.1L185.9 88.6L183.2 89.2z" fill="#5a9145" stroke="#5a9145"/>
<path d="M185.9 88.6L188.5 88.1L188.6 91.6L186 92.1z" fill="#538d50" stroke="#538d50"/>
<path d="M224.7 67.5L226.8 68.3L227.2 72.6L225 71.7z" fill="#764520" stroke="#764520"/>
<path d="M172.6 64.6L175.9 63.7L176.2 67.9L172.9 68.8z" fill="#c39536" stroke="#c39536"/>
<path d="M176.6 76L179.7 75.2L179.9 79L176.8 79.8z" fill="#99a03d" stroke="#99a03d"/>
<path d="M180 82.7L182.9 82L183 85.7L180.2 86.3z" fill="#699540" stroke="#699540"/>
<path d="M200.4 93.8L202.6 93.8L202.8 97.4L200.6 97.4z" fill="#478765" stroke="#478765"/>
<path d="M202.6 93.8L204.8 93.8L205 97.4L202.8 97.4z" fill="#478666" stroke="#478666"/>
<path d="M223.3 75.1L225.4 75.8L225.8 79.9L223.7 79.1z" fill="#806027" stroke="#806027"/>
<path d="M216.5 88.1L218.6 88.6L218.9 92.3L216.9 91.8z" fill="#588f48" stroke="#588f48"/>
<path d="M226.1 59.5L228.3 60.5L228.7 64.9L226.5 64z" fill="#6b361c" stroke="#6b361c"/>
<path d="M212.8 91L214.8 91.4L215.2 95L213.1 94.6z" fill="#4b8a5c" stroke="#4b8a5c"/>
<path d="M198.2 94L200.4 93.8L200.6 97.4L198.4 97.5z" fill="#458170" stroke="#458170"/>
<path d="M204.8 93.8L206.9 93.9L207.1 97.5L205 97.4z" fill="#448172" stroke="#448172"/>
<path d="M188.6 91.6L191.1 91.2L191.2 94.7L188.7 95.1z" fill="#4b895c" stroke="#4b895c"/>
<path d="M195.9 94.1L198.2 94L198.4 97.5L196.1 97.6z" fill="#448074" stroke="#448074"/>
<path d="M172.9 68.8L176.2 67.9L176.4 72L173.2 72.9z" fill="#bba63b" stroke="#bba63b"/>
<path d="M206.9 93.9L209 94.1L209.2 97.7L207.1 97.5z" fill="#448074" stroke="#448074"/>
<path d="M176.8 79.8L179.9 79L180 82.7L177 83.5z" fill="#7f9a3d" stroke="#7f9a3d"/>
<path d="M168.1 52.3L171.7 51.3L172.1 55.9L168.5 56.9z" fill="#a93225" stroke="#a93225"/>
<path d="M227.6 51.1L229.9 52.1L230.3 56.9L227.9 55.9z" fill="#5f2818" stroke="#5f2818"/>
<path d="M225 71.7L227.2 72.6L227.6 76.7L225.4 75.8z" fill="#754c21" stroke="#754c21"/>
<path d="M193.6 94.4L195.9 94.1L196.1 97.6L193.7 97.8z" fill="#46846a" stroke="#46846a"/>
<path d="M220.2 85.5L222.3 86.1L222.7 89.9L220.6 89.2z" fill="#5a833b" stroke="#5a833b"/>
<path d="M221.9 82.3L224 83L224.4 86.8L222.3 86.1z" fill="#697932" stroke="#697932"/>
<path d="M183.2 89.2L185.9 88.6L186 92.1L183.3 92.7z" fill="#518c52" stroke="#518c52"/>
<path d="M226.5 64L228.7 64.9L229.1 69.3L226.8 68.3z" fill="#6b3a1d" stroke="#6b3a1d"/>
<path d="M209 94.1L211 94.3L211.3 97.9L209.2 97.7z" fill="#478567" stroke="#478567"/>
<path d="M214.8 91.4L216.9 91.8L217.2 95.4L215.2 95z" fill="#4b8a5c" stroke="#4b8a5c"/>
<path d="M180.2 86.3L183 85.7L183.2 89.2L180.3 89.9z" fill="#5a9145" stroke="#5a9145"/>
<path d="M173.2 72.9L176.4 72L176.6 76L173.4 76.8z" fill="#aca53d" stroke="#aca53d"/>
<path d="M168.5 56.9L172.1 55.9L172.4 60.3L168.8 61.3z" fill="#b54828" stroke="#b54828"/>
<path d="M218.6 88.6L220.6 89.2L221 92.9L218.9 92.3z" fill="#558a46" stroke="#558a46"/>
<path d="M223.7 79.1L225.8 79.9L226.2 83.8L224 83z" fill="#746429" stroke="#746429"/>
<path d="M186 92.1L188.6 91.6L188.7 95.1L186.1 95.5z" fill="#4a895d" stroke="#4a895d"/>
<path d="M191.2 94.7L193.6 94.4L193.7 97.8L191.3 98.1z" fill="#46846a" stroke="#46846a"/>
<path d="M227.9 55.9L230.3 56.9L230.6 61.5L228.3 60.5z" fill="#66351c" stroke="#66351c"/>
<path d="M211 94.3L213.1 94.6L213.4 98.3L211.3 97.9z" fill="#478667" stroke="#478667"/>
<path d="M168.8 61.3L172.4 60.3L172.6 64.6L169.1 65.7z" fill="#c06d2d" stroke="#c06d2d"/>
<path d="M177 83.5L180 82.7L180.2 86.3L177.2 87.1z" fill="#6e9640" stroke="#6e9640"/>
<path d="M173.4 76.8L176.6 76L176.8 79.8L173.6 80.7z" fill="#919e3d" stroke="#919e3d"/>
<path d="M226.8 68.3L229.1 69.3L229.5 73.5L227.2 72.6z" fill="#6b411e" stroke="#6b411e"/>
<path d="M225.4 75.8L227.6 76.7L228 80.7L225.8 79.9z" fill="#715222" stroke="#715222"/>
<path d="M216.9 91.8L218.9 92.3L219.3 96L217.2 95.4z" fill="#4e8a56" stroke="#4e8a56"/>
<path d="M169.1 65.7L172.6 64.6L172.9 68.8L169.4 69.8z" fill="#c49135" stroke="#c49135"/>
<path d="M188.7 95.1L191.2 94.7L191.3 98.1L188.8 98.5z" fill="#448172" stroke="#448172"/>
<path d="M180.3 89.9L183.2 89.2L183.3 92.7L180.5 93.3z" fill="#518c52" stroke="#518c52"/>
<path d="M213.1 94.6L215.2 95L215.5 98.6L213.4 98.3z" fill="#458172" stroke="#458172"/>
<path d="M228.3 60.5L230.6 61.5L231 66L228.7 64.9z" fill="#67391d" stroke="#67391d"/>
<path d="M183.3 92.7L186 92.1L186.1 95.5L183.4 96.1z" fill="#49895f" stroke="#49895f"/>
<path d="M222.3 86.1L224.4 86.8L224.9 90.6L222.7 89.9z" fill="#5a7935" stroke="#5a7935"/>
<path d="M200.6 97.4L202.8 97.4L203 101L200.8 101z" fill="#437c82" stroke="#437c82"/>
<path d="M173.6 80.7L176.8 79.8L177 83.5L173.8 84.4z" fill="#7a993e" stroke="#7a993e"/>
<path d="M202.8 97.4L205 97.4L205.2 101L203 101z" fill="#437c83" stroke="#437c83"/>
<path d="M177.2 87.1L180.2 86.3L180.3 89.9L177.4 90.6z" fill="#5d9242" stroke="#5d9242"/>
<path d="M169.4 69.8L172.9 68.8L173.2 72.9L169.7 73.9z" fill="#bda63b" stroke="#bda63b"/>
<path d="M198.4 97.5L200.6 97.4L200.8 101L198.5 101z" fill="#41788c" stroke="#41788c"/>
<path d="M224 83L226.2 83.8L226.6 87.6L224.4 86.8z" fill="#676a2c" stroke="#676a2c"/>
<path d="M220.6 89.2L222.7 89.9L223.1 93.6L221 92.9z" fill="#4f8045" stroke="#4f8045"/>
<path d="M205 97.4L207.1 97.5L207.4 101.2L205.2 101z" fill="#41778d" stroke="#41778d"/>
<path d="M196.1 97.6L198.4 97.5L198.5 101L196.2 101.2z" fill="#40768f" stroke="#40768f"/>
<path d="M227.2 72.6L229.5 73.5L229.9 77.7L227.6 76.7z" fill="#6a461e" stroke="#6a461e"/>
<path d="M186.1 95.5L188.7 95.1L188.8 98.5L186.2 98.9z" fill="#448074" stroke="#448074"/>
<path d="M207.1 97.5L209.2 97.7L209.5 101.4L207.4 101.2z" fill="#40778f" stroke="#40778f"/>
<path d="M225.8 79.9L228 80.7L228.4 84.7L226.2 83.8z" fill="#665a25" stroke="#665a25"/>
<path d="M169.7 73.9L173.2 72.9L173.4 76.8L170 77.8z" fill="#afa63d" stroke="#afa63d"/>
<path d="M164.3 53.4L168.1 52.3L168.5 56.9L164.7 58z" fill="#9e2a21" stroke="#9e2a21"/>
<path d="M228.7 64.9L231 66L231.4 70.3L229.1 69.3z" fill="#673c1d" stroke="#673c1d"/>
<path d="M193.7 97.8L196.1 97.6L196.2 101.2L193.9 101.4z" fill="#427a87" stroke="#427a87"/>
<path d="M218.9 92.3L221 92.9L221.5 96.6L219.3 96z" fill="#4b8654" stroke="#4b8654"/>
<path d="M215.2 95L217.2 95.4L217.6 99.1L215.5 98.6z" fill="#458171" stroke="#458171"/>
<path d="M229.9 52.1L232.3 53.2L232.7 58L230.3 56.9z" fill="#582116" stroke="#582116"/>
<path d="M173.8 84.4L177 83.5L177.2 87.1L174 88z" fill="#6a9540" stroke="#6a9540"/>
<path d="M164.7 58L168.5 56.9L168.8 61.3L165 62.5z" fill="#a73024" stroke="#a73024"/>
<path d="M209.2 97.7L211.3 97.9L211.7 101.6L209.5 101.4z" fill="#427b84" stroke="#427b84"/>
<path d="M180.5 93.3L183.3 92.7L183.4 96.1L180.6 96.7z" fill="#49895f" stroke="#49895f"/>
<path d="M191.3 98.1L193.7 97.8L193.9 101.4L191.4 101.6z" fill="#427a86" stroke="#427a86"/>
<path d="M177.4 90.6L180.3 89.9L180.5 93.3L177.5 94z" fill="#548d4f" stroke="#548d4f"/>
<path d="M170 77.8L173.4 76.8L173.6 80.7L170.2 81.6z" fill="#949f3d" stroke="#949f3d"/>
<path d="M165 62.5L168.8 61.3L169.1 65.7L165.4 66.8z" fill="#b24327" stroke="#b24327"/>
<path d="M227.6 76.7L229.9 77.7L230.3 81.7L228 80.7z" fill="#634e21" stroke="#634e21"/>
<path d="M230.3 56.9L232.7 58L233.1 62.6L230.6 61.5z" fill="#5c2817" stroke="#5c2817"/>
<path d="M183.4 96.1L186.1 95.5L186.2 98.9L183.5 99.4z" fill="#437e77" stroke="#437e77"/>
<path d="M229.1 69.3L231.4 70.3L231.8 74.6L229.5 73.5z" fill="#68411e" stroke="#68411e"/>
<path d="M224.4 86.8L226.6 87.6L227.1 91.4L224.9 90.6z" fill="#5b6e2f" stroke="#5b6e2f"/>
<path d="M222.7 89.9L224.9 90.6L225.3 94.3L223.1 93.6z" fill="#4c773d" stroke="#4c773d"/>
<path d="M211.3 97.9L213.4 98.3L213.8 102L211.7 101.6z" fill="#437c84" stroke="#437c84"/>
<path d="M217.2 95.4L219.3 96L219.8 99.6L217.6 99.1z" fill="#468468" stroke="#468468"/>
<path d="M174 88L177.2 87.1L177.4 90.6L174.2 91.4z" fill="#5b9144" stroke="#5b9144"/>
<path d="M188.8 98.5L191.3 98.1L191.4 101.6L188.9 102z" fill="#41778d" stroke="#41778d"/>
<path d="M165.4 66.8L169.1 65.7L169.4 69.8L165.7 70.9z" fill="#bf672c" stroke="#bf672c"/>
<path d="M226.2 83.8L228.4 84.7L228.9 88.5L226.6 87.6z" fill="#5d6228" stroke="#5d6228"/>
<path d="M170.2 81.6L173.6 80.7L173.8 84.4L170.5 85.3z" fill="#7c993d" stroke="#7c993d"/>
<path d="M221 92.9L223.1 93.6L223.6 97.2L221.5 96.6z" fill="#467c53" stroke="#467c53"/>
<path d="M230.6 61.5L233.1 62.6L233.5 67.1L231 66z" fill="#5d2a18" stroke="#5d2a18"/>
<path d="M165.7 70.9L169.4 69.8L169.7 73.9L166 75z" fill="#c48e34" stroke="#c48e34"/>
<path d="M213.4 98.3L215.5 98.6L216 102.4L213.8 102z" fill="#41778d" stroke="#41778d"/>
<path d="M177.5 94L180.5 93.3L180.6 96.7L177.7 97.4z" fill="#4b895c" stroke="#4b895c"/>
<path d="M229.5 73.5L231.8 74.6L232.2 78.8L229.9 77.7z" fill="#66461e" stroke="#66461e"/>
<path d="M186.2 98.9L188.8 98.5L188.9 102L186.3 102.4z" fill="#40778e" stroke="#40778e"/>
<path d="M228 80.7L230.3 81.7L230.7 85.7L228.4 84.7z" fill="#5c5724" stroke="#5c5724"/>
<path d="M180.6 96.7L183.4 96.1L183.5 99.4L180.7 100z" fill="#437e77" stroke="#437e77"/>
<path d="M170.5 85.3L173.8 84.4L174 88L170.7 88.9z" fill="#6b9540" stroke="#6b9540"/>
<path d="M174.2 91.4L177.4 90.6L177.5 94L174.4 94.8z" fill="#528d52" stroke="#528d52"/>
<path d="M166 75L169.7 73.9L170 77.8L166.3 78.9z" fill="#bda63b" stroke="#bda63b"/>
<path d="M219.3 96L221.5 96.6L221.9 100.2L219.8 99.6z" fill="#447f66" stroke="#447f66"/>
<path d="M200.8 101L203 101L203.3 104.7L201 104.7z" fill="#41749a" stroke="#41749a"/>
<path d="M198.5 101L200.8 101L201 104.7L198.7 104.7z" fill="#41719e" stroke="#41719e"/>
<path d="M231 66L233.5 67.1L233.9 71.5L231.4 70.3z" fill="#5d2c18" stroke="#5d2c18"/>
<path d="M203 101L205.2 101L205.5 104.8L203.3 104.7z" fill="#41749a" stroke="#41749a"/>
<path d="M196.2 101.2L198.5 101L198.7 104.7L196.4 104.8z" fill="#41709f" stroke="#41709f"/>
<path d="M224.9 90.6L227.1 91.4L227.5 95.1L225.3 94.3z" fill="#4c6d35" stroke="#4c6d35"/>
<path d="M160.2 54.7L164.3 53.4L164.7 58L160.6 59.2z" fill="#9e2a21" stroke="#9e2a21"/>
<path d="M215.5 98.6L217.6 99.1L218.1 102.8L216 102.4z" fill="#41788c" stroke="#41788c"/>
<path d="M205.2 101L207.4 101.2L207.7 105L205.5 104.8z" fill="#41719e" stroke="#41719e"/>
<path d="M232.3 53.2L234.9 54.5L235.2 59.2L232.7 58z" fill="#572216" stroke="#572216"/>
<path d="M226.6 87.6L228.9 88.5L229.3 92.3L227.1 91.4z" fill="#50632d" stroke="#50632d"/>
<path d="M166.3 78.9L170 77.8L170.2 81.6L166.6 82.7z" fill="#aea53d" stroke="#aea53d"/>
<path d="M193.9 101.4L196.2 101.2L196.4 104.8L194 105z" fill="#41739c" stroke="#41739c"/>
<path d="M223.1 93.6L225.3 94.3L225.8 98L223.6 97.2z" fill="#43744a" stroke="#43744a"/>
<path d="M183.5 99.4L186.2 98.9L186.3 102.4L183.7 102.8z" fill="#407591" stroke="#407591"/>
<path d="M170.7 88.9L174 88L174.2 91.4L170.9 92.4z" fill="#5c9143" stroke="#5c9143"/>
<path d="M160.6 59.2L164.7 58L165 62.5L161 63.7z" fill="#a42e23" stroke="#a42e23"/>
<path d="M229.9 77.7L232.2 78.8L232.7 82.8L230.3 81.7z" fill="#614d21" stroke="#614d21"/>
<path d="M207.4 101.2L209.5 101.4L209.9 105.2L207.7 105z" fill="#41709f" stroke="#41709f"/>
<path d="M191.4 101.6L193.9 101.4L194 105L191.6 105.2z" fill="#41739c" stroke="#41739c"/>
<path d="M228.4 84.7L230.7 85.7L231.2 89.5L228.9 88.5z" fill="#535b27" stroke="#535b27"/>
<path d="M231.4 70.3L233.9 71.5L234.3 75.8L231.8 74.6z" fill="#5d3119" stroke="#5d3119"/>
<path d="M161 63.7L165 62.5L165.4 66.8L161.4 68z" fill="#af3b26" stroke="#af3b26"/>
<path d="M177.7 97.4L180.6 96.7L180.7 100L177.8 100.7z" fill="#448172" stroke="#448172"/>
<path d="M174.4 94.8L177.5 94L177.7 97.4L174.6 98.2z" fill="#49895f" stroke="#49895f"/>
<path d="M232.7 58L235.2 59.2L235.6 63.9L233.1 62.6z" fill="#5d2c19" stroke="#5d2c19"/>
<path d="M166.6 82.7L170.2 81.6L170.5 85.3L166.9 86.4z" fill="#919e3d" stroke="#919e3d"/>
<path d="M209.5 101.4L211.7 101.6L212.1 105.5L209.9 105.2z" fill="#41739b" stroke="#41739b"/>
<path d="M221.5 96.6L223.6 97.2L224.1 100.9L221.9 100.2z" fill="#407668" stroke="#407668"/>
<path d="M161.4 68L165.4 66.8L165.7 70.9L161.8 72.2z" fill="#bb5a2a" stroke="#bb5a2a"/>
<path d="M217.6 99.1L219.8 99.6L220.3 103.4L218.1 102.8z" fill="#427a85" stroke="#427a85"/>
<path d="M188.9 102L191.4 101.6L191.6 105.2L189.1 105.5z" fill="#41719e" stroke="#41719e"/>
<path d="M170.9 92.4L174.2 91.4L174.4 94.8L171.1 95.7z" fill="#528d51" stroke="#528d51"/>
<path d="M180.7 100L183.5 99.4L183.7 102.8L180.9 103.4z" fill="#407591" stroke="#407591"/>
<path d="M166.9 86.4L170.5 85.3L170.7 88.9L167.2 89.9z" fill="#79993e" stroke="#79993e"/>
<path d="M161.8 72.2L165.7 70.9L166 75L162.1 76.2z" fill="#c58631" stroke="#c58631"/>
<path d="M230.3 81.7L232.7 82.8L233.1 86.8L230.7 85.7z" fill="#5c5423" stroke="#5c5423"/>
<path d="M233.1 62.6L235.6 63.9L236 68.4L233.5 67.1z" fill="#5d2e19" stroke="#5d2e19"/>
<path d="M211.7 101.6L213.8 102L214.3 105.9L212.1 105.5z" fill="#41739b" stroke="#41739b"/>
<path d="M231.8 74.6L234.3 75.8L234.7 79.9L232.2 78.8z" fill="#5e3719" stroke="#5e3719"/>
<path d="M227.1 91.4L229.3 92.3L229.8 96.1L227.5 95.1z" fill="#436333" stroke="#436333"/>
<path d="M225.3 94.3L227.5 95.1L228.1 98.8L225.8 98z" fill="#416b40" stroke="#416b40"/>
<path d="M186.3 102.4L188.9 102L189.1 105.5L186.5 105.9z" fill="#41709f" stroke="#41709f"/>
<path d="M162.1 76.2L166 75L166.3 78.9L162.5 80.1z" fill="#c1a63b" stroke="#c1a63b"/>
<path d="M228.9 88.5L231.2 89.5L231.7 93.3L229.3 92.3z" fill="#475b2c" stroke="#475b2c"/>
<path d="M174.6 98.2L177.7 97.4L177.8 100.7L174.8 101.4z" fill="#447f76" stroke="#447f76"/>
<path d="M219.8 99.6L221.9 100.2L222.5 104L220.3 103.4z" fill="#407783" stroke="#407783"/>
<path d="M167.2 89.9L170.7 88.9L170.9 92.4L167.4 93.4z" fill="#679441" stroke="#679441"/>
<path d="M213.8 102L216 102.4L216.5 106.3L214.3 105.9z" fill="#41719e" stroke="#41719e"/>
<path d="M233.5 67.1L236 68.4L236.4 72.8L233.9 71.5z" fill="#5e2f1a" stroke="#5e2f1a"/>
<path d="M171.1 95.7L174.4 94.8L174.6 98.2L171.4 99z" fill="#4a895e" stroke="#4a895e"/>
<path d="M223.6 97.2L225.8 98L226.4 101.7L224.1 100.9z" fill="#3d6f5e" stroke="#3d6f5e"/>
<path d="M162.5 80.1L166.3 78.9L166.6 82.7L162.8 83.9z" fill="#b2a63c" stroke="#b2a63c"/>
<path d="M177.8 100.7L180.7 100L180.9 103.4L178 104z" fill="#41778d" stroke="#41778d"/>
<path d="M232.2 78.8L234.7 79.9L235.1 84L232.7 82.8z" fill="#5b3e1b" stroke="#5b3e1b"/>
<path d="M183.7 102.8L186.3 102.4L186.5 105.9L183.8 106.3z" fill="#416fa0" stroke="#416fa0"/>
<path d="M155.7 56L160.2 54.7L160.6 59.2L156.2 60.6z" fill="#a02b22" stroke="#a02b22"/>
<path d="M230.7 85.7L233.1 86.8L233.6 90.6L231.2 89.5z" fill="#545626" stroke="#545626"/>
<path d="M234.9 54.5L237.6 55.8L237.9 60.6L235.2 59.2z" fill="#562316" stroke="#562316"/>
<path d="M162.8 83.9L166.6 82.7L166.9 86.4L163.1 87.5z" fill="#97a03d" stroke="#97a03d"/>
<path d="M156.2 60.6L160.6 59.2L161 63.7L156.7 65.1z" fill="#a93224" stroke="#a93224"/>
<path d="M167.4 93.4L170.9 92.4L171.1 95.7L167.7 96.7z" fill="#589048" stroke="#589048"/>
<path d="M216 102.4L218.1 102.8L218.7 106.8L216.5 106.3z" fill="#41719e" stroke="#41719e"/>
<path d="M233.9 71.5L236.4 72.8L236.8 77.1L234.3 75.8z" fill="#5e311a" stroke="#5e311a"/>
<path d="M156.7 65.1L161 63.7L161.4 68L157.1 69.3z" fill="#b54828" stroke="#b54828"/>
<path d="M198.7 104.7L201 104.7L201.4 108.8L199.1 108.8z" fill="#436bac" stroke="#436bac"/>
<path d="M201 104.7L203.3 104.7L203.7 108.9L201.4 108.8z" fill="#436da9" stroke="#436da9"/>
<path d="M196.4 104.8L198.7 104.7L199.1 108.8L196.7 108.8z" fill="#436aad" stroke="#436aad"/>
<path d="M235.2 59.2L237.9 60.6L238.3 65.3L235.6 63.9z" fill="#5b2c18" stroke="#5b2c18"/>
<path d="M221.9 100.2L224.1 100.9L224.7 104.7L222.5 104z" fill="#3d7083" stroke="#3d7083"/>
<path d="M227.5 95.1L229.8 96.1L230.4 99.8L228.1 98.8z" fill="#3a613f" stroke="#3a613f"/>
<path d="M203.3 104.7L205.5 104.8L205.9 109L203.7 108.9z" fill="#436da9" stroke="#436da9"/>
<path d="M180.9 103.4L183.7 102.8L183.8 106.3L181.1 106.8z" fill="#416fa0" stroke="#416fa0"/>
<path d="M163.1 87.5L166.9 86.4L167.2 89.9L163.5 91.1z" fill="#7c993d" stroke="#7c993d"/>
<path d="M229.3 92.3L231.7 93.3L232.2 97.1L229.8 96.1z" fill="#3d5b32" stroke="#3d5b32"/>
<path d="M171.4 99L174.6 98.2L174.8 101.4L171.6 102.3z" fill="#447f75" stroke="#447f75"/>
<path d="M157.1 69.3L161.4 68L161.8 72.2L157.5 73.5z" fill="#c16f2d" stroke="#c16f2d"/>
<path d="M194 105L196.4 104.8L196.7 108.8L194.3 109z" fill="#436caa" stroke="#436caa"/>
<path d="M232.7 82.8L235.1 84L235.6 88L233.1 86.8z" fill="#55481e" stroke="#55481e"/>
<path d="M174.8 101.4L177.8 100.7L178 104L175 104.7z" fill="#407691" stroke="#407691"/>
<path d="M205.5 104.8L207.7 105L208.2 109.2L205.9 109z" fill="#436aac" stroke="#436aac"/>
<path d="M225.8 98L228.1 98.8L228.7 102.6L226.4 101.7z" fill="#3b6853" stroke="#3b6853"/>
<path d="M191.6 105.2L194 105L194.3 109L191.9 109.2z" fill="#436caa" stroke="#436caa"/>
<path d="M157.5 73.5L161.8 72.2L162.1 76.2L157.9 77.5z" fill="#c39436" stroke="#c39436"/>
<path d="M234.3 75.8L236.8 77.1L237.3 81.2L234.7 79.9z" fill="#5e371a" stroke="#5e371a"/>
<path d="M231.2 89.5L233.6 90.6L234.1 94.4L231.7 93.3z" fill="#4a572a" stroke="#4a572a"/>
<path d="M167.7 96.7L171.1 95.7L171.4 99L168 100z" fill="#4f8b56" stroke="#4f8b56"/>
<path d="M218.1 102.8L220.3 103.4L220.9 107.3L218.7 106.8z" fill="#41739b" stroke="#41739b"/>
<path d="M235.6 63.9L238.3 65.3L238.7 69.8L236 68.4z" fill="#5c2e19" stroke="#5c2e19"/>
<path d="M207.7 105L209.9 105.2L210.4 109.4L208.2 109.2z" fill="#436aad" stroke="#436aad"/>
<path d="M163.5 91.1L167.2 89.9L167.4 93.4L163.8 94.5z" fill="#6a9540" stroke="#6a9540"/>
<path d="M157.9 77.5L162.1 76.2L162.5 80.1L158.3 81.4z" fill="#bba63c" stroke="#bba63c"/>
<path d="M189.1 105.5L191.6 105.2L191.9 109.2L189.4 109.4z" fill="#436aac" stroke="#436aac"/>
<path d="M178 104L180.9 103.4L181.1 106.8L178.2 107.4z" fill="#41719e" stroke="#41719e"/>
<path d="M209.9 105.2L212.1 105.5L212.7 109.8L210.4 109.4z" fill="#436caa" stroke="#436caa"/>
<path d="M158.3 81.4L162.5 80.1L162.8 83.9L158.7 85.2z" fill="#a9a43d" stroke="#a9a43d"/>
<path d="M224.1 100.9L226.4 101.7L227 105.5L224.7 104.7z" fill="#3b6c7a" stroke="#3b6c7a"/>
<path d="M233.1 86.8L235.6 88L236.1 91.9L233.6 90.6z" fill="#4f4f21" stroke="#4f4f21"/>
<path d="M236 68.4L238.7 69.8L239.1 74.2L236.4 72.8z" fill="#5c2f19" stroke="#5c2f19"/>
<path d="M186.5 105.9L189.1 105.5L189.4 109.4L186.8 109.7z" fill="#436aad" stroke="#436aad"/>
<path d="M234.7 79.9L237.3 81.2L237.7 85.3L235.1 84z" fill="#5e3c1b" stroke="#5e3c1b"/>
<path d="M163.8 94.5L167.4 93.4L167.7 96.7L164.1 97.8z" fill="#5a9045" stroke="#5a9045"/>
<path d="M171.6 102.3L174.8 101.4L175 104.7L171.9 105.5z" fill="#40768f" stroke="#40768f"/>
<path d="M220.3 103.4L222.5 104L223.1 108L220.9 107.3z" fill="#417199" stroke="#417199"/>
<path d="M168 100L171.4 99L171.6 102.3L168.3 103.2z" fill="#478667" stroke="#478667"/>
<path d="M158.7 85.2L162.8 83.9L163.1 87.5L159.1 88.8z" fill="#8d9d3d" stroke="#8d9d3d"/>
<path d="M212.1 105.5L214.3 105.9L214.9 110.1L212.7 109.8z" fill="#436daa" stroke="#436daa"/>
<path d="M229.8 96.1L232.2 97.1L232.8 100.8L230.4 99.8z" fill="#365740" stroke="#365740"/>
<path d="M151 57.5L155.7 56L156.2 60.6L151.5 62.1z" fill="#a73024" stroke="#a73024"/>
<path d="M228.1 98.8L230.4 99.8L231 103.5L228.7 102.6z" fill="#355d52" stroke="#355d52"/>
<path d="M231.7 93.3L234.1 94.4L234.6 98.2L232.2 97.1z" fill="#415630" stroke="#415630"/>
<path d="M183.8 106.3L186.5 105.9L186.8 109.7L184.1 110.1z" fill="#436aad" stroke="#436aad"/>
<path d="M237.6 55.8L240.4 57.3L240.8 62.1L237.9 60.6z" fill="#572416" stroke="#572416"/>
<path d="M236.4 72.8L239.1 74.2L239.6 78.5L236.8 77.1z" fill="#5c3419" stroke="#5c3419"/>
<path d="M175 104.7L178 104L178.2 107.4L175.3 108.1z" fill="#4170a0" stroke="#4170a0"/>
<path d="M151.5 62.1L156.2 60.6L156.7 65.1L152 66.5z" fill="#b14127" stroke="#b14127"/>
<path d="M159.1 88.8L163.1 87.5L163.5 91.1L159.5 92.3z" fill="#76983e" stroke="#76983e"/>
<path d="M164.1 97.8L167.7 96.7L168 100L164.4 101z" fill="#508c54" stroke="#508c54"/>
<path d="M152 66.5L156.7 65.1L157.1 69.3L152.5 70.8z" fill="#bd612b" stroke="#bd612b"/>
<path d="M214.3 105.9L216.5 106.3L217.1 110.6L214.9 110.1z" fill="#436aac" stroke="#436aac"/>
<path d="M235.1 84L237.7 85.3L238.2 89.3L235.6 88z" fill="#59451d" stroke="#59451d"/>
<path d="M233.6 90.6L236.1 91.9L236.6 95.7L234.1 94.4z" fill="#435025" stroke="#435025"/>
<path d="M237.9 60.6L240.8 62.1L241.2 66.8L238.3 65.3z" fill="#5e2f1a" stroke="#5e2f1a"/>
<path d="M152.5 70.8L157.1 69.3L157.5 73.5L153 75z" fill="#c58932" stroke="#c58932"/>
<path d="M226.4 101.7L228.7 102.6L229.3 106.4L227 105.5z" fill="#396770" stroke="#396770"/>
<path d="M181.1 106.8L183.8 106.3L184.1 110.1L181.4 110.5z" fill="#436aad" stroke="#436aad"/>
<path d="M159.5 92.3L163.5 91.1L163.8 94.5L159.9 95.7z" fill="#659441" stroke="#659441"/>
<path d="M222.5 104L224.7 104.7L225.4 108.7L223.1 108z" fill="#3f6c98" stroke="#3f6c98"/>
<path d="M236.8 77.1L239.6 78.5L240 82.7L237.3 81.2z" fill="#5d3819" stroke="#5d3819"/>
<path d="M153 75L157.5 73.5L157.9 77.5L153.5 79z" fill="#c1a63b" stroke="#c1a63b"/>
<path d="M168.3 103.2L171.6 102.3L171.9 105.5L168.6 106.4z" fill="#427b84" stroke="#427b84"/>
<path d="M216.5 106.3L218.7 106.8L219.4 111.1L217.1 110.6z" fill="#436bac" stroke="#436bac"/>
<path d="M238.3 65.3L241.2 66.8L241.6 71.3L238.7 69.8z" fill="#5e311a" stroke="#5e311a"/>
<path d="M153.5 79L157.9 77.5L158.3 81.4L153.9 82.9z" fill="#b2a63c" stroke="#b2a63c"/>
<path d="M171.9 105.5L175 104.7L175.3 108.1L172.2 108.8z" fill="#41709f" stroke="#41709f"/>
<path d="M164.4 101L168 100L168.3 103.2L164.8 104.2z" fill="#478764" stroke="#478764"/>
<path d="M159.9 95.7L163.8 94.5L164.1 97.8L160.2 99z" fill="#578f49" stroke="#578f49"/>
<path d="M235.6 88L238.2 89.3L238.7 93.2L236.1 91.9z" fill="#544d20" stroke="#544d20"/>
<path d="M178.2 107.4L181.1 106.8L181.4 110.5L178.6 111.1z" fill="#436aac" stroke="#436aac"/>
<path d="M232.2 97.1L234.6 98.2L235.3 101.9L232.8 100.8z" fill="#39523d" stroke="#39523d"/>
<path d="M153.9 82.9L158.3 81.4L158.7 85.2L154.4 86.6z" fill="#9aa13d" stroke="#9aa13d"/>
<path d="M230.4 99.8L232.8 100.8L233.4 104.6L231 103.5z" fill="#315452" stroke="#315452"/>
<path d="M237.3 81.2L240 82.7L240.5 86.7L237.7 85.3z" fill="#59401c" stroke="#59401c"/>
<path d="M238.7 69.8L241.6 71.3L242 75.7L239.1 74.2z" fill="#5e341a" stroke="#5e341a"/>
<path d="M234.1 94.4L236.6 95.7L237.2 99.4L234.6 98.2z" fill="#385029" stroke="#385029"/>
<path d="M154.4 86.6L158.7 85.2L159.1 88.8L154.8 90.2z" fill="#809a3d" stroke="#809a3d"/>
<path d="M224.7 104.7L227 105.5L227.7 109.5L225.4 108.7z" fill="#3e6a93" stroke="#3e6a93"/>
<path d="M218.7 106.8L220.9 107.3L221.6 111.7L219.4 111.1z" fill="#436caa" stroke="#436caa"/>
<path d="M160.2 99L164.1 97.8L164.4 101L160.7 102.2z" fill="#4e8b57" stroke="#4e8b57"/>
<path d="M228.7 102.6L231 103.5L231.7 107.3L229.3 106.4z" fill="#365f6e" stroke="#365f6e"/>
<path d="M196.7 108.8L199.1 108.8L199.6 113.6L197.3 113.6z" fill="#446ab0" stroke="#446ab0"/>
<path d="M199.1 108.8L201.4 108.8L202 113.6L199.6 113.6z" fill="#446ab0" stroke="#446ab0"/>
<path d="M194.3 109L196.7 108.8L197.3 113.6L194.8 113.7z" fill="#446ab0" stroke="#446ab0"/>
<path d="M201.4 108.8L203.7 108.9L204.3 113.8L202 113.6z" fill="#446bb0" stroke="#446bb0"/>
<path d="M154.8 90.2L159.1 88.8L159.5 92.3L155.3 93.7z" fill="#6e963f" stroke="#6e963f"/>
<path d="M164.8 104.2L168.3 103.2L168.6 106.4L165.2 107.3z" fill="#437d81" stroke="#437d81"/>
<path d="M175.3 108.1L178.2 107.4L178.6 111.1L175.7 111.6z" fill="#436aad" stroke="#436aad"/>
<path d="M191.9 109.2L194.3 109L194.8 113.7L192.4 113.8z" fill="#446ab0" stroke="#446ab0"/>
<path d="M203.7 108.9L205.9 109L206.6 113.9L204.3 113.8z" fill="#446bb0" stroke="#446bb0"/>
<path d="M168.6 106.4L171.9 105.5L172.2 108.8L169 109.6z" fill="#41739b" stroke="#41739b"/>
<path d="M239.1 74.2L242 75.7L242.4 80L239.6 78.5z" fill="#5f381b" stroke="#5f381b"/>
<path d="M145.8 59.2L151 57.5L151.5 62.1L146.4 63.8z" fill="#ad3825" stroke="#ad3825"/>
<path d="M236.1 91.9L238.7 93.2L239.3 97L236.6 95.7z" fill="#4a4f23" stroke="#4a4f23"/>
<path d="M237.7 85.3L240.5 86.7L240.9 90.7L238.2 89.3z" fill="#54481e" stroke="#54481e"/>
<path d="M240.4 57.3L243.5 58.9L243.8 63.8L240.8 62.1z" fill="#541f14" stroke="#541f14"/>
<path d="M189.4 109.4L191.9 109.2L192.4 113.8L189.9 114z" fill="#446ab0" stroke="#446ab0"/>
<path d="M146.4 63.8L151.5 62.1L152 66.5L147 68.2z" fill="#b84f29" stroke="#b84f29"/>
<path d="M205.9 109L208.2 109.2L208.9 114.2L206.6 113.9z" fill="#446ab0" stroke="#446ab0"/>
<path d="M155.3 93.7L159.5 92.3L159.9 95.7L155.7 97z" fill="#5e9242" stroke="#5e9242"/>
<path d="M160.7 102.2L164.4 101L164.8 104.2L161.1 105.3z" fill="#46846a" stroke="#46846a"/>
<path d="M147 68.2L152 66.5L152.5 70.8L147.6 72.5z" fill="#c4792f" stroke="#c4792f"/>
<path d="M220.9 107.3L223.1 108L223.9 112.4L221.6 111.7z" fill="#426ba9" stroke="#426ba9"/>
<path d="M186.8 109.7L189.4 109.4L189.9 114L187.3 114.2z" fill="#446ab0" stroke="#446ab0"/>
<path d="M147.6 72.5L152.5 70.8L153 75L148.1 76.6z" fill="#c39837" stroke="#c39837"/>
<path d="M208.2 109.2L210.4 109.4L211.2 114.5L208.9 114.2z" fill="#446ab0" stroke="#446ab0"/>
<path d="M240.8 62.1L243.8 63.8L244.2 68.4L241.2 66.8z" fill="#542115" stroke="#542115"/>
<path d="M227 105.5L229.3 106.4L230.1 110.4L227.7 109.5z" fill="#3c688d" stroke="#3c688d"/>
<path d="M232.8 100.8L235.3 101.9L235.9 105.7L233.4 104.6z" fill="#324e4d" stroke="#324e4d"/>
<path d="M239.6 78.5L242.4 80L242.9 84.2L240 82.7z" fill="#5e3e1b" stroke="#5e3e1b"/>
<path d="M155.7 97L159.9 95.7L160.2 99L156.2 100.3z" fill="#548e4f" stroke="#548e4f"/>
<path d="M234.6 98.2L237.2 99.4L237.8 103.2L235.3 101.9z" fill="#314c36" stroke="#314c36"/>
<path d="M148.1 76.6L153 75L153.5 79L148.7 80.6z" fill="#baa63c" stroke="#baa63c"/>
<path d="M172.2 108.8L175.3 108.1L175.7 111.6L172.7 112.3z" fill="#436aad" stroke="#436aad"/>
<path d="M184.1 110.1L186.8 109.7L187.3 114.2L184.7 114.5z" fill="#446ab0" stroke="#446ab0"/>
<path d="M210.4 109.4L212.7 109.8L213.5 114.8L211.2 114.5z" fill="#446ab0" stroke="#446ab0"/>
<path d="M148.7 80.6L153.5 79L153.9 82.9L149.2 84.4z" fill="#a9a43d" stroke="#a9a43d"/>
<path d="M231 103.5L233.4 104.6L234.2 108.4L231.7 107.3z" fill="#33576d" stroke="#33576d"/>
<path d="M238.2 89.3L240.9 90.7L241.5 94.6L238.7 93.2z" fill="#4d4c21" stroke="#4d4c21"/>
<path d="M241.2 66.8L244.2 68.4L244.6 73L241.6 71.3z" fill="#552215" stroke="#552215"/>
<path d="M165.2 107.3L168.6 106.4L169 109.6L165.7 110.5z" fill="#41749a" stroke="#41749a"/>
<path d="M236.6 95.7L239.3 97L239.8 100.8L237.2 99.4z" fill="#3f4e27" stroke="#3f4e27"/>
<path d="M149.2 84.4L153.9 82.9L154.4 86.6L149.7 88.1z" fill="#8e9e3d" stroke="#8e9e3d"/>
<path d="M156.2 100.3L160.2 99L160.7 102.2L156.7 103.4z" fill="#4b8a5c" stroke="#4b8a5c"/>
<path d="M161.1 105.3L164.8 104.2L165.2 107.3L161.6 108.4z" fill="#427a86" stroke="#427a86"/>
<path d="M223.1 108L225.4 108.7L226.3 113.1L223.9 112.4z" fill="#4269a9" stroke="#4269a9"/>
<path d="M240 82.7L242.9 84.2L243.3 88.3L240.5 86.7z" fill="#59451d" stroke="#59451d"/>
<path d="M181.4 110.5L184.1 110.1L184.7 114.5L182.1 114.9z" fill="#446ab0" stroke="#446ab0"/>
<path d="M212.7 109.8L214.9 110.1L215.7 115.2L213.5 114.8z" fill="#446ab0" stroke="#446ab0"/>
<path d="M149.7 88.1L154.4 86.6L154.8 90.2L150.3 91.7z" fill="#79993e" stroke="#79993e"/>
<path d="M241.6 71.3L244.6 73L245 77.4L242 75.7z" fill="#552415" stroke="#552415"/>
<path d="M169 109.6L172.2 108.8L172.7 112.3L169.6 113z" fill="#436caa" stroke="#436caa"/>
<path d="M150.3 91.7L154.8 90.2L155.3 93.7L150.8 95.2z" fill="#689440" stroke="#689440"/>
<path d="M229.3 106.4L231.7 107.3L232.5 111.4L230.1 110.4z" fill="#3b628c" stroke="#3b628c"/>
<path d="M156.7 103.4L160.7 102.2L161.1 105.3L157.2 106.5z" fill="#458172" stroke="#458172"/>
<path d="M238.7 93.2L241.5 94.6L242 98.5L239.3 97z" fill="#434d24" stroke="#434d24"/>
<path d="M178.6 111.1L181.4 110.5L182.1 114.9L179.3 115.3z" fill="#446ab0" stroke="#446ab0"/>
<path d="M214.9 110.1L217.1 110.6L218 115.7L215.7 115.2z" fill="#446ab0" stroke="#446ab0"/>
<path d="M150.8 95.2L155.3 93.7L155.7 97L151.3 98.5z" fill="#5a9045" stroke="#5a9045"/>
<path d="M240.5 86.7L243.3 88.3L243.8 92.3L240.9 90.7z" fill="#554c20" stroke="#554c20"/>
<path d="M235.3 101.9L237.8 103.2L238.5 106.9L235.9 105.7z" fill="#2c4a46" stroke="#2c4a46"/>
<path d="M242 75.7L245 77.4L245.5 81.7L242.4 80z" fill="#552a15" stroke="#552a15"/>
<path d="M225.4 108.7L227.7 109.5L228.6 113.9L226.3 113.1z" fill="#4168a7" stroke="#4168a7"/>
<path d="M161.6 108.4L165.2 107.3L165.7 110.5L162.2 111.5z" fill="#41739c" stroke="#41739c"/>
<path d="M233.4 104.6L235.9 105.7L236.7 109.5L234.2 108.4z" fill="#335268" stroke="#335268"/>
<path d="M237.2 99.4L239.8 100.8L240.5 104.5L237.8 103.2z" fill="#354b30" stroke="#354b30"/>
<path d="M140.3 61L145.8 59.2L146.4 63.8L141 65.6z" fill="#aa3225" stroke="#aa3225"/>
<path d="M151.3 98.5L155.7 97L156.2 100.3L151.9 101.7z" fill="#518c53" stroke="#518c53"/>
<path d="M243.5 58.9L246.7 60.7L247.1 65.6L243.8 63.8z" fill="#572416" stroke="#572416"/>
<path d="M141 65.6L146.4 63.8L147 68.2L141.6 70z" fill="#b54928" stroke="#b54928"/>
<path d="M175.7 111.6L178.6 111.1L179.3 115.3L176.5 115.8z" fill="#446ab0" stroke="#446ab0"/>
<path d="M217.1 110.6L219.4 111.1L220.3 116.3L218 115.7z" fill="#446ab0" stroke="#446ab0"/>
<path d="M141.6 70L147 68.2L147.6 72.5L142.3 74.2z" fill="#c16e2d" stroke="#c16e2d"/>
<path d="M157.2 106.5L161.1 105.3L161.6 108.4L157.8 109.5z" fill="#41778d" stroke="#41778d"/>
<path d="M165.7 110.5L169 109.6L169.6 113L166.4 113.8z" fill="#436da9" stroke="#436da9"/>
<path d="M142.3 74.2L147.6 72.5L148.1 76.6L142.9 78.3z" fill="#c49135" stroke="#c49135"/>
<path d="M242.4 80L245.5 81.7L245.9 85.9L242.9 84.2z" fill="#553016" stroke="#553016"/>
<path d="M240.9 90.7L243.8 92.3L244.3 96.2L241.5 94.6z" fill="#4d4e22" stroke="#4d4e22"/>
<path d="M151.9 101.7L156.2 100.3L156.7 103.4L152.5 104.8z" fill="#49895f" stroke="#49895f"/>
<path d="M142.9 78.3L148.1 76.6L148.7 80.6L143.5 82.3z" fill="#bda63b" stroke="#bda63b"/>
<path d="M243.8 63.8L247.1 65.6L247.5 70.2L244.2 68.4z" fill="#5d2f1a" stroke="#5d2f1a"/>
<path d="M239.3 97L242 98.5L242.6 102.2L239.8 100.8z" fill="#394c28" stroke="#394c28"/>
<path d="M231.7 107.3L234.2 108.4L235 112.4L232.5 111.4z" fill="#395c8c" stroke="#395c8c"/>
<path d="M143.5 82.3L148.7 80.6L149.2 84.4L144.1 86.1z" fill="#afa63d" stroke="#afa63d"/>
<path d="M172.7 112.3L175.7 111.6L176.5 115.8L173.6 116.3z" fill="#446ab0" stroke="#446ab0"/>
<path d="M144.1 86.1L149.2 84.4L149.7 88.1L144.8 89.8z" fill="#949f3d" stroke="#949f3d"/>
<path d="M219.4 111.1L221.6 111.7L222.7 116.9L220.3 116.3z" fill="#446ab0" stroke="#446ab0"/>
<path d="M227.7 109.5L230.1 110.4L231 114.8L228.6 113.9z" fill="#4167a4" stroke="#4167a4"/>
<path d="M244.2 68.4L247.5 70.2L247.8 74.8L244.6 73z" fill="#5e311a" stroke="#5e311a"/>
<path d="M242.9 84.2L245.9 85.9L246.4 90L243.3 88.3z" fill="#503918" stroke="#503918"/>
<path d="M152.5 104.8L156.7 103.4L157.2 106.5L153.1 107.8z" fill="#437e78" stroke="#437e78"/>
<path d="M144.8 89.8L149.7 88.1L150.3 91.7L145.4 93.4z" fill="#7c993d" stroke="#7c993d"/>
<path d="M157.8 109.5L161.6 108.4L162.2 111.5L158.5 112.5z" fill="#41719e" stroke="#41719e"/>
<path d="M145.4 93.4L150.3 91.7L150.8 95.2L146 96.8z" fill="#6b9540" stroke="#6b9540"/>
<path d="M162.2 111.5L165.7 110.5L166.4 113.8L163 114.7z" fill="#436caa" stroke="#436caa"/>
<path d="M237.8 103.2L240.5 104.5L241.2 108.3L238.5 106.9z" fill="#2e483f" stroke="#2e483f"/>
<path d="M241.5 94.6L244.3 96.2L244.9 100L242 98.5z" fill="#444e25" stroke="#444e25"/>
<path d="M235.9 105.7L238.5 106.9L239.3 110.8L236.7 109.5z" fill="#2f5061" stroke="#2f5061"/>
<path d="M244.6 73L247.8 74.8L248.3 79.2L245 77.4z" fill="#5e331a" stroke="#5e331a"/>
<path d="M146 96.8L150.8 95.2L151.3 98.5L146.6 100.1z" fill="#5b9143" stroke="#5b9143"/>
<path d="M169.6 113L172.7 112.3L173.6 116.3L170.6 117z" fill="#446ab0" stroke="#446ab0"/>
<path d="M221.6 111.7L223.9 112.4L225 117.6L222.7 116.9z" fill="#446aaf" stroke="#446aaf"/>
<path d="M239.8 100.8L242.6 102.2L243.3 106L240.5 104.5z" fill="#314734" stroke="#314734"/>
<path d="M153.1 107.8L157.2 106.5L157.8 109.5L153.8 110.7z" fill="#407592" stroke="#407592"/>
<path d="M243.3 88.3L246.4 90L246.9 94L243.8 92.3z" fill="#4a431b" stroke="#4a431b"/>
<path d="M146.6 100.1L151.3 98.5L151.9 101.7L147.3 103.2z" fill="#528d51" stroke="#528d51"/>
<path d="M234.2 108.4L236.7 109.5L237.6 113.6L235 112.4z" fill="#38598a" stroke="#38598a"/>
<path d="M245 77.4L248.3 79.2L248.7 83.6L245.5 81.7z" fill="#5f371a" stroke="#5f371a"/>
<path d="M230.1 110.4L232.5 111.4L233.5 115.8L231 114.8z" fill="#4065a3" stroke="#4065a3"/>
<path d="M147.3 103.2L151.9 101.7L152.5 104.8L148 106.3z" fill="#4a895e" stroke="#4a895e"/>
<path d="M194.8 113.7L197.3 113.6L198.5 120.1L196.1 120.1z" fill="#456ab1" stroke="#456ab1"/>
<path d="M197.3 113.6L199.6 113.6L200.9 120.2L198.5 120.1z" fill="#456ab1" stroke="#456ab1"/>
<path d="M192.4 113.8L194.8 113.7L196.1 120.1L193.6 120.1z" fill="#456ab1" stroke="#456ab1"/>
<path d="M242 98.5L244.9 100L245.5 103.8L242.6 102.2z" fill="#3b4c2a" stroke="#3b4c2a"/>
<path d="M166.4 113.8L169.6 113L170.6 117L167.5 117.6z" fill="#446bb0" stroke="#446bb0"/>
<path d="M199.6 113.6L202 113.6L203.2 120.4L200.9 120.2z" fill="#456ab1" stroke="#456ab1"/>
<path d="M189.9 114L192.4 113.8L193.6 120.1L191.2 120.2z" fill="#456ab1" stroke="#456ab1"/>
<path d="M158.5 112.5L162.2 111.5L163 114.7L159.5 115.7z" fill="#436aac" stroke="#436aac"/>
<path d="M246.7 60.7L250.2 62.7L250.5 67.5L247.1 65.6z" fill="#582616" stroke="#582616"/>
<path d="M223.9 112.4L226.3 113.1L227.4 118.3L225 117.6z" fill="#446aaf" stroke="#446aaf"/>
<path d="M243.8 92.3L246.9 94L247.4 97.9L244.3 96.2z" fill="#41471f" stroke="#41471f"/>
<path d="M202 113.6L204.3 113.8L205.6 120.6L203.2 120.4z" fill="#456ab1" stroke="#456ab1"/>
<path d="M153.8 110.7L157.8 109.5L158.5 112.5L154.7 113.7z" fill="#416fa0" stroke="#416fa0"/>
<path d="M245.5 81.7L248.7 83.6L249.1 87.8L245.9 85.9z" fill="#5f3c1b" stroke="#5f3c1b"/>
<path d="M187.3 114.2L189.9 114L191.2 120.2L188.7 120.3z" fill="#456ab1" stroke="#456ab1"/>
<path d="M148 106.3L152.5 104.8L153.1 107.8L148.8 109.2z" fill="#447f75" stroke="#447f75"/>
<path d="M204.3 113.8L206.6 113.9L207.9 120.8L205.6 120.6z" fill="#456ab1" stroke="#456ab1"/>
<path d="M184.7 114.5L187.3 114.2L188.7 120.3L186.1 120.5z" fill="#456ab1" stroke="#456ab1"/>
<path d="M247.1 65.6L250.5 67.5L250.9 72.2L247.5 70.2z" fill="#60331b" stroke="#60331b"/>
<path d="M238.5 106.9L241.2 108.3L242 112.1L239.3 110.8z" fill="#2f4f5b" stroke="#2f4f5b"/>
<path d="M240.5 104.5L243.3 106L244 109.7L241.2 108.3z" fill="#2b4442" stroke="#2b4442"/>
<path d="M206.6 113.9L208.9 114.2L210.2 121.1L207.9 120.8z" fill="#456ab1" stroke="#456ab1"/>
<path d="M245.9 85.9L249.1 87.8L249.6 91.9L246.4 90z" fill="#5a441d" stroke="#5a441d"/>
<path d="M182.1 114.9L184.7 114.5L186.1 120.5L183.5 120.8z" fill="#456ab1" stroke="#456ab1"/>
<path d="M232.5 111.4L235 112.4L236 116.8L233.5 115.8z" fill="#4063a2" stroke="#4063a2"/>
<path d="M148.8 109.2L153.1 107.8L153.8 110.7L149.7 112.1z" fill="#40768f" stroke="#40768f"/>
<path d="M163 114.7L166.4 113.8L167.5 117.6L164.3 118.4z" fill="#446ab0" stroke="#446ab0"/>
<path d="M247.5 70.2L250.9 72.2L251.3 76.8L247.8 74.8z" fill="#61361c" stroke="#61361c"/>
<path d="M244.3 96.2L247.4 97.9L248 101.8L244.9 100z" fill="#354723" stroke="#354723"/>
<path d="M236.7 109.5L239.3 110.8L240.2 114.8L237.6 113.6z" fill="#375884" stroke="#375884"/>
<path d="M208.9 114.2L211.2 114.5L212.6 121.5L210.2 121.1z" fill="#456ab1" stroke="#456ab1"/>
<path d="M226.3 113.1L228.6 113.9L229.8 119.2L227.4 118.3z" fill="#446aaf" stroke="#446aaf"/>
<path d="M242.6 102.2L245.5 103.8L246.2 107.6L243.3 106z" fill="#334635" stroke="#334635"/>
<path d="M179.3 115.3L182.1 114.9L183.5 120.8L180.9 121.1z" fill="#456ab1" stroke="#456ab1"/>
<path d="M154.7 113.7L158.5 112.5L159.5 115.7L155.8 116.7z" fill="#436aad" stroke="#436aad"/>
<path d="M211.2 114.5L213.5 114.8L214.9 121.9L212.6 121.5z" fill="#456ab1" stroke="#456ab1"/>
<path d="M247.8 74.8L251.3 76.8L251.7 81.2L248.3 79.2z" fill="#61381c" stroke="#61381c"/>
<path d="M246.4 90L249.6 91.9L250.1 95.9L246.9 94z" fill="#564b1f" stroke="#564b1f"/>
<path d="M149.7 112.1L153.8 110.7L154.7 113.7L150.7 114.9z" fill="#41709f" stroke="#41709f"/>
<path d="M176.5 115.8L179.3 115.3L180.9 121.1L178.2 121.4z" fill="#456ab1" stroke="#456ab1"/>
<path d="M213.5 114.8L215.7 115.2L217.2 122.3L214.9 121.9z" fill="#456ab1" stroke="#456ab1"/>
<path d="M159.5 115.7L163 114.7L164.3 118.4L161 119.2z" fill="#446ab0" stroke="#446ab0"/>
<path d="M244.9 100L248 101.8L248.6 105.5L245.5 103.8z" fill="#2b4628" stroke="#2b4628"/>
<path d="M248.3 79.2L251.7 81.2L252.1 85.6L248.7 83.6z" fill="#623c1c" stroke="#623c1c"/>
<path d="M228.6 113.9L231 114.8L232.3 120.1L229.8 119.2z" fill="#4469ae" stroke="#4469ae"/>
<path d="M235 112.4L237.6 113.6L238.6 118L236 116.8z" fill="#3f61a0" stroke="#3f61a0"/>
<path d="M173.6 116.3L176.5 115.8L178.2 121.4L175.4 121.8z" fill="#456ab1" stroke="#456ab1"/>
<path d="M241.2 108.3L244 109.7L244.8 113.6L242 112.1z" fill="#2e4a5c" stroke="#2e4a5c"/>
<path d="M246.9 94L250.1 95.9L250.6 99.8L247.4 97.9z" fill="#4e4e22" stroke="#4e4e22"/>
<path d="M243.3 106L246.2 107.6L246.9 111.3L244 109.7z" fill="#2c4342" stroke="#2c4342"/>
<path d="M215.7 115.2L218 115.7L219.6 122.8L217.2 122.3z" fill="#456ab1" stroke="#456ab1"/>
<path d="M239.3 110.8L242 112.1L242.9 116.2L240.2 114.8z" fill="#365780" stroke="#365780"/>
<path d="M248.7 83.6L252.1 85.6L252.6 89.8L249.1 87.8z" fill="#61411d" stroke="#61411d"/>
<path d="M150.7 114.9L154.7 113.7L155.8 116.7L152 117.9z" fill="#436aad" stroke="#436aad"/>
<path d="M250.2 62.7L253.9 64.8L254.3 69.7L250.5 67.5z" fill="#562316" stroke="#562316"/>
<path d="M170.6 117L173.6 116.3L175.4 121.8L172.6 122.3z" fill="#456ab1" stroke="#456ab1"/>
<path d="M155.8 116.7L159.5 115.7L161 119.2L157.5 120.1z" fill="#446ab0" stroke="#446ab0"/>
<path d="M245.5 103.8L248.6 105.5L249.2 109.3L246.2 107.6z" fill="#274234" stroke="#274234"/>
<path d="M250.5 67.5L254.3 69.7L254.6 74.4L250.9 72.2z" fill="#5c2c19" stroke="#5c2c19"/>
<path d="M218 115.7L220.3 116.3L221.9 123.4L219.6 122.8z" fill="#456ab1" stroke="#456ab1"/>
<path d="M247.4 97.9L250.6 99.8L251.2 103.6L248 101.8z" fill="#454e25" stroke="#454e25"/>
<path d="M231 114.8L233.5 115.8L234.8 121L232.3 120.1z" fill="#4469ae" stroke="#4469ae"/>
<path d="M249.1 87.8L252.6 89.8L253 93.9L249.6 91.9z" fill="#5d481f" stroke="#5d481f"/>
<path d="M167.5 117.6L170.6 117L172.6 122.3L169.7 122.8z" fill="#456ab1" stroke="#456ab1"/>
<path d="M237.6 113.6L240.2 114.8L241.3 119.2L238.6 118z" fill="#3f619f" stroke="#3f619f"/>
<path d="M250.9 72.2L254.6 74.4L255 79L251.3 76.8z" fill="#5c2e19" stroke="#5c2e19"/>
<path d="M220.3 116.3L222.7 116.9L224.3 124.1L221.9 123.4z" fill="#456ab1" stroke="#456ab1"/>
<path d="M249.6 91.9L253 93.9L253.5 97.9L250.1 95.9z" fill="#594e21" stroke="#594e21"/>
<path d="M244 109.7L246.9 111.3L247.8 115.2L244.8 113.6z" fill="#2e485c" stroke="#2e485c"/>
<path d="M251.3 76.8L255 79L255.4 83.4L251.7 81.2z" fill="#5c3019" stroke="#5c3019"/>
<path d="M248 101.8L251.2 103.6L251.8 107.4L248.6 105.5z" fill="#3c4c29" stroke="#3c4c29"/>
<path d="M164.3 118.4L167.5 117.6L169.7 122.8L166.7 123.4z" fill="#456ab1" stroke="#456ab1"/>
<path d="M242 112.1L244.8 113.6L245.8 117.6L242.9 116.2z" fill="#355481" stroke="#355481"/>
<path d="M152 117.9L155.8 116.7L157.5 120.1L153.9 121.1z" fill="#446ab0" stroke="#446ab0"/>
<path d="M233.5 115.8L236 116.8L237.4 122.1L234.8 121z" fill="#4468ad" stroke="#4468ad"/>
<path d="M246.2 107.6L249.2 109.3L250 113L246.9 111.3z" fill="#244042" stroke="#244042"/>
<path d="M251.7 81.2L255.4 83.4L255.8 87.8L252.1 85.6z" fill="#5d3419" stroke="#5d3419"/>
<path d="M222.7 116.9L225 117.6L226.7 124.8L224.3 124.1z" fill="#456ab1" stroke="#456ab1"/>
<path d="M250.1 95.9L253.5 97.9L254 101.8L250.6 99.8z" fill="#514f23" stroke="#514f23"/>
<path d="M161 119.2L164.3 118.4L166.7 123.4L163.7 124z" fill="#456ab1" stroke="#456ab1"/>
<path d="M240.2 114.8L242.9 116.2L244.1 120.6L241.3 119.2z" fill="#3e609d" stroke="#3e609d"/>
<path d="M252.1 85.6L255.8 87.8L256.2 92L252.6 89.8z" fill="#5d391a" stroke="#5d391a"/>
<path d="M248.6 105.5L251.8 107.4L252.5 111.1L249.2 109.3z" fill="#334734" stroke="#334734"/>
<path d="M225 117.6L227.4 118.3L229.1 125.5L226.7 124.8z" fill="#456ab1" stroke="#456ab1"/>
<path d="M250.6 99.8L254 101.8L254.6 105.6L251.2 103.6z" fill="#494f26" stroke="#494f26"/>
<path d="M253.9 64.8L257.9 67.2L258.3 72L254.3 69.7z" fill="#551f15" stroke="#551f15"/>
<path d="M236 116.8L238.6 118L240 123.2L237.4 122.1z" fill="#4468ad" stroke="#4468ad"/>
<path d="M252.6 89.8L256.2 92L256.7 96.1L253 93.9z" fill="#58411c" stroke="#58411c"/>
<path d="M157.5 120.1L161 119.2L163.7 124L160.5 124.7z" fill="#456ab1" stroke="#456ab1"/>
<path d="M254.3 69.7L258.3 72L258.6 76.8L254.6 74.4z" fill="#572516" stroke="#572516"/>
<path d="M246.9 111.3L250 113L250.8 116.9L247.8 115.2z" fill="#2a485c" stroke="#2a485c"/>
<path d="M244.8 113.6L247.8 115.2L248.7 119.2L245.8 117.6z" fill="#345282" stroke="#345282"/>
<path d="M254.6 74.4L258.6 76.8L259 81.3L255 79z" fill="#582617" stroke="#582617"/>
<path d="M227.4 118.3L229.8 119.2L231.6 126.4L229.1 125.5z" fill="#456ab1" stroke="#456ab1"/>
<path d="M253 93.9L256.7 96.1L257.1 100.1L253.5 97.9z" fill="#53491e" stroke="#53491e"/>
<path d="M251.2 103.6L254.6 105.6L255.2 109.4L251.8 107.4z" fill="#404d2b" stroke="#404d2b"/>
<path d="M249.2 109.3L252.5 111.1L253.2 114.9L250 113z" fill="#2c4341" stroke="#2c4341"/>
<path d="M242.9 116.2L245.8 117.6L246.9 122L244.1 120.6z" fill="#3e5f9c" stroke="#3e5f9c"/>
<path d="M153.9 121.1L157.5 120.1L160.5 124.7L157.3 125.5z" fill="#456ab1" stroke="#456ab1"/>
<path d="M255 79L259 81.3L259.3 85.8L255.4 83.4z" fill="#582717" stroke="#582717"/>
<path d="M238.6 118L241.3 119.2L242.7 124.5L240 123.2z" fill="#4468ac" stroke="#4468ac"/>
<path d="M253.5 97.9L257.1 100.1L257.6 104L254 101.8z" fill="#4c4c21" stroke="#4c4c21"/>
<path d="M255.4 83.4L259.3 85.8L259.7 90.1L255.8 87.8z" fill="#582a17" stroke="#582a17"/>
<path d="M229.8 119.2L232.3 120.1L234.1 127.3L231.6 126.4z" fill="#456ab1" stroke="#456ab1"/>
<path d="M251.8 107.4L255.2 109.4L255.8 113.2L252.5 111.1z" fill="#374835" stroke="#374835"/>
<path d="M247.8 115.2L250.8 116.9L251.8 120.9L248.7 119.2z" fill="#345280" stroke="#345280"/>
<path d="M255.8 87.8L259.7 90.1L260.1 94.4L256.2 92z" fill="#582f17" stroke="#582f17"/>
<path d="M254 101.8L257.6 104L258.2 107.8L254.6 105.6z" fill="#424c24" stroke="#424c24"/>
<path d="M250 113L253.2 114.9L254 118.7L250.8 116.9z" fill="#2e495b" stroke="#2e495b"/>
<path d="M245.8 117.6L248.7 119.2L249.9 123.6L246.9 122z" fill="#3e5e9c" stroke="#3e5e9c"/>
<path d="M232.3 120.1L234.8 121L236.6 128.2L234.1 127.3z" fill="#456ab1" stroke="#456ab1"/>
<path d="M256.2 92L260.1 94.4L260.5 98.5L256.7 96.1z" fill="#573618" stroke="#573618"/>
<path d="M241.3 119.2L244.1 120.6L245.5 125.8L242.7 124.5z" fill="#4467ac" stroke="#4467ac"/>
<path d="M257.9 67.2L262.3 69.8L262.6 74.6L258.3 72z" fill="#562215" stroke="#562215"/>
<path d="M252.5 111.1L255.8 113.2L256.6 116.9L253.2 114.9z" fill="#2e4442" stroke="#2e4442"/>
<path d="M254.6 105.6L258.2 107.8L258.8 111.6L255.2 109.4z" fill="#384b29" stroke="#384b29"/>
<path d="M258.3 72L262.6 74.6L262.9 79.3L258.6 76.8z" fill="#5c2c19" stroke="#5c2c19"/>
<path d="M191.2 120.2L193.6 120.1L197.9 132.6L195.6 132.5z" fill="#4669b2" stroke="#4669b2"/>
<path d="M188.7 120.3L191.2 120.2L195.6 132.5L193.2 132.4z" fill="#4669b2" stroke="#4669b2"/>
<path d="M193.6 120.1L196.1 120.1L200.2 132.8L197.9 132.6z" fill="#4669b2" stroke="#4669b2"/>
<path d="M186.1 120.5L188.7 120.3L193.2 132.4L190.9 132.4z" fill="#4669b2" stroke="#4669b2"/>
<path d="M256.7 96.1L260.5 98.5L261 102.5L257.1 100.1z" fill="#513f1b" stroke="#513f1b"/>
<path d="M196.1 120.1L198.5 120.1L202.5 132.9L200.2 132.8z" fill="#4669b2" stroke="#4669b2"/>
<path d="M183.5 120.8L186.1 120.5L190.9 132.4L188.5 132.4z" fill="#4669b2" stroke="#4669b2"/>
<path d="M198.5 120.1L200.9 120.2L204.8 133.2L202.5 132.9z" fill="#4669b2" stroke="#4669b2"/>
<path d="M180.9 121.1L183.5 120.8L188.5 132.4L186.1 132.4z" fill="#4669b2" stroke="#4669b2"/>
<path d="M258.6 76.8L262.9 79.3L263.2 83.9L259 81.3z" fill="#5d2e19" stroke="#5d2e19"/>
<path d="M200.9 120.2L203.2 120.4L207.1 133.5L204.8 133.2z" fill="#4669b2" stroke="#4669b2"/>
<path d="M178.2 121.4L180.9 121.1L186.1 132.4L183.7 132.5z" fill="#4669b2" stroke="#4669b2"/>
<path d="M234.8 121L237.4 122.1L239.2 129.3L236.6 128.2z" fill="#4669b1" stroke="#4669b1"/>
<path d="M203.2 120.4L205.6 120.6L209.3 133.8L207.1 133.5z" fill="#4669b2" stroke="#4669b2"/>
<path d="M175.4 121.8L178.2 121.4L183.7 132.5L181.2 132.6z" fill="#4669b2" stroke="#4669b2"/>
<path d="M259 81.3L263.2 83.9L263.6 88.4L259.3 85.8z" fill="#5d2f19" stroke="#5d2f19"/>
<path d="M257.1 100.1L261 102.5L261.5 106.4L257.6 104z" fill="#4c481d" stroke="#4c481d"/>
<path d="M250.8 116.9L254 118.7L255 122.7L251.8 120.9z" fill="#355281" stroke="#355281"/>
<path d="M255.2 109.4L258.8 111.6L259.4 115.3L255.8 113.2z" fill="#314634" stroke="#314634"/>
<path d="M205.6 120.6L207.9 120.8L211.6 134.1L209.3 133.8z" fill="#4669b2" stroke="#4669b2"/>
<path d="M244.1 120.6L246.9 122L248.3 127.2L245.5 125.8z" fill="#4467ac" stroke="#4467ac"/>
<path d="M172.6 122.3L175.4 121.8L181.2 132.6L178.8 132.8z" fill="#4669b2" stroke="#4669b2"/>
<path d="M253.2 114.9L256.6 116.9L257.4 120.7L254 118.7z" fill="#2f495d" stroke="#2f495d"/>
<path d="M248.7 119.2L251.8 120.9L252.9 125.2L249.9 123.6z" fill="#3e5f9c" stroke="#3e5f9c"/>
<path d="M259.3 85.8L263.6 88.4L263.9 92.7L259.7 90.1z" fill="#5d301a" stroke="#5d301a"/>
<path d="M207.9 120.8L210.2 121.1L213.9 134.5L211.6 134.1z" fill="#4669b2" stroke="#4669b2"/>
<path d="M169.7 122.8L172.6 122.3L178.8 132.8L176.3 133z" fill="#4669b2" stroke="#4669b2"/>
<path d="M257.6 104L261.5 106.4L262 110.2L258.2 107.8z" fill="#414821" stroke="#414821"/>
<path d="M259.7 90.1L263.9 92.7L264.3 97L260.1 94.4z" fill="#5d341a" stroke="#5d341a"/>
<path d="M237.4 122.1L240 123.2L241.9 130.4L239.2 129.3z" fill="#4669b1" stroke="#4669b1"/>
<path d="M210.2 121.1L212.6 121.5L216.2 135L213.9 134.5z" fill="#4669b2" stroke="#4669b2"/>
<path d="M166.7 123.4L169.7 122.8L176.3 133L173.7 133.3z" fill="#4669b2" stroke="#4669b2"/>
<path d="M255.8 113.2L259.4 115.3L260.1 119.1L256.6 116.9z" fill="#2b4342" stroke="#2b4342"/>
<path d="M212.6 121.5L214.9 121.9L218.5 135.4L216.2 135z" fill="#4669b2" stroke="#4669b2"/>
<path d="M163.7 124L166.7 123.4L173.7 133.3L171.1 133.5z" fill="#4669b2" stroke="#4669b2"/>
<path d="M260.1 94.4L264.3 97L264.7 101.1L260.5 98.5z" fill="#5d391a" stroke="#5d391a"/>
<path d="M258.2 107.8L262 110.2L262.6 114L258.8 111.6z" fill="#354825" stroke="#354825"/>
<path d="M246.9 122L249.9 123.6L251.3 128.7L248.3 127.2z" fill="#4467ac" stroke="#4467ac"/>
<path d="M262.3 69.8L266.9 72.6L267.2 77.4L262.6 74.6z" fill="#562216" stroke="#562216"/>
<path d="M214.9 121.9L217.2 122.3L220.8 136L218.5 135.4z" fill="#4669b2" stroke="#4669b2"/>
<path d="M160.5 124.7L163.7 124L171.1 133.5L168.5 133.9z" fill="#4669b2" stroke="#4669b2"/>
<path d="M260.5 98.5L264.7 101.1L265.1 105.1L261 102.5z" fill="#59401c" stroke="#59401c"/>
<path d="M254 118.7L257.4 120.7L258.4 124.7L255 122.7z" fill="#355384" stroke="#355384"/>
<path d="M240 123.2L242.7 124.5L244.6 131.6L241.9 130.4z" fill="#4669b1" stroke="#4669b1"/>
<path d="M262.6 74.6L267.2 77.4L267.5 82.2L262.9 79.3z" fill="#5d2d19" stroke="#5d2d19"/>
<path d="M251.8 120.9L255 122.7L256.1 127L252.9 125.2z" fill="#3e5f9d" stroke="#3e5f9d"/>
<path d="M217.2 122.3L219.6 122.8L223.1 136.5L220.8 136z" fill="#4669b2" stroke="#4669b2"/>
<path d="M157.3 125.5L160.5 124.7L168.5 133.9L165.8 134.2z" fill="#4669b2" stroke="#4669b2"/>
<path d="M258.8 111.6L262.6 114L263.2 117.7L259.4 115.3z" fill="#2d452f" stroke="#2d452f"/>
<path d="M256.6 116.9L260.1 119.1L261 122.8L257.4 120.7z" fill="#2f4b5f" stroke="#2f4b5f"/>
<path d="M262.9 79.3L267.5 82.2L267.8 86.8L263.2 83.9z" fill="#5d2f1a" stroke="#5d2f1a"/>
<path d="M261 102.5L265.1 105.1L265.6 109L261.5 106.4z" fill="#54481e" stroke="#54481e"/>
<path d="M263.2 83.9L267.8 86.8L268.1 91.2L263.6 88.4z" fill="#5d301a" stroke="#5d301a"/>
<path d="M219.6 122.8L221.9 123.4L225.4 137.1L223.1 136.5z" fill="#4669b2" stroke="#4669b2"/>
<path d="M261.5 106.4L265.6 109L266.1 112.8L262 110.2z" fill="#4c4b21" stroke="#4c4b21"/>
<path d="M263.6 88.4L268.1 91.2L268.4 95.6L263.9 92.7z" fill="#5d321a" stroke="#5d321a"/>
<path d="M249.9 123.6L252.9 125.2L254.3 130.3L251.3 128.7z" fill="#4467ac" stroke="#4467ac"/>
<path d="M242.7 124.5L245.5 125.8L247.3 132.9L244.6 131.6z" fill="#4669b1" stroke="#4669b1"/>
<path d="M259.4 115.3L263.2 117.7L263.9 121.4L260.1 119.1z" fill="#2a4540" stroke="#2a4540"/>
<path d="M221.9 123.4L224.3 124.1L227.8 137.8L225.4 137.1z" fill="#4669b2" stroke="#4669b2"/>
<path d="M263.9 92.7L268.4 95.6L268.8 99.8L264.3 97z" fill="#5d361a" stroke="#5d361a"/>
<path d="M262 110.2L266.1 112.8L266.6 116.5L262.6 114z" fill="#414b25" stroke="#414b25"/>
<path d="M255 122.7L258.4 124.7L259.5 128.9L256.1 127z" fill="#3f609e" stroke="#3f609e"/>
<path d="M257.4 120.7L261 122.8L261.9 126.8L258.4 124.7z" fill="#365585" stroke="#365585"/>
<path d="M264.3 97L268.8 99.8L269.2 103.9L264.7 101.1z" fill="#5c3b1b" stroke="#5c3b1b"/>
<path d="M224.3 124.1L226.7 124.8L230.1 138.5L227.8 137.8z" fill="#4669b2" stroke="#4669b2"/>
<path d="M245.5 125.8L248.3 127.2L250.2 134.2L247.3 132.9z" fill="#4669b1" stroke="#4669b1"/>
<path d="M260.1 119.1L263.9 121.4L264.7 125.1L261 122.8z" fill="#2f4f5f" stroke="#2f4f5f"/>
<path d="M264.7 101.1L269.2 103.9L269.6 107.9L265.1 105.1z" fill="#58421d" stroke="#58421d"/>
<path d="M262.6 114L266.6 116.5L267.2 120.2L263.2 117.7z" fill="#34482c" stroke="#34482c"/>
<path d="M266.9 72.6L272 75.6L272.2 80.5L267.2 77.4z" fill="#562315" stroke="#562315"/>
<path d="M226.7 124.8L229.1 125.5L232.5 139.3L230.1 138.5z" fill="#4669b2" stroke="#4669b2"/>
<path d="M252.9 125.2L256.1 127L257.5 132.1L254.3 130.3z" fill="#4468ad" stroke="#4468ad"/>
<path d="M267.2 77.4L272.2 80.5L272.5 85.3L267.5 82.2z" fill="#5b2c19" stroke="#5b2c19"/>
<path d="M265.1 105.1L269.6 107.9L270 111.8L265.6 109z" fill="#53491f" stroke="#53491f"/>
<path d="M267.5 82.2L272.5 85.3L272.7 89.9L267.8 86.8z" fill="#5c2e19" stroke="#5c2e19"/>
<path d="M229.1 125.5L231.6 126.4L234.9 140.1L232.5 139.3z" fill="#4669b2" stroke="#4669b2"/>
<path d="M263.2 117.7L267.2 120.2L267.9 123.9L263.9 121.4z" fill="#30493e" stroke="#30493e"/>
<path d="M267.8 86.8L272.7 89.9L273 94.3L268.1 91.2z" fill="#5c2f19" stroke="#5c2f19"/>
<path d="M265.6 109L270 111.8L270.5 115.6L266.1 112.8z" fill="#4a4a22" stroke="#4a4a22"/>
<path d="M258.4 124.7L261.9 126.8L262.9 131L259.5 128.9z" fill="#4061a0" stroke="#4061a0"/>
<path d="M248.3 127.2L251.3 128.7L253.1 135.7L250.2 134.2z" fill="#4669b1" stroke="#4669b1"/>
<path d="M261 122.8L264.7 125.1L265.6 129L261.9 126.8z" fill="#385a85" stroke="#385a85"/>
<path d="M268.1 91.2L273 94.3L273.3 98.7L268.4 95.6z" fill="#5c3319" stroke="#5c3319"/>
<path d="M231.6 126.4L234.1 127.3L237.3 140.9L234.9 140.1z" fill="#4669b2" stroke="#4669b2"/>
<path d="M266.1 112.8L270.5 115.6L271 119.3L266.6 116.5z" fill="#3f4b26" stroke="#3f4b26"/>
<path d="M268.4 95.6L273.3 98.7L273.6 102.9L268.8 99.8z" fill="#5c361a" stroke="#5c361a"/>
<path d="M256.1 127L259.5 128.9L260.8 133.9L257.5 132.1z" fill="#4568ae" stroke="#4568ae"/>
<path d="M263.9 121.4L267.9 123.9L268.6 127.6L264.7 125.1z" fill="#325360" stroke="#325360"/>
<path d="M268.8 99.8L273.6 102.9L274 107L269.2 103.9z" fill="#593b1b" stroke="#593b1b"/>
<path d="M234.1 127.3L236.6 128.2L239.8 141.8L237.3 140.9z" fill="#4669b2" stroke="#4669b2"/>
<path d="M266.6 116.5L271 119.3L271.5 123L267.2 120.2z" fill="#34472f" stroke="#34472f"/>
<path d="M251.3 128.7L254.3 130.3L256.1 137.2L253.1 135.7z" fill="#4669b1" stroke="#4669b1"/>
<path d="M269.2 103.9L274 107L274.3 111L269.6 107.9z" fill="#55421d" stroke="#55421d"/>
<path d="M261.9 126.8L265.6 129L266.6 133.2L262.9 131z" fill="#4163a2" stroke="#4163a2"/>
<path d="M269.6 107.9L274.3 111L274.7 114.8L270 111.8z" fill="#4f471f" stroke="#4f471f"/>
<path d="M272 75.6L277.5 79L277.7 83.9L272.2 80.5z" fill="#531e14" stroke="#531e14"/>
<path d="M236.6 128.2L239.2 129.3L242.3 142.8L239.8 141.8z" fill="#4669b2" stroke="#4669b2"/>
<path d="M267.2 120.2L271.5 123L272.1 126.6L267.9 123.9z" fill="#314a44" stroke="#314a44"/>
<path d="M264.7 125.1L268.6 127.6L269.4 131.4L265.6 129z" fill="#3a5e87" stroke="#3a5e87"/>
<path d="M272.2 80.5L277.7 83.9L277.9 88.6L272.5 85.3z" fill="#542215" stroke="#542215"/>
<path d="M259.5 128.9L262.9 131L264.2 135.9L260.8 133.9z" fill="#4569af" stroke="#4569af"/>
<path d="M270 111.8L274.7 114.8L275.1 118.6L270.5 115.6z" fill="#464923" stroke="#464923"/>
<path d="M272.5 85.3L277.9 88.6L278.1 93.2L272.7 89.9z" fill="#542315" stroke="#542315"/>
<path d="M254.3 130.3L257.5 132.1L259.2 138.8L256.1 137.2z" fill="#4669b1" stroke="#4669b1"/>
<path d="M272.7 89.9L278.1 93.2L278.3 97.7L273 94.3z" fill="#542415" stroke="#542415"/>
<path d="M239.2 129.3L241.9 130.4L244.8 143.8L242.3 142.8z" fill="#4669b2" stroke="#4669b2"/>
<path d="M270.5 115.6L275.1 118.6L275.6 122.3L271 119.3z" fill="#3b4a27" stroke="#3b4a27"/>
<path d="M267.9 123.9L272.1 126.6L272.8 130.3L268.6 127.6z" fill="#345567" stroke="#345567"/>
<path d="M273 94.3L278.3 97.7L278.6 102L273.3 98.7z" fill="#542715" stroke="#542715"/>
<path d="M273.3 98.7L278.6 102L278.8 106.3L273.6 102.9z" fill="#542a16" stroke="#542a16"/>
<path d="M271 119.3L275.6 122.3L276.1 125.9L271.5 123z" fill="#324633" stroke="#324633"/>
<path d="M265.6 129L269.4 131.4L270.4 135.5L266.6 133.2z" fill="#4265a4" stroke="#4265a4"/>
<path d="M273.6 102.9L278.8 106.3L279.1 110.3L274 107z" fill="#522f17" stroke="#522f17"/>
<path d="M241.9 130.4L244.6 131.6L247.4 144.8L244.8 143.8z" fill="#4669b2" stroke="#4669b2"/>
<path d="M262.9 131L266.6 133.2L267.7 138L264.2 135.9z" fill="#456aaf" stroke="#456aaf"/>
<path d="M257.5 132.1L260.8 133.9L262.3 140.5L259.2 138.8z" fill="#4669b1" stroke="#4669b1"/>
<path d="M274 107L279.1 110.3L279.4 114.3L274.3 111z" fill="#4d3719" stroke="#4d3719"/>
<path d="M268.6 127.6L272.8 130.3L273.5 134L269.4 131.4z" fill="#3b5f8d" stroke="#3b5f8d"/>
<path d="M271.5 123L276.1 125.9L276.6 129.5L272.1 126.6z" fill="#314c4b" stroke="#314c4b"/>
<path d="M274.3 111L279.4 114.3L279.8 118.2L274.7 114.8z" fill="#473e1b" stroke="#473e1b"/>
<path d="M244.6 131.6L247.3 132.9L250 146L247.4 144.8z" fill="#4669b2" stroke="#4669b2"/>
<path d="M277.5 79L283.5 82.7L283.6 87.6L277.7 83.9z" fill="#562316" stroke="#562316"/>
<path d="M274.7 114.8L279.8 118.2L280.1 121.9L275.1 118.6z" fill="#3d411f" stroke="#3d411f"/>
<path d="M277.7 83.9L283.6 87.6L283.8 92.3L277.9 88.6z" fill="#5f321b" stroke="#5f321b"/>
<path d="M272.1 126.6L276.6 129.5L277.2 133.1L272.8 130.3z" fill="#36576f" stroke="#36576f"/>
<path d="M277.9 88.6L283.8 92.3L283.9 96.9L278.1 93.2z" fill="#60341b" stroke="#60341b"/>
<path d="M260.8 133.9L264.2 135.9L265.6 142.4L262.3 140.5z" fill="#4669b1" stroke="#4669b1"/>
<path d="M275.1 118.6L280.1 121.9L280.5 125.6L275.6 122.3z" fill="#304425" stroke="#304425"/>
<path d="M269.4 131.4L273.5 134L274.4 138L270.4 135.5z" fill="#4366a7" stroke="#4366a7"/>
<path d="M266.6 133.2L270.4 135.5L271.4 140.2L267.7 138z" fill="#466ab0" stroke="#466ab0"/>
<path d="M247.3 132.9L250.2 134.2L252.7 147.1L250 146z" fill="#4669b2" stroke="#4669b2"/>
<path d="M278.1 93.2L283.9 96.9L284.1 101.4L278.3 97.7z" fill="#60351b" stroke="#60351b"/>
<path d="M278.3 97.7L284.1 101.4L284.3 105.7L278.6 102z" fill="#60351b" stroke="#60351b"/>
<path d="M275.6 122.3L280.5 125.6L280.9 129.1L276.1 125.9z" fill="#2a4533" stroke="#2a4533"/>
<path d="M278.6 102L284.3 105.7L284.5 109.9L278.8 106.3z" fill="#5f371c" stroke="#5f371c"/>
<path d="M272.8 130.3L277.2 133.1L277.9 136.8L273.5 134z" fill="#3d6193" stroke="#3d6193"/>
<path d="M278.8 106.3L284.5 109.9L284.7 114L279.1 110.3z" fill="#5f3a1c" stroke="#5f3a1c"/>
<path d="M250.2 134.2L253.1 135.7L255.4 148.4L252.7 147.1z" fill="#4669b2" stroke="#4669b2"/>
<path d="M276.1 125.9L280.9 129.1L281.4 132.7L276.6 129.5z" fill="#2f4e4f" stroke="#2f4e4f"/>
<path d="M279.1 110.3L284.7 114L284.9 117.9L279.4 114.3z" fill="#5e3d1c" stroke="#5e3d1c"/>
<path d="M264.2 135.9L267.7 138L269 144.3L265.6 142.4z" fill="#4669b1" stroke="#4669b1"/>
<path d="M279.4 114.3L284.9 117.9L285.2 121.8L279.8 118.2z" fill="#5a431e" stroke="#5a431e"/>
<path d="M270.4 135.5L274.4 138L275.3 142.6L271.4 140.2z" fill="#466ab0" stroke="#466ab0"/>
<path d="M276.6 129.5L281.4 132.7L281.9 136.2L277.2 133.1z" fill="#365b75" stroke="#365b75"/>
<path d="M273.5 134L277.9 136.8L278.6 140.7L274.4 138z" fill="#4368aa" stroke="#4368aa"/>
<path d="M279.8 118.2L285.2 121.8L285.5 125.5L280.1 121.9z" fill="#554720" stroke="#554720"/>
<path d="M253.1 135.7L256.1 137.2L258.2 149.7L255.4 148.4z" fill="#4669b2" stroke="#4669b2"/>
<path d="M283.5 82.7L290 86.8L290.1 91.7L283.6 87.6z" fill="#562316" stroke="#562316"/>
<path d="M280.1 121.9L285.5 125.5L285.8 129.1L280.5 125.6z" fill="#494924" stroke="#494924"/>
<path d="M283.6 87.6L290.1 91.7L290.2 96.4L283.8 92.3z" fill="#5e301a" stroke="#5e301a"/>
<path d="M283.8 92.3L290.2 96.4L290.2 101L283.9 96.9z" fill="#5f331b" stroke="#5f331b"/>
<path d="M277.2 133.1L281.9 136.2L282.4 139.8L277.9 136.8z" fill="#3f6496" stroke="#3f6496"/>
<path d="M267.7 138L271.4 140.2L272.6 146.3L269 144.3z" fill="#466ab1" stroke="#466ab1"/>
<path d="M280.5 125.6L285.8 129.1L286.1 132.6L280.9 129.1z" fill="#3b4e2d" stroke="#3b4e2d"/>
<path d="M283.9 96.9L290.2 101L290.3 105.4L284.1 101.4z" fill="#5f341b" stroke="#5f341b"/>
<path d="M256.1 137.2L259.2 138.8L261 151L258.2 149.7z" fill="#4669b2" stroke="#4669b2"/>
<path d="M284.1 101.4L290.3 105.4L290.5 109.8L284.3 105.7z" fill="#5f341b" stroke="#5f341b"/>
<path d="M284.3 105.7L290.5 109.8L290.6 113.9L284.5 109.9z" fill="#5f351b" stroke="#5f351b"/>
<path d="M280.9 129.1L286.1 132.6L286.5 136.1L281.4 132.7z" fill="#3b5649" stroke="#3b5649"/>
<path d="M274.4 138L278.6 140.7L279.3 145.1L275.3 142.6z" fill="#466ab1" stroke="#466ab1"/>
<path d="M284.5 109.9L290.6 113.9L290.7 118L284.7 114z" fill="#5e371b" stroke="#5e371b"/>
<path d="M277.9 136.8L282.4 139.8L283 143.6L278.6 140.7z" fill="#4469ac" stroke="#4469ac"/>
<path d="M284.7 114L290.7 118L290.9 121.9L284.9 117.9z" fill="#5e391c" stroke="#5e391c"/>
<path d="M259.2 138.8L262.3 140.5L263.9 152.5L261 151z" fill="#4669b2" stroke="#4669b2"/>
<path d="M281.4 132.7L286.5 136.1L286.9 139.5L281.9 136.2z" fill="#3c6173" stroke="#3c6173"/>
<path d="M284.9 117.9L290.9 121.9L291 125.7L285.2 121.8z" fill="#5b3d1d" stroke="#5b3d1d"/>
<path d="M271.4 140.2L275.3 142.6L276.2 148.5L272.6 146.3z" fill="#466ab1" stroke="#466ab1"/>
<path d="M285.2 121.8L291 125.7L291.2 129.3L285.5 125.5z" fill="#57431e" stroke="#57431e"/>
<path d="M281.9 136.2L286.9 139.5L287.3 143L282.4 139.8z" fill="#406997" stroke="#406997"/>
<path d="M285.5 125.5L291.2 129.3L291.4 132.9L285.8 129.1z" fill="#4d4621" stroke="#4d4621"/>
<path d="M262.3 140.5L265.6 142.4L266.8 154L263.9 152.5z" fill="#4669b2" stroke="#4669b2"/>
<path d="M278.6 140.7L283 143.6L283.6 147.8L279.3 145.1z" fill="#466bb1" stroke="#466bb1"/>
<path d="M285.8 129.1L291.4 132.9L291.7 136.3L286.1 132.6z" fill="#414e2b" stroke="#414e2b"/>
<path d="M290 86.8L297.1 91.2L297.1 96.1L290.1 91.7z" fill="#531f14" stroke="#531f14"/>
<path d="M290.1 91.7L297.1 96.1L297.1 100.9L290.2 96.4z" fill="#562516" stroke="#562516"/>
<path d="M290.2 96.4L297.1 100.9L297.1 105.4L290.2 101z" fill="#572717" stroke="#572717"/>
<path d="M275.3 142.6L279.3 145.1L280 150.8L276.2 148.5z" fill="#4669b1" stroke="#4669b1"/>
<path d="M286.1 132.6L291.7 136.3L291.9 139.7L286.5 136.1z" fill="#3e5b46" stroke="#3e5b46"/>
<path d="M282.4 139.8L287.3 143L287.7 146.6L283 143.6z" fill="#456bac" stroke="#456bac"/>
<path d="M290.2 101L297.1 105.4L297.1 109.9L290.3 105.4z" fill="#562817" stroke="#562817"/>
<path d="M290.3 105.4L297.1 109.9L297.2 114.2L290.5 109.8z" fill="#562917" stroke="#562917"/>
<path d="M265.6 142.4L269 144.3L269.8 155.5L266.8 154z" fill="#4669b2" stroke="#4669b2"/>
<path d="M290.5 109.8L297.2 114.2L297.2 118.3L290.6 113.9z" fill="#562a17" stroke="#562a17"/>
<path d="M286.5 136.1L291.9 139.7L292.2 143.1L286.9 139.5z" fill="#3f6671" stroke="#3f6671"/>
<path d="M290.6 113.9L297.2 118.3L297.2 122.3L290.7 118z" fill="#562b17" stroke="#562b17"/>
<path d="M290.7 118L297.2 122.3L297.3 126.2L290.9 121.9z" fill="#552d17" stroke="#552d17"/>
<path d="M290.9 121.9L297.3 126.2L297.4 129.9L291 125.7z" fill="#523219" stroke="#523219"/>
<path d="M286.9 139.5L292.2 143.1L292.4 146.4L287.3 143z" fill="#426d97" stroke="#426d97"/>
<path d="M283 143.6L287.7 146.6L288 150.7L283.6 147.8z" fill="#466bb1" stroke="#466bb1"/>
<path d="M291 125.7L297.4 129.9L297.4 133.5L291.2 129.3z" fill="#4c391a" stroke="#4c391a"/>
<path d="M279.3 145.1L283.6 147.8L283.9 153.2L280 150.8z" fill="#466ab1" stroke="#466ab1"/>
<path d="M269 144.3L272.6 146.3L272.9 157.2L269.8 155.5z" fill="#4669b2" stroke="#4669b2"/>
<path d="M291.2 129.3L297.4 133.5L297.5 137L291.4 132.9z" fill="#423f20" stroke="#423f20"/>
<path d="M291.4 132.9L297.5 137L297.6 140.4L291.7 136.3z" fill="#394e2e" stroke="#394e2e"/>
<path d="M287.3 143L292.4 146.4L292.6 149.9L287.7 146.6z" fill="#466dab" stroke="#466dab"/>
<path d="M291.7 136.3L297.6 140.4L297.7 143.7L291.9 139.7z" fill="#3a5d4d" stroke="#3a5d4d"/>
<path d="M272.6 146.3L276.2 148.5L276.1 158.9L272.9 157.2z" fill="#4669b2" stroke="#4669b2"/>
<path d="M297.1 91.2L305 96.2L304.8 101L297.1 96.1z" fill="#532115" stroke="#532115"/>
<path d="M297.1 96.1L304.8 101L304.7 105.8L297.1 100.9z" fill="#582a18" stroke="#582a18"/>
<path d="M291.9 139.7L297.7 143.7L297.8 146.9L292.2 143.1z" fill="#3e6778" stroke="#3e6778"/>
<path d="M297.1 100.9L304.7 105.8L304.6 110.3L297.1 105.4z" fill="#582c18" stroke="#582c18"/>
<path d="M297.1 105.4L304.6 110.3L304.5 114.7L297.1 109.9z" fill="#582c18" stroke="#582c18"/>
<path d="M283.6 147.8L288 150.7L288 155.8L283.9 153.2z" fill="#466ab1" stroke="#466ab1"/>
<path d="M287.7 146.6L292.6 149.9L292.7 153.7L288 150.7z" fill="#466bb0" stroke="#466bb0"/>
<path d="M297.1 109.9L304.5 114.7L304.5 119L297.2 114.2z" fill="#582d18" stroke="#582d18"/>
<path d="M297.2 114.2L304.5 119L304.4 123.1L297.2 118.3z" fill="#582e18" stroke="#582e18"/>
<path d="M292.2 143.1L297.8 146.9L297.9 150.1L292.4 146.4z" fill="#436e9a" stroke="#436e9a"/>
<path d="M297.2 118.3L304.4 123.1L304.3 127.1L297.2 122.3z" fill="#572f18" stroke="#572f18"/>
<path d="M297.2 122.3L304.3 127.1L304.3 130.9L297.3 126.2z" fill="#553319" stroke="#553319"/>
<path d="M297.3 126.2L304.3 130.9L304.2 134.5L297.4 129.9z" fill="#503a1b" stroke="#503a1b"/>
<path d="M276.2 148.5L280 150.8L279.3 160.7L276.1 158.9z" fill="#4669b2" stroke="#4669b2"/>
<path d="M297.4 129.9L304.2 134.5L304.1 138.1L297.4 133.5z" fill="#49401f" stroke="#49401f"/>
<path d="M292.4 146.4L297.9 150.1L297.8 153.4L292.6 149.9z" fill="#466dac" stroke="#466dac"/>
<path d="M297.4 133.5L304.1 138.1L304.1 141.5L297.5 137z" fill="#3d4527" stroke="#3d4527"/>
<path d="M297.5 137L304.1 141.5L304 144.8L297.6 140.4z" fill="#385139" stroke="#385139"/>
<path d="M288 150.7L292.7 153.7L292.3 158.5L288 155.8z" fill="#466ab1" stroke="#466ab1"/>
<path d="M297.6 140.4L304 144.8L303.9 148L297.7 143.7z" fill="#3b5b5b" stroke="#3b5b5b"/>
<path d="M292.6 149.9L297.8 153.4L297.6 157L292.7 153.7z" fill="#466bb0" stroke="#466bb0"/>
<path d="M280 150.8L283.9 153.2L282.6 162.6L279.3 160.7z" fill="#4669b2" stroke="#4669b2"/>
<path d="M297.7 143.7L303.9 148L303.8 151.1L297.8 146.9z" fill="#3e6684" stroke="#3e6684"/>
<path d="M297.8 146.9L303.8 151.1L303.7 154.1L297.9 150.1z" fill="#436c9f" stroke="#436c9f"/>
<path d="M305 96.2L313.5 101.6L313.3 106.4L304.8 101z" fill="#501d13" stroke="#501d13"/>
<path d="M304.8 101L313.3 106.4L313.1 111.1L304.7 105.8z" fill="#501e13" stroke="#501e13"/>
<path d="M304.7 105.8L313.1 111.1L312.9 115.7L304.6 110.3z" fill="#4f1f14" stroke="#4f1f14"/>
<path d="M304.6 110.3L312.9 115.7L312.6 120.1L304.5 114.7z" fill="#4f2014" stroke="#4f2014"/>
<path d="M304.5 114.7L312.6 120.1L312.4 124.3L304.5 119z" fill="#4f2114" stroke="#4f2114"/>
<path d="M297.9 150.1L303.7 154.1L303.4 157.2L297.8 153.4z" fill="#466baf" stroke="#466baf"/>
<path d="M304.5 119L312.4 124.3L312.2 128.3L304.4 123.1z" fill="#4e2214" stroke="#4e2214"/>
<path d="M283.9 153.2L288 155.8L286 164.6L282.6 162.6z" fill="#4669b2" stroke="#4669b2"/>
<path d="M304.4 123.1L312.2 128.3L312 132.2L304.3 127.1z" fill="#4e2314" stroke="#4e2314"/>
<path d="M292.7 153.7L297.6 157L296.8 161.3L292.3 158.5z" fill="#466ab1" stroke="#466ab1"/>
<path d="M304.3 127.1L312 132.2L311.8 136L304.3 130.9z" fill="#4a2a15" stroke="#4a2a15"/>
<path d="M304.3 130.9L311.8 136L311.6 139.6L304.2 134.5z" fill="#453117" stroke="#453117"/>
<path d="M304.2 134.5L311.6 139.6L311.4 143.1L304.1 138.1z" fill="#3a391e" stroke="#3a391e"/>
<path d="M304.1 138.1L311.4 143.1L311.2 146.4L304.1 141.5z" fill="#2e4128" stroke="#2e4128"/>
<path d="M297.8 153.4L303.4 157.2L302.8 160.4L297.6 157z" fill="#466bb1" stroke="#466bb1"/>
<path d="M304.1 141.5L311.2 146.4L310.9 149.5L304 144.8z" fill="#2e4e3e" stroke="#2e4e3e"/>
<path d="M304 144.8L310.9 149.5L310.6 152.6L303.9 148z" fill="#355a62" stroke="#355a62"/>
<path d="M288 155.8L292.3 158.5L289.5 166.6L286 164.6z" fill="#4669b2" stroke="#4669b2"/>
<path d="M303.9 148L310.6 152.6L310.3 155.5L303.8 151.1z" fill="#3c6588" stroke="#3c6588"/>
<path d="M303.8 151.1L310.3 155.5L309.9 158.4L303.7 154.1z" fill="#436ba0" stroke="#436ba0"/>
<path d="M297.6 157L302.8 160.4L301.4 164.4L296.8 161.3z" fill="#466ab1" stroke="#466ab1"/>
<path d="M303.7 154.1L309.9 158.4L309.2 161.2L303.4 157.2z" fill="#466baf" stroke="#466baf"/>
<path d="M292.3 158.5L296.8 161.3L293.2 168.8L289.5 166.6z" fill="#4669b2" stroke="#4669b2"/>
<path d="M303.4 157.2L309.2 161.2L308.2 164.1L302.8 160.4z" fill="#466bb1" stroke="#466bb1"/>
<path d="M313.5 101.6L323 107.6L322.6 112.4L313.3 106.4z" fill="#552315" stroke="#552315"/>
<path d="M313.3 106.4L322.6 112.4L322.2 117.1L313.1 111.1z" fill="#5e311a" stroke="#5e311a"/>
<path d="M313.1 111.1L322.2 117.1L321.9 121.6L312.9 115.7z" fill="#5f341b" stroke="#5f341b"/>
<path d="M312.9 115.7L321.9 121.6L321.5 125.9L312.6 120.1z" fill="#5e341b" stroke="#5e341b"/>
<path d="M312.6 120.1L321.5 125.9L321.2 130.1L312.4 124.3z" fill="#5e351b" stroke="#5e351b"/>
<path d="M312.4 124.3L321.2 130.1L320.8 134.1L312.2 128.3z" fill="#5e361b" stroke="#5e361b"/>
<path d="M312.2 128.3L320.8 134.1L320.4 137.9L312 132.2z" fill="#5e361b" stroke="#5e361b"/>
<path d="M312 132.2L320.4 137.9L320.1 141.6L311.8 136z" fill="#5e371b" stroke="#5e371b"/>
<path d="M311.8 136L320.1 141.6L319.7 145.1L311.6 139.6z" fill="#5a3c1d" stroke="#5a3c1d"/>
<path d="M311.6 139.6L319.7 145.1L319.3 148.5L311.4 143.1z" fill="#56421e" stroke="#56421e"/>
<path d="M311.4 143.1L319.3 148.5L318.8 151.7L311.2 146.4z" fill="#4b4724" stroke="#4b4724"/>
<path d="M311.2 146.4L318.8 151.7L318.4 154.7L310.9 149.5z" fill="#405431" stroke="#405431"/>
<path d="M302.8 160.4L308.2 164.1L306.3 167.6L301.4 164.4z" fill="#466ab1" stroke="#466ab1"/>
<path d="M310.9 149.5L318.4 154.7L317.8 157.6L310.6 152.6z" fill="#405e51" stroke="#405e51"/>
<path d="M310.6 152.6L317.8 157.6L317.2 160.3L310.3 155.5z" fill="#41687c" stroke="#41687c"/>
<path d="M296.8 161.3L301.4 164.4L296.9 171L293.2 168.8z" fill="#4669b2" stroke="#4669b2"/>
<path d="M310.3 155.5L317.2 160.3L316.5 163L309.9 158.4z" fill="#436e9d" stroke="#436e9d"/>
<path d="M309.9 158.4L316.5 163L315.5 165.5L309.2 161.2z" fill="#466dad" stroke="#466dad"/>
<path d="M309.2 161.2L315.5 165.5L314 168L308.2 164.1z" fill="#466bb1" stroke="#466bb1"/>
<path d="M301.4 164.4L306.3 167.6L300.7 173.4L296.9 171z" fill="#4669b2" stroke="#4669b2"/>
<path d="M308.2 164.1L314 168L311.4 171L306.3 167.6z" fill="#466ab1" stroke="#466ab1"/>
<path d="M306.3 167.6L311.4 171L304.7 175.8L300.7 173.4z" fill="#4669b2" stroke="#4669b2"/>
<path d="M138.1 59.3L140.3 61L145.2 59.4L149.8 57.9L154.1 56.5L158.1 55.3L161.9 54.1L165.4 53.1L168.8 52.1L171.9 51.2L174.9 50.4L177.7 49.7L180.4 49L182.9 48.4L185.3 47.9L187.6 47.4L189.8 47L191.9 46.6L193.9 46.3L195.8 46.1L197.7 45.9L199.5 45.8L201.3 45.7L203 45.6L204.7 45.6L206.3 45.7L208 45.8L209.6 46L211.3 46.2L212.9 46.5L214.5 46.8L216.2 47.2L217.9 47.7L219.6 48.2L221.4 48.7L223.2 49.4L225 50.1L227 50.9L229 51.7L231.1 52.7L233.2 53.7L235.5 54.8L237.9 56L240.5 57.3L243.1 58.8L246 60.3L249 62L252.2 63.8L255.6 65.8L259.2 67.9L263.1 70.3L267.3 72.8L271.7 75.5L276.5 78.4L281.7 81.6L287.3 85.1L293.3 88.8L299.8 92.9L306.9 97.4L314.6 102.3L323 107.6L326.6 105.8L318.4 100.5L311 95.5L304.1 91L297.9 86.8L292.1 82.9L286.8 79.4L282 76.1L277.5 73L273.4 70.2L269.6 67.5L266.1 65.1L262.9 62.8L260 60.7L257.3 58.7L254.8 56.8L252.5 55L250.4 53.4L248.5 51.9L246.8 50.4L245.2 49L243.8 47.7L242.5 46.5L241.4 45.4L240.4 44.2L239.5 43.2L238.8 42.2L238.1 41.2L237.6 40.3L237.1 39.4L236.8 38.5L236.6 37.7L236.5 36.9L236.5 36.1L236.6 35.3L236.7 34.5L237 33.7L237.4 33L237.9 32.2L238.5 31.5L239.2 30.7L240 29.9L240.9 29.2L241.9 28.4L243.1 27.6L244.3 26.8L245.7 25.9L247.2 25.1L248.8 24.2L250.6 23.2L252.5 22.3L254.6 21.3L256.8 20.3L259.2 19.2L261.7 18.1L264.4 16.9L267.3 15.7L270.4 14.4L273.7 13.1L277.2 11.7L274.7 10.4z" fill="#cfcfcf" stroke="#cfcfcf" stroke-width="0.9"/>
<path d="M139 59.5L274.6 10.9" stroke="#6e6e6e" stroke-width="1.1" fill="none"/>
<path d="M242.4 58.4L245 59.8L247.7 61.3L250.3 62.8L252.9 64.3L255.5 65.8L258.2 67.3L260.8 68.9L263.4 70.5L266.1 72.1L268.8 73.7L271.4 75.3L274.1 77L276.9 78.6L279.6 80.3L282.3 82L285.1 83.7L287.9 85.4L290.7 87.2L293.5 89L296.3 90.7L299.2 92.5L302.1 94.4L305 96.2L307.9 98L310.9 99.9L313.9 101.8L316.9 103.7L319.9 105.6L323 107.6L326.6 105.8L323.6 103.9L320.6 101.9L317.7 100L314.8 98.1L311.9 96.2L309.1 94.3L306.3 92.4L303.5 90.6L300.8 88.7L298 86.9L295.3 85.1L292.7 83.3L290 81.5L287.4 79.8L284.8 78L282.3 76.3L279.7 74.5L277.2 72.8L274.8 71.1L272.3 69.4L269.9 67.8L267.6 66.1L265.2 64.4L262.9 62.8L260.6 61.1L258.4 59.5L256.2 57.9L254.1 56.2L252 54.6z" fill="#e9e9e9" stroke="none"/>
<path d="M252 54.6L254.1 56.2L256.2 57.9L258.4 59.5L260.6 61.1L262.9 62.8L265.2 64.4L267.6 66.1L269.9 67.8L272.3 69.4L274.8 71.1L277.2 72.8L279.7 74.5L282.3 76.3L284.8 78L287.4 79.8L290 81.5L292.7 83.3L295.3 85.1L298 86.9L300.8 88.7L303.5 90.6L306.3 92.4L309.1 94.3L311.9 96.2L314.8 98.1L317.7 100L320.6 101.9L323.6 103.9L326.6 105.8" fill="none" stroke="#7a3a30" stroke-width="0.5"/>
<path d="M254.1 65.5L259.6 66.2L259.5 68.6L264.8 69.5L264.9 71.8L270.1 72.8L270.3 75.1L275.5 76.1L275.8 78.5L280.9 79.6L281.4 81.9L286.4 83.1L287 85.4L292.1 86.7L292.7 89L297.8 90.3L298.6 92.7L303.6 94L304.5 96.4L309.5 97.8L310.5 100.2L315.5 101.7L316.6 104L321.6 105.6L322.8 108z" fill="#5b1d14" stroke="none"/>
<path d="M245.1 55.1L324.8 106.7" stroke="#8a2f22" stroke-width="0.7" fill="none"/>
<path d="M216.8 36.8L245.1 55.1" stroke="#f4f4f4" stroke-width="0.7" fill="none"/>
</g>
<path d="M138.1 59.3L138.4 59.4L138.6 59.6L138.8 59.8L139 60L139.2 60.2L139.5 60.3L139.7 60.5L139.9 60.7L140.1 60.9L141 65.9L142.5 75.6L143.6 82.9L144.5 88.6L145.3 93.1L146 96.7L146.6 99.7L147.1 102.2L147.6 104.3L148 106.2L148.4 107.7L148.8 109.1L149.1 110.3L149.4 111.4L149.8 112.4L150.1 113.3L150.4 114.1L150.7 114.8L150.9 115.5L151.2 116.2L151.5 116.8L151.7 117.3L152 117.8L152.3 118.3L152.5 118.8L152.8 119.2L153 119.7L153.3 120.1L153.5 120.5L153.8 120.8L155.9 123.8L158 126.3L160.1 128.5L162.2 130.6L164.3 132.7L166.4 134.7L168.5 136.8L170.6 138.8L172.7 140.8L174.9 142.8L177.1 144.8L179.3 146.9L181.5 148.9L183.7 151L186 153L188.3 155.1L190.6 157.2L192.9 159.4L195.2 161.5L197.6 163.7L200 165.8L202.4 168L204.8 170.3L207.2 172.5L209.7 174.7L212.2 177L214.7 179.3L217.2 181.6L219.8 184L222.4 186.3L225 188.7L227.6 191.1L230.3 193.5L233 196L235.7 198.5L238.4 201L241.2 203.5L244 206L246.8 208.6L246.8 208.6L249.1 207.3L251.5 206L253.8 204.7L256.1 203.4L258.4 202.1L260.7 200.9L263 199.6L265.2 198.3L267.5 197.1L269.7 195.8L272 194.6L274.2 193.3L276.4 192.1L278.6 190.8L280.8 189.6L283 188.4L285.2 187.1L287.3 185.9L289.5 184.7L291.6 183.5L293.8 182.3L295.9 181.1L298 179.8L300.1 178.6L302.2 177.3L304.3 176.1L306.4 174.7L308.5 173.3L310.5 171.7L310.7 171.6L310.8 171.4L311 171.3L311.1 171.2L311.3 171L311.4 170.9L311.6 170.8L311.8 170.6L311.9 170.5L312.1 170.3L312.2 170.2L312.4 170L312.5 169.8L312.7 169.7L312.8 169.5L313 169.3L313.1 169.2L313.3 169L313.4 168.8L313.6 168.6L313.7 168.4L313.9 168.2L314.1 167.9L314.2 167.7L314.4 167.5L314.5 167.2L314.7 167L314.8 166.7L315 166.4L315.2 166.1L315.3 165.8L315.5 165.4L315.7 165.1L315.8 164.7L316 164.3L316.2 163.8L316.3 163.4L316.5 162.9L316.7 162.3L316.9 161.7L317 161.1L317.2 160.3L317.4 159.6L317.6 158.7L317.8 157.7L318 156.7L318.2 155.5L318.5 154.1L318.7 152.5L319 150.8L319.2 148.7L319.5 146.3L319.8 143.5L320.2 140.2L320.6 136.2L321.1 131.3L321.6 125.2L322.2 117.5L323 107.6L324.8 106.7L326.6 105.8L326.1 115.6L325.7 123.1L325.5 129L325.3 133.7L325.2 137.6L325.1 140.8L325 143.4L325 145.6L325.1 147.5L325.1 149.1L325.1 150.5L325.2 151.7L325.3 152.7L325.3 153.6L325.4 154.4L325.5 155.2L325.6 155.8L325.7 156.3L325.8 156.8L325.9 157.3L326 157.6L326.1 158L326.3 158.3L326.4 158.6L326.5 158.8L326.6 159L326.7 159.2L326.9 159.4L327 159.6L327.1 159.7L327.3 159.8L327.4 160L327.5 160.1L327.6 160.1L327.8 160.2L327.9 160.3L328 160.3L328.2 160.4L328.3 160.4L328.4 160.5L328.6 160.5L328.7 160.5L328.9 160.5L329 160.6L329.1 160.6L329.3 160.6L329.4 160.6L329.5 160.6L329.7 160.6L329.8 160.5L330 160.5L330.1 160.5L330.2 160.5L330.4 160.5L330.5 160.4L330.6 160.4L330.8 160.4L330.9 160.3L331.1 160.3L333 159.7L334.9 158.9L336.8 158L338.7 157L340.6 156.1L342.5 155.1L344.4 154.1L346.3 153.1L348.2 152L350.1 151L351.9 150L353.8 149L355.6 148L357.5 147L359.3 146L361.1 144.9L362.9 143.9L364.8 142.9L366.6 142L368.4 141L370.1 140L371.9 139L373.7 138L375.4 137L377.2 136.1L378.9 135.1L380.7 134.1L382.4 133.2L384.1 132.2L384.1 132.2L381.2 130.3L378.2 128.5L375.3 126.6L372.3 124.8L369.5 123L366.6 121.1L363.8 119.4L360.9 117.6L358.1 115.8L355.4 114.1L352.6 112.3L349.9 110.6L347.2 108.9L344.5 107.2L341.8 105.5L339.2 103.9L336.6 102.2L334 100.6L331.4 98.9L328.8 97.3L326.3 95.7L323.8 94.1L321.3 92.5L318.8 90.9L316.3 89.4L313.9 87.8L311.4 86.3L309 84.7L306.7 83.2L304.3 81.6L301.9 80.1L299.6 78.6L297.3 77L295 75.4L292.7 73.8L290.4 72.2L288.2 70.4L285.9 68.4L283.7 66L283.5 65.6L283.3 65.3L283 65L282.8 64.6L282.5 64.2L282.3 63.8L282 63.4L281.8 62.9L281.6 62.5L281.3 61.9L281.1 61.4L280.9 60.8L280.6 60.1L280.4 59.4L280.1 58.6L279.9 57.7L279.7 56.8L279.4 55.7L279.2 54.4L279 53L278.8 51.3L278.5 49.4L278.3 47.1L278.1 44.4L277.9 41.1L277.7 36.9L277.5 31.8L277.4 25.1L277.2 16.2L277 11.6L276.8 11.5L276.5 11.3L276.3 11.2L276 11.1L275.8 10.9L275.5 10.8L275.2 10.7L275 10.5L274.7 10.4" fill="none" stroke="#1a1a1a" stroke-width="0.45" stroke-opacity="0.55" stroke-linejoin="round"/>
<g stroke="#5a5a5a" stroke-width="0.6" fill="none" stroke-opacity="0.95">
<path d="M141.2 117.2L133.1 57.8"/>
<path d="M141.2 117.2L246 213.9"/>
<path d="M246 213.9L244.5 148"/>
<path d="M246 213.9L388.9 133.7"/>
<path d="M388.9 133.7L397.4 72.9"/>
<path d="M133.1 57.8L244.5 148"/>
<path d="M244.5 148L397.4 72.9"/>
<path d="M133.1 57.8L275.2 7.4"/>
<path d="M275.2 7.4L397.4 72.9"/>
</g>
<g stroke="#555" stroke-width="0.45" fill="none">
<path d="M142.9 118.7L145.3 117.7"/>
<path d="M151.3 126.5L152.7 125.9"/>
<path d="M160.1 134.6L161.5 133.9"/>
<path d="M169.2 142.9L170.6 142.3"/>
<path d="M178.6 151.6L180 151"/>
<path d="M188.4 160.7L190.9 159.4"/>
<path d="M198.5 170.1L200 169.3"/>
<path d="M209.1 179.8L210.6 179.1"/>
<path d="M220.1 190L221.6 189.2"/>
<path d="M231.6 200.6L233.1 199.8"/>
<path d="M243.6 211.6L246.3 210.1"/>
<path d="M249.3 212.1L247.2 210.2"/>
<path d="M257.2 207.6L256.1 206.6"/>
<path d="M265.1 203.2L263.9 202.2"/>
<path d="M272.8 198.9L271.6 197.9"/>
<path d="M280.3 194.6L279.2 193.6"/>
<path d="M287.8 190.4L285.7 188.7"/>
<path d="M295.1 186.3L293.9 185.4"/>
<path d="M302.3 182.3L301.1 181.3"/>
<path d="M309.4 178.3L308.2 177.4"/>
<path d="M316.4 174.4L315.2 173.5"/>
<path d="M323.3 170.5L321.2 168.9"/>
<path d="M330.1 166.7L328.9 165.8"/>
<path d="M336.7 163L335.5 162.1"/>
<path d="M343.3 159.3L342.1 158.4"/>
<path d="M349.8 155.6L348.6 154.8"/>
<path d="M356.1 152.1L354 150.6"/>
<path d="M362.4 148.5L361.2 147.7"/>
<path d="M368.6 145.1L367.4 144.3"/>
<path d="M374.7 141.7L373.5 140.9"/>
<path d="M380.7 138.3L379.5 137.5"/>
<path d="M386.6 135L384.4 133.6"/>
<path d="M389.1 132.6L386.9 133.8"/>
<path d="M389.6 128.6L388.4 129.3"/>
<path d="M390.2 124.7L389 125.3"/>
<path d="M390.8 120.7L389.5 121.3"/>
<path d="M391.3 116.6L389.1 117.8"/>
<path d="M391.9 112.6L390.6 113.2"/>
<path d="M392.5 108.4L391.2 109.1"/>
<path d="M393 104.3L391.8 105"/>
<path d="M393.6 100.1L391.4 101.3"/>
<path d="M394.2 95.9L393 96.5"/>
<path d="M394.8 91.6L393.5 92.3"/>
<path d="M395.4 87.3L394.1 88"/>
<path d="M396 83L393.7 84.1"/>
<path d="M396.6 78.6L395.3 79.2"/>
<path d="M397.2 74.2L396 74.8"/>
</g>
<g font-size="5.1" fill="#333" text-anchor="middle">
<text x="138.3" y="123.1">0</text>
<text x="184" y="165.2">5</text>
<text x="238" y="216.9">10</text>
<text x="249.8" y="220.6">−10</text>
<text x="287.6" y="199.2">−5</text>
<text x="323.6" y="178.9">0</text>
<text x="355.6" y="160.2">5</text>
<text x="386.3" y="143.3">10</text>
<text x="398.6" y="138.5">0.000</text>
<text x="401" y="121.9">0.002</text>
<text x="404" y="104.6">0.004</text>
<text x="405.9" y="86.9">0.006</text>
<text x="171.5" y="171.5" font-size="4.6" font-style="italic">ω</text>
<text x="322.1" y="192.2" font-size="4.6" font-style="italic">λ</text>
<text x="413.2" y="117.2" fill="#e8383a" font-size="5">Det</text>
</g>
<g fill="none">
<g stroke="#777" stroke-width="0.5">
<path d="M7.6 380H187.6M97.6 276V386.4"/>
<path d="M7.6 380v-0.9M16.6 380v-0.9M25.6 380v-1.6M34.6 380v-0.9M43.6 380v-0.9M52.6 380v-0.9M61.6 380v-1.6M70.6 380v-0.9M79.6 380v-0.9M88.6 380v-0.9M106.6 380v-0.9M115.6 380v-0.9M124.6 380v-0.9M133.6 380v-1.6M142.6 380v-0.9M151.6 380v-0.9M160.6 380v-0.9M169.6 380v-1.6M178.6 380v-0.9M187.6 380v-0.9M97.6 373.5h0.9M97.6 367h0.9M97.6 360.5h0.9M97.6 354h1.6M97.6 347.5h0.9M97.6 341h0.9M97.6 334.5h0.9M97.6 328h1.6M97.6 321.5h0.9M97.6 315h0.9M97.6 308.5h0.9M97.6 302h1.6M97.6 295.5h0.9M97.6 289h0.9M97.6 282.5h0.9M97.6 276h1.6"/>
</g>
<path d="M7.6 377.6L10.4 377.4L13.1 377.2L15.8 377L18.3 376.8L20.8 376.6L23.2 376.4L25.6 376.2L27.8 375.9L30 375.7L32.1 375.4L34.2 375.1L36.1 374.8L38.1 374.4L39.9 374L41.7 373.7L43.5 373.2L45.2 372.8L46.8 372.3L48.4 371.8L49.9 371.3L51.4 370.7L52.9 370.1L54.3 369.5L55.6 368.8L56.9 368L58.2 367.2L59.4 366.4L60.6 365.5L61.8 364.6L62.9 363.5L64 362.5L65.1 361.3L66.1 360.1L67.1 358.8L68 357.4L68.9 355.9L69.8 354.3L70.7 352.6L71.5 350.8L72.4 348.9L73.2 346.9L73.9 344.7L74.7 342.4L75.4 339.9L76.1 337.3L76.7 334.5L77.4 331.5L78 328.3L78.6 324.9L79.2 321.3L79.8 317.5L80.4 313.4L80.9 309L81.4 304.3L81.9 299.4L82.4 294.1L82.9 288.4L83.4 282.4L83.8 276M111.4 276L111.8 282.4L112.3 288.4L112.8 294.1L113.3 299.4L113.8 304.3L114.3 309L114.8 313.4L115.4 317.5L116 321.3L116.6 324.9L117.2 328.3L117.8 331.5L118.5 334.5L119.1 337.3L119.8 339.9L120.5 342.4L121.3 344.7L122 346.9L122.8 348.9L123.7 350.8L124.5 352.6L125.4 354.3L126.3 355.9L127.2 357.4L128.1 358.8L129.1 360.1L130.1 361.3L131.2 362.5L132.3 363.5L133.4 364.6L134.6 365.5L135.8 366.4L137 367.2L138.3 368L139.6 368.8L140.9 369.5L142.3 370.1L143.8 370.7L145.3 371.3L146.8 371.8L148.4 372.3L150 372.8L151.7 373.2L153.5 373.7L155.3 374L157.1 374.4L159.1 374.8L161 375.1L163.1 375.4L165.2 375.7L167.4 375.9L169.6 376.2L172 376.4L174.4 376.6L176.9 376.8L179.4 377L182.1 377.2L184.8 377.4L187.6 377.6" stroke="#4646ff" stroke-width="1" stroke-dasharray="1 1.9 2.2 1.8"/>
<path d="M7.6 379.6L11.8 379.6L15.7 379.5L19.5 379.5L23.1 379.4L26.6 379.4L29.8 379.3L33 379.2L36 379.2L38.8 379.1L41.5 379L44.1 378.9L46.6 378.8L48.9 378.7L51.2 378.5L53.3 378.4L55.4 378.2L57.3 378L59.2 377.9L61 377.6L62.7 377.4L64.3 377.1L65.8 376.9L67.3 376.6L68.7 376.2L70 375.8L71.3 375.4L72.5 375L73.7 374.5L74.8 373.9L75.8 373.3L76.8 372.7L77.8 371.9L78.7 371.1L79.6 370.2L80.4 369.3L81.2 368.2L82 367L82.7 365.7L83.4 364.3L84 362.8L84.7 361.1L85.3 359.2L85.8 357.1L86.4 354.8L86.9 352.4L87.4 349.6L87.9 346.6L88.3 343.3L88.7 339.6L89.2 335.6L89.5 331.2L89.9 326.4L90.3 321.1L90.6 315.2L90.9 308.8L91.2 301.7L91.5 293.9L91.8 285.4L92.1 276M103.1 276L103.4 285.4L103.7 293.9L104 301.7L104.3 308.8L104.6 315.2L104.9 321.1L105.3 326.4L105.7 331.2L106 335.6L106.5 339.6L106.9 343.3L107.3 346.6L107.8 349.6L108.3 352.4L108.8 354.8L109.4 357.1L109.9 359.2L110.5 361.1L111.2 362.8L111.8 364.3L112.5 365.7L113.2 367L114 368.2L114.8 369.3L115.6 370.2L116.5 371.1L117.4 371.9L118.4 372.7L119.4 373.3L120.4 373.9L121.5 374.5L122.7 375L123.9 375.4L125.2 375.8L126.5 376.2L127.9 376.6L129.4 376.9L130.9 377.1L132.5 377.4L134.2 377.6L136 377.9L137.9 378L139.8 378.2L141.9 378.4L144 378.5L146.3 378.7L148.6 378.8L151.1 378.9L153.7 379L156.4 379.1L159.2 379.2L162.2 379.2L165.4 379.3L168.6 379.4L172.1 379.4L175.7 379.5L179.5 379.5L183.4 379.6L187.6 379.6" stroke="#ff5050" stroke-width="1.35" stroke-dasharray="0.01 3.3" stroke-linecap="round"/>
<path d="M7.6 380L13.8 380L19.5 380L24.8 380L29.8 380L34.4 380L38.8 379.9L42.8 379.9L46.5 379.9L50 379.9L53.3 379.9L56.3 379.9L59.1 379.9L61.8 379.8L64.2 379.8L66.5 379.8L68.6 379.8L70.6 379.7L72.4 379.7L74.2 379.6L75.8 379.6L77.3 379.5L78.6 379.4L79.9 379.4L81.2 379.3L82.3 379.2L83.3 379L84.3 378.9L85.2 378.7L86.1 378.5L86.8 378.3L87.6 378L88.3 377.7L88.9 377.4L89.5 377L90.1 376.5L90.6 376L91 375.4L91.5 374.7L91.9 373.9L92.3 372.9L92.7 371.9L93 370.6L93.3 369.2L93.6 367.6L93.9 365.7L94.1 363.5L94.4 361L94.6 358.1L94.8 354.8L95 350.9L95.2 346.5L95.3 341.4L95.5 335.5L95.6 328.8L95.8 321L95.9 312L96 301.7L96.1 289.7L96.2 276M99 276L99.1 289.7L99.2 301.7L99.3 312L99.4 321L99.6 328.8L99.7 335.5L99.9 341.4L100 346.5L100.2 350.9L100.4 354.8L100.6 358.1L100.8 361L101.1 363.5L101.3 365.7L101.6 367.6L101.9 369.2L102.2 370.6L102.5 371.9L102.9 372.9L103.3 373.9L103.7 374.7L104.2 375.4L104.6 376L105.1 376.5L105.7 377L106.3 377.4L106.9 377.7L107.6 378L108.4 378.3L109.1 378.5L110 378.7L110.9 378.9L111.9 379L112.9 379.2L114 379.3L115.3 379.4L116.6 379.4L117.9 379.5L119.4 379.6L121 379.6L122.8 379.7L124.6 379.7L126.6 379.8L128.7 379.8L131 379.8L133.4 379.8L136.1 379.9L138.9 379.9L141.9 379.9L145.2 379.9L148.7 379.9L152.4 379.9L156.4 379.9L160.8 380L165.4 380L170.4 380L175.7 380L181.4 380L187.6 380" stroke="#9c46b0" stroke-width="1.1" stroke-linejoin="round"/>
<path d="M197.3 318.7H213.3" stroke="#4646ff" stroke-width="1" stroke-dasharray="1 1.9 2.2 1.8"/>
<path d="M198 328.2H213.3" stroke="#ff5050" stroke-width="1.35" stroke-dasharray="0.01 3.3" stroke-linecap="round"/>
<path d="M197.3 337.2H213.3" stroke="#a04cb4" stroke-width="1.1"/>
</g>
<g font-size="4.2" fill="#444" text-anchor="middle">
<text x="25.3" y="384.9">−4</text>
<text x="61.3" y="384.9">−2</text>
<text x="133.3" y="384.9">2</text>
<text x="169.3" y="384.9">4</text>
<text x="96.4" y="355.5" text-anchor="end">2</text>
<text x="96.4" y="329.5" text-anchor="end">4</text>
<text x="96.4" y="303.5" text-anchor="end">6</text>
<text x="96.4" y="277.5" text-anchor="end">8</text>
</g>
<text x="97" y="273.4" font-size="4" fill="#9a3fae" text-anchor="middle">Determinant</text>
<text x="190.4" y="381.5" font-size="4.6" fill="#9a3fae" text-anchor="middle" font-style="italic">λ</text>
<g font-size="5.15" fill="#2c2c2c" stroke="#2c2c2c" stroke-width="0.1">
<text x="216.9" y="320.6">Determinant(0.1, <tspan font-style="italic">λ</tspan>)</text>
<text x="216.9" y="330.1">Determinant(0.25, <tspan font-style="italic">λ</tspan>)</text>
<text x="216.9" y="339.1">Determinant(1, <tspan font-style="italic">λ</tspan>)</text>
</g>
<g fill="none">
<g stroke="#777" stroke-width="0.5">
<path d="M284.5 376.5H464M295.6 276V387"/>
<path d="M284.4 376.5v-0.9M306.8 376.5v-0.9M318 376.5v-0.9M329.2 376.5v-0.9M340.4 376.5v-0.9M351.6 376.5v-1.6M362.8 376.5v-0.9M374 376.5v-0.9M385.2 376.5v-0.9M396.4 376.5v-0.9M407.6 376.5v-1.6M418.8 376.5v-0.9M430 376.5v-0.9M441.2 376.5v-0.9M452.4 376.5v-0.9M463.6 376.5v-1.6M295.6 372.5h0.9M295.6 368.5h0.9M295.6 364.4h0.9M295.6 360.4h0.9M295.6 356.4h1.6M295.6 352.4h0.9M295.6 348.4h0.9M295.6 344.3h0.9M295.6 340.3h0.9M295.6 336.3h1.6M295.6 332.3h0.9M295.6 328.3h0.9M295.6 324.2h0.9M295.6 320.2h0.9M295.6 316.2h1.6M295.6 312.2h0.9M295.6 308.2h0.9M295.6 304.1h0.9M295.6 300.1h0.9M295.6 296.1h1.6M295.6 292.1h0.9M295.6 288.1h0.9M295.6 284h0.9M295.6 280h0.9M295.6 276h1.6"/>
</g>
<path d="M302.8 276L303.2 284.8L303.5 292.7L303.9 300L304.3 306.7L304.7 312.8L305.1 318.3L305.6 323.4L306 328L306.5 332.2L307 336.1L307.6 339.6L308.1 342.8L308.7 345.8L309.3 348.4L309.9 350.9L310.6 353.1L311.3 355.2L312 357L312.8 358.7L313.6 360.3L314.5 361.7L315.3 363L316.2 364.1L317.2 365.2L318.2 366.2L319.3 367.1L320.4 367.9L321.5 368.7L322.7 369.4L324 370L325.3 370.5L326.7 371.1L328.2 371.5L329.7 372L331.3 372.4L332.9 372.7L334.7 373.1L336.5 373.4L338.4 373.6L340.4 373.9L342.5 374.1L344.7 374.3L347 374.5L349.4 374.7L351.9 374.8L354.5 375L357.2 375.1L360.1 375.2L363.1 375.3L366.3 375.4L369.6 375.5L373 375.6L376.6 375.7L380.4 375.8L384.4 375.8L388.5 375.9L392.8 375.9L397.4 376L402.1 376L407.1 376.1L412.3 376.1L417.7 376.1L423.4 376.2L429.4 376.2L435.6 376.2L442.1 376.3L449 376.3L456.1 376.3L463.6 376.3" stroke="#a8e8a8" stroke-width="0.6"/>
<path d="M317.3 276L318 281.8L318.6 287.2L319.3 292.4L320.1 297.2L320.8 301.8L321.5 306.1L322.3 310.1L323.1 314L324 317.6L324.8 321L325.7 324.2L326.6 327.2L327.5 330L328.5 332.7L329.5 335.2L330.5 337.6L331.6 339.8L332.6 341.9L333.7 343.9L334.9 345.8L336.1 347.6L337.3 349.2L338.6 350.8L339.8 352.3L341.2 353.7L342.5 355L344 356.2L345.4 357.4L346.9 358.5L348.5 359.5L350 360.5L351.7 361.4L353.4 362.3L355.1 363.1L356.9 363.9L358.8 364.6L360.7 365.3L362.6 365.9L364.6 366.6L366.7 367.1L368.8 367.7L371 368.2L373.3 368.7L375.7 369.1L378.1 369.5L380.5 369.9L383.1 370.3L385.7 370.7L388.4 371L391.2 371.3L394.1 371.6L397.1 371.9L400.1 372.2L403.3 372.4L406.5 372.6L409.9 372.9L413.3 373.1L416.8 373.3L420.5 373.5L424.3 373.6L428.1 373.8L432.1 374L436.2 374.1L440.5 374.2L444.8 374.4L449.3 374.5L453.9 374.6L458.7 374.7L463.6 374.8" stroke="#ff4040" stroke-width="1" stroke-dasharray="1 1.9 2.2 1.8"/>
<path d="M306.5 276L306.9 283.7L307.4 290.8L307.8 297.3L308.3 303.3L308.8 308.9L309.4 314.1L309.9 318.8L310.5 323.2L311.1 327.3L311.8 331.1L312.4 334.5L313.1 337.7L313.8 340.7L314.5 343.4L315.3 346L316.1 348.3L316.9 350.4L317.8 352.4L318.7 354.3L319.6 356L320.6 357.5L321.6 359L322.7 360.3L323.8 361.5L324.9 362.7L326.1 363.7L327.3 364.7L328.6 365.6L329.9 366.4L331.3 367.2L332.8 367.9L334.3 368.6L335.8 369.2L337.5 369.7L339.2 370.3L340.9 370.7L342.8 371.2L344.7 371.6L346.7 372L348.7 372.3L350.9 372.6L353.1 372.9L355.5 373.2L357.9 373.4L360.4 373.7L363 373.9L365.8 374.1L368.6 374.3L371.5 374.4L374.6 374.6L377.8 374.7L381.2 374.9L384.6 375L388.2 375.1L392 375.2L395.9 375.3L399.9 375.4L404.2 375.5L408.6 375.6L413.1 375.6L417.9 375.7L422.8 375.8L428 375.8L433.4 375.9L438.9 375.9L444.7 376L450.8 376L457.1 376L463.6 376.1" stroke="#5050ff" stroke-width="1.35" stroke-dasharray="0.01 3.3" stroke-linecap="round"/>
<path d="M301 276L301.3 285.5L301.6 294.1L301.9 301.9L302.2 309L302.6 315.4L302.9 321.2L303.3 326.4L303.7 331.2L304.1 335.4L304.5 339.3L305 342.9L305.5 346L306 348.9L306.5 351.5L307 353.9L307.6 356L308.2 358L308.9 359.7L309.6 361.3L310.3 362.8L311 364.1L311.8 365.2L312.6 366.3L313.5 367.3L314.4 368.1L315.4 368.9L316.4 369.7L317.5 370.3L318.6 370.9L319.7 371.4L321 371.9L322.3 372.3L323.6 372.7L325.1 373.1L326.6 373.4L328.1 373.7L329.8 374L331.5 374.2L333.4 374.4L335.3 374.6L337.3 374.8L339.5 375L341.7 375.1L344 375.2L346.5 375.4L349.1 375.5L351.8 375.6L354.7 375.7L357.7 375.7L360.9 375.8L364.2 375.9L367.7 375.9L371.4 376L375.3 376L379.3 376.1L383.6 376.1L388.1 376.2L392.8 376.2L397.8 376.2L403 376.2L408.4 376.3L414.2 376.3L420.3 376.3L426.6 376.3L433.3 376.3L440.3 376.4L447.7 376.4L455.4 376.4L463.6 376.4" stroke="#bb80cb" stroke-width="1.7" stroke-linejoin="round"/>
<path d="M476.5 314.2H491.9" stroke="#5050ff" stroke-width="1.35" stroke-dasharray="0.01 3.3" stroke-linecap="round"/>
<path d="M475.9 323.5H491.9" stroke="#ff4040" stroke-width="1" stroke-dasharray="1 1.9 2.2 1.8"/>
<path d="M475.9 332.6H491.9" stroke="#a8e8a8" stroke-width="0.6"/>
<path d="M475.9 341.7H491.9" stroke="#bb80cb" stroke-width="1.7"/>
</g>
<g font-size="4.2" fill="#444" text-anchor="middle">
<text x="351.6" y="381.1">0.5</text>
<text x="407.6" y="381.1">1.0</text>
<text x="463.6" y="381.1">1.5</text>
<text x="294.4" y="357.9" text-anchor="end">1</text>
<text x="294.4" y="337.8" text-anchor="end">2</text>
<text x="294.4" y="317.7" text-anchor="end">3</text>
<text x="294.4" y="297.6" text-anchor="end">4</text>
<text x="294.4" y="277.5" text-anchor="end">5</text>
</g>
<text x="295.5" y="272.5" font-size="3.9" fill="#9a3fae" text-anchor="middle">Determinant</text>
<text x="468.7" y="378.6" font-size="4.6" fill="#f03c3c" text-anchor="middle" font-style="italic">ω</text>
<g font-size="5.15" fill="#2c2c2c" stroke="#2c2c2c" stroke-width="0.1">
<text x="495.1" y="316.1">Determinant(<tspan font-style="italic">ω</tspan>, −1)</text>
<text x="495.1" y="325.4">Determinant(<tspan font-style="italic">ω</tspan>, 0.5)</text>
<text x="495.1" y="334.5">Determinant(<tspan font-style="italic">ω</tspan>, 1.5)</text>
<text x="495.1" y="343.6">Determinant(<tspan font-style="italic">ω</tspan>, −2)</text>
</g>
<g class="cap">
<text x="273.5" y="252.6" text-anchor="middle" class="cap">(<tspan font-weight="bold">a</tspan>)</text>
<text x="136.8" y="417.6" text-anchor="middle" class="cap">(<tspan font-weight="bold">b</tspan>)</text>
<text x="412.9" y="417.6" text-anchor="middle" class="cap">(<tspan font-weight="bold">c</tspan>)</text>
</g>
</svg></body></html>
